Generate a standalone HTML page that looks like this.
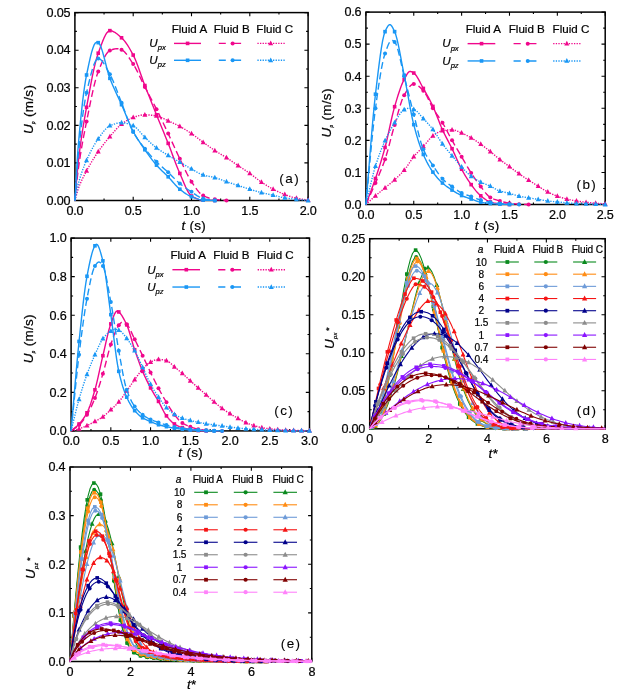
<!DOCTYPE html>
<html><head><meta charset="utf-8"><title>Figure</title>
<style>html,body{margin:0;padding:0;background:#fff;}svg{display:block;will-change:transform;opacity:0.999;}text{font-family:"Liberation Sans", sans-serif;fill:#000;stroke:#000;stroke-width:0.22px;}.tk{font-size:12.6px;letter-spacing:-0.2px;}.lg{font-size:11.6px;}.lg2{font-size:10.1px;letter-spacing:-0.1px;}.ul{font-size:11.6px;}.sb{font-size:7.6px;}.ax{font-size:13.5px;letter-spacing:0.3px;}.pl{font-size:13.5px;letter-spacing:1.4px;stroke-width:0.1px;}</style></head><body>
<svg width="629" height="698" viewBox="0 0 629 698">
<defs><clipPath id="ca"><rect x="71.9" y="9.6" width="239.2" height="193.9"/></clipPath><clipPath id="cb"><rect x="362.9" y="9.1" width="245.3" height="198.4"/></clipPath><clipPath id="cc"><rect x="68.1" y="235.1" width="244.4" height="198.8"/></clipPath><clipPath id="cd"><rect x="366.7" y="235.7" width="241.5" height="196.1"/></clipPath><clipPath id="ce"><rect x="67" y="464" width="247.8" height="200.5"/></clipPath></defs>
<path d="M74.9 200.5 v-3.7 M74.9 12.6 v3.7 M104.05 200.5 v-2 M104.05 12.6 v2 M133.2 200.5 v-3.7 M133.2 12.6 v3.7 M162.35 200.5 v-2 M162.35 12.6 v2 M191.5 200.5 v-3.7 M191.5 12.6 v3.7 M220.65 200.5 v-2 M220.65 12.6 v2 M249.8 200.5 v-3.7 M249.8 12.6 v3.7 M278.95 200.5 v-2 M278.95 12.6 v2 M308.1 200.5 v-3.7 M308.1 12.6 v3.7 M74.9 200.5 h3.7 M308.1 200.5 h-3.7 M74.9 181.71 h2 M308.1 181.71 h-2 M74.9 162.92 h3.7 M308.1 162.92 h-3.7 M74.9 144.13 h2 M308.1 144.13 h-2 M74.9 125.34 h3.7 M308.1 125.34 h-3.7 M74.9 106.55 h2 M308.1 106.55 h-2 M74.9 87.76 h3.7 M308.1 87.76 h-3.7 M74.9 68.97 h2 M308.1 68.97 h-2 M74.9 50.18 h3.7 M308.1 50.18 h-3.7 M74.9 31.39 h2 M308.1 31.39 h-2 M74.9 12.6 h3.7 M308.1 12.6 h-3.7" stroke="#000" stroke-width="1.1" fill="none"/>
<rect x="74.9" y="12.6" width="233.2" height="187.9" fill="none" stroke="#000" stroke-width="1.5"/>
<text x="74.9" y="214.8" text-anchor="middle" class="tk">0.0</text>
<text x="133.2" y="214.8" text-anchor="middle" class="tk">0.5</text>
<text x="191.5" y="214.8" text-anchor="middle" class="tk">1.0</text>
<text x="249.8" y="214.8" text-anchor="middle" class="tk">1.5</text>
<text x="308.1" y="214.8" text-anchor="middle" class="tk">2.0</text>
<text x="70.3" y="204.8" text-anchor="end" class="tk">0.00</text>
<text x="70.3" y="167.22" text-anchor="end" class="tk">0.01</text>
<text x="70.3" y="129.64" text-anchor="end" class="tk">0.02</text>
<text x="70.3" y="92.06" text-anchor="end" class="tk">0.03</text>
<text x="70.3" y="54.48" text-anchor="end" class="tk">0.04</text>
<text x="70.3" y="16.9" text-anchor="end" class="tk">0.05</text>
<g clip-path="url(#ca)"><path d="M74.9 200.5 L75.34 195.44 L75.77 190.2 L76.21 184.88 L76.65 179.61 L77.09 174.47 L77.52 169.6 L77.96 165.08 L78.4 161.04 L79.42 152.61 L80.44 144.86 L81.46 137.68 L82.48 130.99 L83.5 124.7 L84.52 118.71 L85.54 112.95 L86.56 107.3 L88.02 99.27 L89.48 91.32 L90.93 83.58 L92.39 76.21 L93.85 69.33 L95.31 63.11 L96.76 57.68 L98.22 53.19 L99.68 49.17 L101.14 45.19 L102.59 41.39 L104.05 37.93 L105.51 34.97 L106.97 32.67 L108.42 31.17 L109.88 30.64 L111.34 30.81 L112.8 31.28 L114.25 32.01 L115.71 32.95 L117.17 34.04 L118.62 35.24 L120.08 36.5 L121.54 37.78 L123 39.19 L124.46 40.87 L125.91 42.79 L127.37 44.93 L128.83 47.25 L130.28 49.74 L131.74 52.35 L133.2 55.07 L134.66 58.08 L136.12 61.52 L137.57 65.3 L139.03 69.31 L140.49 73.44 L141.95 77.58 L143.4 81.64 L144.86 85.51 L146.32 89.23 L147.78 92.93 L149.23 96.61 L150.69 100.28 L152.15 103.93 L153.61 107.57 L155.06 111.2 L156.52 114.82 L157.98 118.41 L159.44 121.98 L160.89 125.52 L162.35 129.05 L163.81 132.59 L165.27 136.15 L166.72 139.74 L168.18 143.38 L169.64 147.12 L171.1 150.99 L172.55 154.92 L174.01 158.85 L175.47 162.73 L176.93 166.49 L178.38 170.08 L179.84 173.44 L181.3 176.78 L182.76 180.26 L184.21 183.74 L185.67 187.06 L187.13 190.1 L188.59 192.69 L190.04 194.71 L191.5 195.99 L192.96 196.83 L194.42 197.59 L195.87 198.26 L197.33 198.84 L198.79 199.33 L200.25 199.71 L201.7 199.98 L203.16 200.12 L204.62 200.2 L206.08 200.26 L207.53 200.31 L208.99 200.35 L210.45 200.39 L211.91 200.42 L213.36 200.46 L214.82 200.5" fill="none" stroke="#F0078C" stroke-width="1.4" stroke-linejoin="round"/>
<rect x="84.76" y="105.5" width="3.6" height="3.6" fill="#F0078C"/>
<rect x="96.42" y="51.39" width="3.6" height="3.6" fill="#F0078C"/>
<rect x="108.08" y="28.84" width="3.6" height="3.6" fill="#F0078C"/>
<rect x="119.74" y="35.98" width="3.6" height="3.6" fill="#F0078C"/>
<rect x="131.4" y="53.27" width="3.6" height="3.6" fill="#F0078C"/>
<rect x="143.06" y="83.71" width="3.6" height="3.6" fill="#F0078C"/>
<rect x="154.72" y="113.02" width="3.6" height="3.6" fill="#F0078C"/>
<rect x="166.38" y="141.58" width="3.6" height="3.6" fill="#F0078C"/>
<rect x="178.04" y="171.64" width="3.6" height="3.6" fill="#F0078C"/>
<rect x="189.7" y="194.19" width="3.6" height="3.6" fill="#F0078C"/>
<rect x="201.36" y="198.32" width="3.6" height="3.6" fill="#F0078C"/>
<rect x="213.02" y="198.7" width="3.6" height="3.6" fill="#F0078C"/>
<path d="M74.9 200.5 L75.34 196.42 L75.77 192.21 L76.21 187.95 L76.65 183.72 L77.09 179.59 L77.52 175.63 L77.96 171.93 L78.4 168.56 L79.42 161.4 L80.44 154.76 L81.46 148.54 L82.48 142.7 L83.5 137.15 L84.52 131.82 L85.54 126.66 L86.56 121.58 L88.02 114.31 L89.48 107.03 L90.93 99.91 L92.39 93.07 L93.85 86.67 L95.31 80.87 L96.76 75.79 L98.22 71.6 L99.68 67.93 L101.14 64.39 L102.59 61.05 L104.05 58.02 L105.51 55.36 L106.97 53.18 L108.42 51.55 L109.88 50.56 L110.75 50.18 L111.63 49.83 L112.5 49.51 L113.38 49.23 L114.25 49 L115.13 48.83 L116 48.72 L116.88 48.68 L117.46 48.7 L118.04 48.77 L118.62 48.88 L119.21 49.03 L119.79 49.2 L120.37 49.39 L120.96 49.59 L121.54 49.8 L123 50.59 L124.46 51.81 L125.91 53.41 L127.37 55.28 L128.83 57.37 L130.28 59.58 L131.74 61.85 L133.2 64.08 L134.66 66.45 L136.12 69.08 L137.57 71.93 L139.03 74.93 L140.49 78 L141.95 81.08 L143.4 84.11 L144.86 87.01 L146.32 89.8 L147.78 92.55 L149.23 95.28 L150.69 98.01 L152.15 100.74 L153.61 103.5 L155.06 106.31 L156.52 109.18 L157.98 112.12 L159.44 115.1 L160.89 118.14 L162.35 121.2 L163.81 124.29 L165.27 127.39 L166.72 130.5 L168.18 133.61 L169.64 136.73 L171.1 139.9 L172.55 143.1 L174.01 146.3 L175.47 149.48 L176.93 152.64 L178.38 155.75 L179.84 158.79 L181.3 161.83 L182.76 164.93 L184.21 168.03 L185.67 171.08 L187.13 174.03 L188.59 176.82 L190.04 179.4 L191.5 181.71 L192.96 183.88 L194.42 186.04 L195.87 188.13 L197.33 190.09 L198.79 191.87 L200.25 193.42 L201.7 194.69 L203.16 195.61 L204.62 196.32 L206.08 196.95 L207.53 197.52 L208.99 198.02 L210.45 198.45 L211.91 198.82 L213.36 199.13 L214.82 199.37 L216.28 199.57 L217.74 199.74 L219.19 199.88 L220.65 200.01 L222.11 200.13 L223.57 200.25 L225.02 200.37 L226.48 200.5" fill="none" stroke="#F0078C" stroke-width="1.4" stroke-dasharray="7 3.5" stroke-linejoin="round"/>
<circle cx="86.56" cy="121.58" r="2" fill="#F0078C"/>
<circle cx="98.22" cy="71.6" r="2" fill="#F0078C"/>
<circle cx="109.88" cy="50.56" r="2" fill="#F0078C"/>
<circle cx="121.54" cy="49.8" r="2" fill="#F0078C"/>
<circle cx="133.2" cy="64.08" r="2" fill="#F0078C"/>
<circle cx="144.86" cy="87.01" r="2" fill="#F0078C"/>
<circle cx="156.52" cy="109.18" r="2" fill="#F0078C"/>
<circle cx="168.18" cy="133.61" r="2" fill="#F0078C"/>
<circle cx="179.84" cy="158.79" r="2" fill="#F0078C"/>
<circle cx="191.5" cy="181.71" r="2" fill="#F0078C"/>
<circle cx="203.16" cy="195.61" r="2" fill="#F0078C"/>
<circle cx="214.82" cy="199.37" r="2" fill="#F0078C"/>
<circle cx="226.48" cy="200.5" r="2" fill="#F0078C"/>
<path d="M74.9 200.5 L75.34 198.96 L75.77 197.38 L76.21 195.78 L76.65 194.18 L77.09 192.63 L77.52 191.14 L77.96 189.74 L78.4 188.47 L79.42 185.79 L80.44 183.29 L81.46 180.96 L82.48 178.77 L83.5 176.69 L84.52 174.69 L85.54 172.74 L86.56 170.81 L88.02 168.12 L89.48 165.52 L90.93 163.01 L92.39 160.59 L93.85 158.25 L95.31 155.98 L96.76 153.78 L98.22 151.65 L99.68 149.57 L101.14 147.56 L102.59 145.62 L104.05 143.72 L105.51 141.88 L106.97 140.08 L108.42 138.33 L109.88 136.61 L111.34 134.9 L112.8 133.18 L114.25 131.47 L115.71 129.81 L117.17 128.22 L118.62 126.74 L120.08 125.4 L121.54 124.21 L123 123.14 L124.46 122.1 L125.91 121.12 L127.37 120.21 L128.83 119.37 L130.28 118.63 L131.74 117.98 L133.2 117.45 L134.66 116.97 L136.12 116.5 L137.57 116.06 L139.03 115.66 L140.49 115.32 L141.95 115.05 L143.4 114.88 L144.86 114.82 L146.32 114.84 L147.78 114.91 L149.23 115.01 L150.69 115.15 L152.15 115.32 L153.61 115.51 L155.06 115.72 L156.52 115.94 L157.98 116.26 L159.44 116.72 L160.89 117.3 L162.35 117.96 L163.81 118.68 L165.27 119.42 L166.72 120.14 L168.18 120.83 L169.64 121.49 L171.1 122.15 L172.55 122.83 L174.01 123.52 L175.47 124.22 L176.93 124.95 L178.38 125.69 L179.84 126.47 L181.3 127.27 L182.76 128.1 L184.21 128.96 L185.67 129.85 L187.13 130.76 L188.59 131.69 L190.04 132.64 L191.5 133.61 L192.96 134.61 L194.42 135.66 L195.87 136.75 L197.33 137.85 L198.79 138.97 L200.25 140.08 L201.7 141.18 L203.16 142.25 L204.62 143.31 L206.08 144.37 L207.53 145.43 L208.99 146.48 L210.45 147.52 L211.91 148.55 L213.36 149.55 L214.82 150.52 L216.28 151.46 L217.74 152.36 L219.19 153.24 L220.65 154.11 L222.11 154.97 L223.57 155.85 L225.02 156.74 L226.48 157.66 L227.94 158.61 L229.4 159.58 L230.85 160.56 L232.31 161.56 L233.77 162.56 L235.23 163.56 L236.68 164.56 L238.14 165.55 L239.6 166.53 L241.06 167.51 L242.51 168.48 L243.97 169.45 L245.43 170.43 L246.89 171.42 L248.34 172.42 L249.8 173.44 L251.26 174.5 L252.72 175.59 L254.17 176.7 L255.63 177.82 L257.09 178.93 L258.55 180.02 L260 181.08 L261.46 182.09 L262.92 183.06 L264.38 184.02 L265.83 184.96 L267.29 185.88 L268.75 186.77 L270.21 187.62 L271.66 188.45 L273.12 189.23 L274.58 189.97 L276.04 190.69 L277.49 191.39 L278.95 192.07 L280.41 192.71 L281.87 193.33 L283.32 193.92 L284.78 194.49 L286.24 195.03 L287.7 195.57 L289.15 196.1 L290.61 196.6 L292.07 197.07 L293.53 197.51 L294.98 197.9 L296.44 198.25 L297.9 198.54 L299.36 198.8 L300.81 199.04 L302.27 199.26 L303.73 199.47 L305.19 199.68 L306.64 199.9 L308.1 200.12" fill="none" stroke="#F0078C" stroke-width="1.4" stroke-dasharray="1.3 1.3" stroke-linejoin="round"/>
<path d="M86.56 167.94 L84.06 172.69 L89.06 172.69 Z" fill="#F0078C"/>
<path d="M98.22 148.77 L95.72 153.52 L100.72 153.52 Z" fill="#F0078C"/>
<path d="M109.88 133.74 L107.38 138.49 L112.38 138.49 Z" fill="#F0078C"/>
<path d="M121.54 121.34 L119.04 126.09 L124.04 126.09 Z" fill="#F0078C"/>
<path d="M133.2 114.57 L130.7 119.32 L135.7 119.32 Z" fill="#F0078C"/>
<path d="M144.86 111.94 L142.36 116.69 L147.36 116.69 Z" fill="#F0078C"/>
<path d="M156.52 113.07 L154.02 117.82 L159.02 117.82 Z" fill="#F0078C"/>
<path d="M168.18 117.96 L165.68 122.71 L170.68 122.71 Z" fill="#F0078C"/>
<path d="M179.84 123.59 L177.34 128.34 L182.34 128.34 Z" fill="#F0078C"/>
<path d="M191.5 130.73 L189 135.48 L194 135.48 Z" fill="#F0078C"/>
<path d="M203.16 139.38 L200.66 144.13 L205.66 144.13 Z" fill="#F0078C"/>
<path d="M214.82 147.64 L212.32 152.39 L217.32 152.39 Z" fill="#F0078C"/>
<path d="M226.48 154.78 L223.98 159.53 L228.98 159.53 Z" fill="#F0078C"/>
<path d="M238.14 162.68 L235.64 167.43 L240.64 167.43 Z" fill="#F0078C"/>
<path d="M249.8 170.57 L247.3 175.32 L252.3 175.32 Z" fill="#F0078C"/>
<path d="M261.46 179.21 L258.96 183.96 L263.96 183.96 Z" fill="#F0078C"/>
<path d="M273.12 186.35 L270.62 191.1 L275.62 191.1 Z" fill="#F0078C"/>
<path d="M284.78 191.61 L282.28 196.36 L287.28 196.36 Z" fill="#F0078C"/>
<path d="M296.44 195.37 L293.94 200.12 L298.94 200.12 Z" fill="#F0078C"/>
<path d="M308.1 197.25 L305.6 202 L310.6 202 Z" fill="#F0078C"/>
<path d="M74.9 200.5 L75.34 193.24 L75.77 185.66 L76.21 177.97 L76.65 170.33 L77.09 162.95 L77.52 155.99 L77.96 149.66 L78.4 144.13 L79.42 132.65 L80.44 121.87 L81.46 111.86 L82.48 102.65 L83.5 94.31 L84.52 86.88 L85.54 80.42 L86.56 74.98 L87.8 69.01 L89.04 63.16 L90.28 57.64 L91.52 52.67 L92.75 48.44 L93.99 45.16 L95.23 43.04 L96.47 42.29 L96.69 42.3 L96.91 42.32 L97.13 42.36 L97.35 42.4 L97.56 42.46 L97.78 42.52 L98 42.59 L98.22 42.66 L99.68 44.15 L101.14 47.36 L102.59 51.86 L104.05 57.21 L105.51 62.97 L106.97 68.71 L108.42 73.98 L109.88 78.36 L111.34 82.03 L112.8 85.49 L114.25 88.8 L115.71 91.99 L117.17 95.13 L118.62 98.26 L120.08 101.42 L121.54 104.67 L123 108.05 L124.46 111.54 L125.91 115.08 L127.37 118.6 L128.83 122.05 L130.28 125.36 L131.74 128.48 L133.2 131.35 L134.66 134 L136.12 136.51 L137.57 138.9 L139.03 141.19 L140.49 143.4 L141.95 145.55 L143.4 147.67 L144.86 149.77 L146.32 151.85 L147.78 153.91 L149.23 155.93 L150.69 157.91 L152.15 159.83 L153.61 161.69 L155.06 163.47 L156.52 165.17 L157.98 166.78 L159.44 168.3 L160.89 169.75 L162.35 171.16 L163.81 172.54 L165.27 173.94 L166.72 175.36 L168.18 176.82 L169.64 178.38 L171.1 180.01 L172.55 181.69 L174.01 183.36 L175.47 184.99 L176.93 186.54 L178.38 187.96 L179.84 189.23 L181.3 190.38 L182.76 191.5 L184.21 192.57 L185.67 193.57 L187.13 194.5 L188.59 195.35 L190.04 196.1 L191.5 196.74 L192.96 197.32 L194.42 197.89 L195.87 198.44 L197.33 198.93 L198.79 199.36 L200.25 199.72 L201.7 199.98 L203.16 200.12 L204.62 200.2 L206.08 200.26 L207.53 200.31 L208.99 200.35 L210.45 200.39 L211.91 200.42 L213.36 200.46 L214.82 200.5" fill="none" stroke="#1A97F5" stroke-width="1.4" stroke-linejoin="round"/>
<rect x="84.76" y="73.18" width="3.6" height="3.6" fill="#1A97F5"/>
<rect x="96.42" y="40.86" width="3.6" height="3.6" fill="#1A97F5"/>
<rect x="108.08" y="76.56" width="3.6" height="3.6" fill="#1A97F5"/>
<rect x="119.74" y="102.87" width="3.6" height="3.6" fill="#1A97F5"/>
<rect x="131.4" y="129.55" width="3.6" height="3.6" fill="#1A97F5"/>
<rect x="143.06" y="147.97" width="3.6" height="3.6" fill="#1A97F5"/>
<rect x="154.72" y="163.37" width="3.6" height="3.6" fill="#1A97F5"/>
<rect x="166.38" y="175.02" width="3.6" height="3.6" fill="#1A97F5"/>
<rect x="178.04" y="187.43" width="3.6" height="3.6" fill="#1A97F5"/>
<rect x="189.7" y="194.94" width="3.6" height="3.6" fill="#1A97F5"/>
<rect x="201.36" y="198.32" width="3.6" height="3.6" fill="#1A97F5"/>
<rect x="213.02" y="198.7" width="3.6" height="3.6" fill="#1A97F5"/>
<path d="M74.9 200.5 L75.34 194.46 L75.77 188.19 L76.21 181.82 L76.65 175.5 L77.09 169.37 L77.52 163.57 L77.96 158.24 L78.4 153.53 L79.42 143.6 L80.44 134.22 L81.46 125.44 L82.48 117.32 L83.5 109.92 L84.52 103.3 L85.54 97.52 L86.56 92.65 L88.02 86.35 L89.48 80.22 L90.93 74.44 L92.39 69.25 L93.85 64.84 L95.31 61.43 L96.76 59.23 L98.22 58.45 L99.68 58.85 L101.14 59.96 L102.59 61.65 L104.05 63.8 L105.51 66.26 L106.97 68.91 L108.42 71.61 L109.88 74.23 L111.34 77.01 L112.8 80.2 L114.25 83.7 L115.71 87.44 L117.17 91.3 L118.62 95.21 L120.08 99.07 L121.54 102.79 L123 106.53 L124.46 110.45 L125.91 114.45 L127.37 118.42 L128.83 122.28 L130.28 125.91 L131.74 129.22 L133.2 132.1 L134.66 134.64 L136.12 136.97 L137.57 139.15 L139.03 141.18 L140.49 143.12 L141.95 144.99 L143.4 146.82 L144.86 148.64 L146.32 150.45 L147.78 152.21 L149.23 153.92 L150.69 155.59 L152.15 157.21 L153.61 158.78 L155.06 160.31 L156.52 161.79 L157.98 163.21 L159.44 164.57 L160.89 165.88 L162.35 167.15 L163.81 168.42 L165.27 169.69 L166.72 170.98 L168.18 172.31 L169.64 173.71 L171.1 175.16 L172.55 176.64 L174.01 178.12 L175.47 179.58 L176.93 181 L178.38 182.34 L179.84 183.59 L181.3 184.76 L182.76 185.87 L184.21 186.95 L185.67 187.99 L187.13 188.99 L188.59 189.97 L190.04 190.92 L191.5 191.86 L192.96 192.82 L194.42 193.82 L195.87 194.83 L197.33 195.8 L198.79 196.7 L200.25 197.5 L201.7 198.15 L203.16 198.62 L204.62 198.96 L206.08 199.24 L207.53 199.48 L208.99 199.69 L210.45 199.89 L211.91 200.08 L213.36 200.28 L214.82 200.5" fill="none" stroke="#1A97F5" stroke-width="1.4" stroke-dasharray="7 3.5" stroke-linejoin="round"/>
<circle cx="86.56" cy="92.65" r="2" fill="#1A97F5"/>
<circle cx="98.22" cy="58.45" r="2" fill="#1A97F5"/>
<circle cx="109.88" cy="74.23" r="2" fill="#1A97F5"/>
<circle cx="121.54" cy="102.79" r="2" fill="#1A97F5"/>
<circle cx="133.2" cy="132.1" r="2" fill="#1A97F5"/>
<circle cx="144.86" cy="148.64" r="2" fill="#1A97F5"/>
<circle cx="156.52" cy="161.79" r="2" fill="#1A97F5"/>
<circle cx="168.18" cy="172.31" r="2" fill="#1A97F5"/>
<circle cx="179.84" cy="183.59" r="2" fill="#1A97F5"/>
<circle cx="191.5" cy="191.86" r="2" fill="#1A97F5"/>
<circle cx="203.16" cy="198.62" r="2" fill="#1A97F5"/>
<circle cx="214.82" cy="200.5" r="2" fill="#1A97F5"/>
<path d="M74.9 200.5 L75.34 198.33 L75.77 196.09 L76.21 193.81 L76.65 191.56 L77.09 189.36 L77.52 187.27 L77.96 185.33 L78.4 183.59 L79.42 179.94 L80.44 176.55 L81.46 173.4 L82.48 170.46 L83.5 167.7 L84.52 165.11 L85.54 162.64 L86.56 160.29 L88.02 157.06 L89.48 153.99 L90.93 151.08 L92.39 148.32 L93.85 145.71 L95.31 143.27 L96.76 140.99 L98.22 138.87 L99.68 136.81 L101.14 134.75 L102.59 132.75 L104.05 130.87 L105.51 129.16 L106.97 127.7 L108.42 126.53 L109.88 125.72 L111.34 125.12 L112.8 124.56 L114.25 124.05 L115.71 123.6 L117.17 123.23 L118.62 122.95 L120.08 122.77 L121.54 122.71 L123 122.77 L124.46 122.96 L125.91 123.24 L127.37 123.62 L128.83 124.06 L130.28 124.57 L131.74 125.13 L133.2 125.72 L134.66 126.52 L136.12 127.69 L137.57 129.13 L139.03 130.76 L140.49 132.48 L141.95 134.21 L143.4 135.87 L144.86 137.37 L146.32 138.76 L147.78 140.15 L149.23 141.54 L150.69 142.91 L152.15 144.25 L153.61 145.53 L155.06 146.75 L156.52 147.89 L157.98 148.95 L159.44 149.96 L160.89 150.92 L162.35 151.85 L163.81 152.75 L165.27 153.64 L166.72 154.52 L168.18 155.4 L169.64 156.28 L171.1 157.15 L172.55 157.99 L174.01 158.83 L175.47 159.66 L176.93 160.49 L178.38 161.33 L179.84 162.17 L181.3 163.02 L182.76 163.88 L184.21 164.74 L185.67 165.6 L187.13 166.45 L188.59 167.3 L190.04 168.13 L191.5 168.93 L192.96 169.75 L194.42 170.6 L195.87 171.45 L197.33 172.28 L198.79 173.07 L200.25 173.79 L201.7 174.42 L203.16 174.95 L204.62 175.36 L206.08 175.72 L207.53 176.03 L208.99 176.32 L210.45 176.59 L211.91 176.88 L213.36 177.21 L214.82 177.58 L216.28 178.01 L217.74 178.49 L219.19 179.01 L220.65 179.55 L222.11 180.11 L223.57 180.66 L225.02 181.2 L226.48 181.71 L227.94 182.2 L229.4 182.67 L230.85 183.15 L232.31 183.61 L233.77 184.07 L235.23 184.54 L236.68 185 L238.14 185.47 L239.6 185.94 L241.06 186.42 L242.51 186.89 L243.97 187.37 L245.43 187.85 L246.89 188.31 L248.34 188.78 L249.8 189.23 L251.26 189.67 L252.72 190.12 L254.17 190.56 L255.63 190.99 L257.09 191.42 L258.55 191.83 L260 192.23 L261.46 192.61 L262.92 192.97 L264.38 193.31 L265.83 193.64 L267.29 193.96 L268.75 194.28 L270.21 194.6 L271.66 194.91 L273.12 195.24 L274.58 195.58 L276.04 195.93 L277.49 196.29 L278.95 196.64 L280.41 196.99 L281.87 197.31 L283.32 197.61 L284.78 197.87 L286.24 198.1 L287.7 198.31 L289.15 198.51 L290.61 198.7 L292.07 198.88 L293.53 199.05 L294.98 199.21 L296.44 199.37 L297.9 199.53 L299.36 199.68 L300.81 199.82 L302.27 199.96 L303.73 200.09 L305.19 200.23 L306.64 200.36 L308.1 200.5" fill="none" stroke="#1A97F5" stroke-width="1.4" stroke-dasharray="1.3 1.3" stroke-linejoin="round"/>
<path d="M86.56 157.41 L84.06 162.16 L89.06 162.16 Z" fill="#1A97F5"/>
<path d="M98.22 135.99 L95.72 140.74 L100.72 140.74 Z" fill="#1A97F5"/>
<path d="M109.88 122.84 L107.38 127.59 L112.38 127.59 Z" fill="#1A97F5"/>
<path d="M121.54 119.83 L119.04 124.58 L124.04 124.58 Z" fill="#1A97F5"/>
<path d="M133.2 122.84 L130.7 127.59 L135.7 127.59 Z" fill="#1A97F5"/>
<path d="M144.86 134.49 L142.36 139.24 L147.36 139.24 Z" fill="#1A97F5"/>
<path d="M156.52 145.01 L154.02 149.76 L159.02 149.76 Z" fill="#1A97F5"/>
<path d="M168.18 152.53 L165.68 157.28 L170.68 157.28 Z" fill="#1A97F5"/>
<path d="M179.84 159.29 L177.34 164.04 L182.34 164.04 Z" fill="#1A97F5"/>
<path d="M191.5 166.06 L189 170.81 L194 170.81 Z" fill="#1A97F5"/>
<path d="M203.16 172.07 L200.66 176.82 L205.66 176.82 Z" fill="#1A97F5"/>
<path d="M214.82 174.7 L212.32 179.45 L217.32 179.45 Z" fill="#1A97F5"/>
<path d="M226.48 178.84 L223.98 183.59 L228.98 183.59 Z" fill="#1A97F5"/>
<path d="M238.14 182.59 L235.64 187.34 L240.64 187.34 Z" fill="#1A97F5"/>
<path d="M249.8 186.35 L247.3 191.1 L252.3 191.1 Z" fill="#1A97F5"/>
<path d="M261.46 189.73 L258.96 194.48 L263.96 194.48 Z" fill="#1A97F5"/>
<path d="M273.12 192.36 L270.62 197.11 L275.62 197.11 Z" fill="#1A97F5"/>
<path d="M284.78 194.99 L282.28 199.74 L287.28 199.74 Z" fill="#1A97F5"/>
<path d="M296.44 196.5 L293.94 201.25 L298.94 201.25 Z" fill="#1A97F5"/>
<path d="M308.1 197.62 L305.6 202.38 L310.6 202.38 Z" fill="#1A97F5"/></g>
<text x="189.4" y="33.3" text-anchor="middle" class="lg">Fluid A</text>
<text x="231.7" y="33.3" text-anchor="middle" class="lg">Fluid B</text>
<text x="274.7" y="33.3" text-anchor="middle" class="lg">Fluid C</text>
<text x="149.3" y="47.2" class="ul"><tspan font-style="italic">U</tspan><tspan class="sb" dy="3.2" font-style="italic">px</tspan></text>
<path d="M174 43.4 H201" stroke="#F0078C" stroke-width="1.4"/>
<rect x="185.8" y="41.6" width="3.6" height="3.6" fill="#F0078C"/>
<path d="M218.8 43.4 H225.8 M230.9 43.4 H241.1" stroke="#F0078C" stroke-width="1.4"/>
<circle cx="232.6" cy="43.4" r="2" fill="#F0078C"/>
<path d="M257.4 43.4 H284.7" stroke="#F0078C" stroke-width="1.4" stroke-dasharray="1.3 1.3"/>
<path d="M270.7 40.52 L268.2 45.27 L273.2 45.27 Z" fill="#F0078C"/>
<text x="149.3" y="64.1" class="ul"><tspan font-style="italic">U</tspan><tspan class="sb" dy="3.2" font-style="italic">pz</tspan></text>
<path d="M174 60.3 H201" stroke="#1A97F5" stroke-width="1.4"/>
<rect x="185.8" y="58.5" width="3.6" height="3.6" fill="#1A97F5"/>
<path d="M218.8 60.3 H225.8 M230.9 60.3 H241.1" stroke="#1A97F5" stroke-width="1.4"/>
<circle cx="232.6" cy="60.3" r="2" fill="#1A97F5"/>
<path d="M257.4 60.3 H284.7" stroke="#1A97F5" stroke-width="1.4" stroke-dasharray="1.3 1.3"/>
<path d="M270.7 57.42 L268.2 62.17 L273.2 62.17 Z" fill="#1A97F5"/>
<text x="289.7" y="182.5" text-anchor="middle" class="pl">(a)</text>
<text x="193.8" y="230.2" text-anchor="middle" class="ax"><tspan font-style="italic">t</tspan> (s)</text>
<text transform="translate(33.2 109.4) rotate(-90)" text-anchor="middle" class="ax"><tspan font-style="italic">U</tspan><tspan font-size="4.5px" dy="2" font-style="italic">p</tspan><tspan dy="-2"> (m/s)</tspan></text>
<path d="M365.9 204.5 v-3.7 M365.9 12.1 v3.7 M389.83 204.5 v-2 M389.83 12.1 v2 M413.76 204.5 v-3.7 M413.76 12.1 v3.7 M437.69 204.5 v-2 M437.69 12.1 v2 M461.62 204.5 v-3.7 M461.62 12.1 v3.7 M485.55 204.5 v-2 M485.55 12.1 v2 M509.48 204.5 v-3.7 M509.48 12.1 v3.7 M533.41 204.5 v-2 M533.41 12.1 v2 M557.34 204.5 v-3.7 M557.34 12.1 v3.7 M581.27 204.5 v-2 M581.27 12.1 v2 M605.2 204.5 v-3.7 M605.2 12.1 v3.7 M365.9 204.5 h3.7 M605.2 204.5 h-3.7 M365.9 188.47 h2 M605.2 188.47 h-2 M365.9 172.43 h3.7 M605.2 172.43 h-3.7 M365.9 156.4 h2 M605.2 156.4 h-2 M365.9 140.37 h3.7 M605.2 140.37 h-3.7 M365.9 124.33 h2 M605.2 124.33 h-2 M365.9 108.3 h3.7 M605.2 108.3 h-3.7 M365.9 92.27 h2 M605.2 92.27 h-2 M365.9 76.23 h3.7 M605.2 76.23 h-3.7 M365.9 60.2 h2 M605.2 60.2 h-2 M365.9 44.17 h3.7 M605.2 44.17 h-3.7 M365.9 28.13 h2 M605.2 28.13 h-2 M365.9 12.1 h3.7 M605.2 12.1 h-3.7" stroke="#000" stroke-width="1.1" fill="none"/>
<rect x="365.9" y="12.1" width="239.3" height="192.4" fill="none" stroke="#000" stroke-width="1.5"/>
<text x="365.9" y="218.8" text-anchor="middle" class="tk">0.0</text>
<text x="413.76" y="218.8" text-anchor="middle" class="tk">0.5</text>
<text x="461.62" y="218.8" text-anchor="middle" class="tk">1.0</text>
<text x="509.48" y="218.8" text-anchor="middle" class="tk">1.5</text>
<text x="557.34" y="218.8" text-anchor="middle" class="tk">2.0</text>
<text x="605.2" y="218.8" text-anchor="middle" class="tk">2.5</text>
<text x="361.3" y="208.8" text-anchor="end" class="tk">0.0</text>
<text x="361.3" y="176.73" text-anchor="end" class="tk">0.1</text>
<text x="361.3" y="144.67" text-anchor="end" class="tk">0.2</text>
<text x="361.3" y="112.6" text-anchor="end" class="tk">0.3</text>
<text x="361.3" y="80.53" text-anchor="end" class="tk">0.4</text>
<text x="361.3" y="48.47" text-anchor="end" class="tk">0.5</text>
<text x="361.3" y="16.4" text-anchor="end" class="tk">0.6</text>
<g clip-path="url(#cb)"><path d="M365.9 204.5 L367.1 201.29 L368.29 198.12 L369.49 194.96 L370.69 191.8 L371.88 188.61 L373.08 185.35 L374.28 182 L375.47 178.53 L376.67 174.96 L377.87 171.34 L379.06 167.64 L380.26 163.84 L381.45 159.94 L382.65 155.91 L383.85 151.75 L385.04 147.42 L386.24 142.74 L387.44 137.63 L388.63 132.24 L389.83 126.73 L391.03 121.27 L392.22 116 L393.42 111.09 L394.62 106.7 L395.81 102.64 L397.01 98.66 L398.21 94.82 L399.4 91.17 L400.6 87.75 L401.79 84.62 L402.99 81.83 L404.19 79.44 L404.91 78.09 L405.62 76.72 L406.34 75.37 L407.06 74.12 L407.78 73.04 L408.5 72.19 L409.21 71.62 L409.93 71.42 L410.41 71.46 L410.89 71.56 L411.37 71.72 L411.85 71.93 L412.32 72.18 L412.8 72.45 L413.28 72.73 L413.76 73.03 L414.96 74.02 L416.15 75.48 L417.35 77.3 L418.55 79.38 L419.74 81.64 L420.94 83.96 L422.14 86.25 L423.33 88.42 L424.53 90.5 L425.73 92.6 L426.92 94.74 L428.12 96.93 L429.31 99.17 L430.51 101.49 L431.71 103.89 L432.9 106.38 L434.1 109.04 L435.3 111.91 L436.49 114.92 L437.69 118.01 L438.89 121.1 L440.08 124.14 L441.28 127.05 L442.48 129.78 L443.67 132.33 L444.87 134.76 L446.07 137.11 L447.26 139.4 L448.46 141.67 L449.65 143.96 L450.85 146.29 L452.05 148.7 L453.24 151.23 L454.44 153.85 L455.64 156.54 L456.83 159.23 L458.03 161.89 L459.23 164.47 L460.42 166.93 L461.62 169.23 L462.82 171.39 L464.01 173.5 L465.21 175.53 L466.41 177.5 L467.6 179.39 L468.8 181.21 L470 182.96 L471.19 184.62 L472.39 186.24 L473.59 187.83 L474.78 189.38 L475.98 190.87 L477.17 192.27 L478.37 193.59 L479.57 194.78 L480.76 195.84 L481.96 196.82 L483.16 197.77 L484.35 198.67 L485.55 199.51 L486.75 200.27 L487.94 200.94 L489.14 201.5 L490.34 201.93 L491.53 202.28 L492.73 202.6 L493.93 202.89 L495.12 203.14 L496.32 203.37 L497.51 203.56 L498.71 203.72 L499.91 203.86 L501.1 203.97 L502.3 204.06 L503.5 204.15 L504.69 204.22 L505.89 204.29 L507.09 204.35 L508.28 204.42 L509.48 204.5" fill="none" stroke="#F0078C" stroke-width="1.4" stroke-linejoin="round"/>
<rect x="373.67" y="176.73" width="3.6" height="3.6" fill="#F0078C"/>
<rect x="383.24" y="145.62" width="3.6" height="3.6" fill="#F0078C"/>
<rect x="392.82" y="104.9" width="3.6" height="3.6" fill="#F0078C"/>
<rect x="402.39" y="77.64" width="3.6" height="3.6" fill="#F0078C"/>
<rect x="411.96" y="71.23" width="3.6" height="3.6" fill="#F0078C"/>
<rect x="421.53" y="86.62" width="3.6" height="3.6" fill="#F0078C"/>
<rect x="431.1" y="104.58" width="3.6" height="3.6" fill="#F0078C"/>
<rect x="440.68" y="127.98" width="3.6" height="3.6" fill="#F0078C"/>
<rect x="450.25" y="146.9" width="3.6" height="3.6" fill="#F0078C"/>
<rect x="459.82" y="167.43" width="3.6" height="3.6" fill="#F0078C"/>
<rect x="469.39" y="182.82" width="3.6" height="3.6" fill="#F0078C"/>
<rect x="478.96" y="194.04" width="3.6" height="3.6" fill="#F0078C"/>
<rect x="488.54" y="200.13" width="3.6" height="3.6" fill="#F0078C"/>
<rect x="498.11" y="202.06" width="3.6" height="3.6" fill="#F0078C"/>
<rect x="507.68" y="202.7" width="3.6" height="3.6" fill="#F0078C"/>
<path d="M365.9 204.5 L367.1 201.83 L368.29 199.18 L369.49 196.54 L370.69 193.89 L371.88 191.23 L373.08 188.54 L374.28 185.8 L375.47 183.02 L376.67 180.22 L377.87 177.45 L379.06 174.67 L380.26 171.84 L381.45 168.92 L382.65 165.88 L383.85 162.68 L385.04 159.29 L386.24 155.56 L387.44 151.48 L388.63 147.12 L389.83 142.61 L391.03 138.04 L392.22 133.51 L393.42 129.12 L394.62 124.97 L395.81 120.86 L397.01 116.59 L398.21 112.3 L399.4 108.11 L400.6 104.17 L401.79 100.61 L402.99 97.56 L404.19 95.15 L405.38 93.11 L406.58 91.11 L407.78 89.21 L408.97 87.5 L410.17 86.05 L411.37 84.92 L412.56 84.19 L413.76 83.93 L414.96 84.09 L416.15 84.52 L417.35 85.2 L418.55 86.08 L419.74 87.1 L420.94 88.24 L422.14 89.44 L423.33 90.66 L424.53 92.14 L425.73 94.05 L426.92 96.28 L428.12 98.72 L429.31 101.25 L430.51 103.77 L431.71 106.16 L432.9 108.3 L434.1 110.22 L435.3 112.04 L436.49 113.8 L437.69 115.51 L438.89 117.23 L440.08 118.99 L441.28 120.81 L442.48 122.73 L443.67 124.77 L444.87 126.92 L446.07 129.14 L447.26 131.41 L448.46 133.7 L449.65 135.97 L450.85 138.2 L452.05 140.37 L453.24 142.47 L454.44 144.54 L455.64 146.59 L456.83 148.62 L458.03 150.64 L459.23 152.66 L460.42 154.68 L461.62 156.72 L462.82 158.79 L464.01 160.88 L465.21 162.99 L466.41 165.1 L467.6 167.17 L468.8 169.21 L470 171.18 L471.19 173.07 L472.39 174.9 L473.59 176.69 L474.78 178.44 L475.98 180.15 L477.17 181.81 L478.37 183.44 L479.57 185.01 L480.76 186.54 L481.96 188.09 L483.16 189.69 L484.35 191.29 L485.55 192.83 L486.75 194.27 L487.94 195.56 L489.14 196.63 L490.34 197.45 L491.53 198.07 L492.73 198.62 L493.93 199.1 L495.12 199.53 L496.32 199.92 L497.51 200.29 L498.71 200.63 L499.91 200.97 L501.1 201.31 L502.3 201.65 L503.5 201.97 L504.69 202.27 L505.89 202.55 L507.09 202.81 L508.28 203.03 L509.48 203.22 L510.68 203.38 L511.87 203.53 L513.07 203.68 L514.27 203.81 L515.46 203.92 L516.66 204.02 L517.86 204.11 L519.05 204.18 L520.25 204.23 L521.45 204.28 L522.64 204.32 L523.84 204.36 L525.03 204.39 L526.23 204.43 L527.43 204.46 L528.62 204.5" fill="none" stroke="#F0078C" stroke-width="1.4" stroke-dasharray="7 3.5" stroke-linejoin="round"/>
<circle cx="375.47" cy="183.02" r="2" fill="#F0078C"/>
<circle cx="385.04" cy="159.29" r="2" fill="#F0078C"/>
<circle cx="394.62" cy="124.97" r="2" fill="#F0078C"/>
<circle cx="404.19" cy="95.15" r="2" fill="#F0078C"/>
<circle cx="413.76" cy="83.93" r="2" fill="#F0078C"/>
<circle cx="423.33" cy="90.66" r="2" fill="#F0078C"/>
<circle cx="432.9" cy="108.3" r="2" fill="#F0078C"/>
<circle cx="442.48" cy="122.73" r="2" fill="#F0078C"/>
<circle cx="452.05" cy="140.37" r="2" fill="#F0078C"/>
<circle cx="461.62" cy="156.72" r="2" fill="#F0078C"/>
<circle cx="471.19" cy="173.07" r="2" fill="#F0078C"/>
<circle cx="480.76" cy="186.54" r="2" fill="#F0078C"/>
<circle cx="490.34" cy="197.45" r="2" fill="#F0078C"/>
<circle cx="499.91" cy="200.97" r="2" fill="#F0078C"/>
<circle cx="509.48" cy="203.22" r="2" fill="#F0078C"/>
<circle cx="519.05" cy="204.18" r="2" fill="#F0078C"/>
<circle cx="528.62" cy="204.5" r="2" fill="#F0078C"/>
<path d="M365.9 204.5 L367.1 203.41 L368.29 202.32 L369.49 201.22 L370.69 200.13 L371.88 199.04 L373.08 197.96 L374.28 196.89 L375.47 195.84 L376.67 194.81 L377.87 193.79 L379.06 192.79 L380.26 191.8 L381.45 190.8 L382.65 189.82 L383.85 188.82 L385.04 187.83 L386.24 186.83 L387.44 185.86 L388.63 184.88 L389.83 183.91 L391.03 182.92 L392.22 181.92 L393.42 180.88 L394.62 179.81 L395.81 178.71 L397.01 177.6 L398.21 176.47 L399.4 175.31 L400.6 174.11 L401.79 172.86 L402.99 171.56 L404.19 170.19 L405.38 168.7 L406.58 167.05 L407.78 165.31 L408.97 163.51 L410.17 161.7 L411.37 159.94 L412.56 158.26 L413.76 156.72 L414.96 155.31 L416.15 153.97 L417.35 152.68 L418.55 151.44 L419.74 150.21 L420.94 148.98 L422.14 147.74 L423.33 146.46 L424.53 145.1 L425.73 143.66 L426.92 142.19 L428.12 140.73 L429.31 139.32 L430.51 138.01 L431.71 136.85 L432.9 135.88 L434.1 135.02 L435.3 134.18 L436.49 133.38 L437.69 132.65 L438.89 132 L440.08 131.45 L441.28 131.03 L442.48 130.75 L443.67 130.55 L444.87 130.37 L446.07 130.2 L447.26 130.06 L448.46 129.95 L449.65 129.86 L450.85 129.8 L452.05 129.78 L453.24 129.87 L454.44 130.11 L455.64 130.46 L456.83 130.91 L458.03 131.41 L459.23 131.95 L460.42 132.49 L461.62 132.99 L462.82 133.49 L464.01 134.03 L465.21 134.59 L466.41 135.19 L467.6 135.81 L468.8 136.46 L470 137.12 L471.19 137.8 L472.39 138.51 L473.59 139.25 L474.78 140.03 L475.98 140.84 L477.17 141.66 L478.37 142.51 L479.57 143.36 L480.76 144.21 L481.96 145.08 L483.16 145.97 L484.35 146.88 L485.55 147.8 L486.75 148.73 L487.94 149.68 L489.14 150.63 L490.34 151.59 L491.53 152.57 L492.73 153.57 L493.93 154.59 L495.12 155.62 L496.32 156.65 L497.51 157.66 L498.71 158.65 L499.91 159.61 L501.1 160.53 L502.3 161.43 L503.5 162.32 L504.69 163.19 L505.89 164.06 L507.09 164.92 L508.28 165.79 L509.48 166.66 L510.68 167.55 L511.87 168.44 L513.07 169.34 L514.27 170.23 L515.46 171.12 L516.66 172 L517.86 172.87 L519.05 173.72 L520.25 174.55 L521.45 175.37 L522.64 176.18 L523.84 176.98 L525.03 177.78 L526.23 178.56 L527.43 179.35 L528.62 180.13 L529.82 180.91 L531.02 181.68 L532.21 182.45 L533.41 183.22 L534.61 183.98 L535.8 184.73 L537 185.48 L538.2 186.22 L539.39 186.97 L540.59 187.73 L541.79 188.49 L542.98 189.24 L544.18 189.98 L545.38 190.69 L546.57 191.36 L547.77 191.99 L548.96 192.59 L550.16 193.17 L551.36 193.72 L552.55 194.26 L553.75 194.77 L554.95 195.26 L556.14 195.72 L557.34 196.16 L558.54 196.58 L559.73 196.99 L560.93 197.37 L562.13 197.74 L563.32 198.1 L564.52 198.43 L565.72 198.75 L566.91 199.05 L568.11 199.33 L569.31 199.6 L570.5 199.86 L571.7 200.11 L572.89 200.34 L574.09 200.56 L575.29 200.77 L576.48 200.97 L577.68 201.16 L578.88 201.34 L580.07 201.51 L581.27 201.67 L582.47 201.82 L583.66 201.97 L584.86 202.12 L586.06 202.26 L587.25 202.39 L588.45 202.52 L589.65 202.65 L590.84 202.78 L592.04 202.9 L593.24 203.01 L594.43 203.12 L595.63 203.22 L596.82 203.31 L598.02 203.4 L599.22 203.48 L600.41 203.55 L601.61 203.63 L602.81 203.7 L604 203.78 L605.2 203.86" fill="none" stroke="#F0078C" stroke-width="1.4" stroke-dasharray="1.3 1.3" stroke-linejoin="round"/>
<path d="M375.47 192.97 L372.97 197.72 L377.97 197.72 Z" fill="#F0078C"/>
<path d="M385.04 184.95 L382.54 189.7 L387.54 189.7 Z" fill="#F0078C"/>
<path d="M394.62 176.93 L392.12 181.68 L397.12 181.68 Z" fill="#F0078C"/>
<path d="M404.19 167.31 L401.69 172.06 L406.69 172.06 Z" fill="#F0078C"/>
<path d="M413.76 153.85 L411.26 158.6 L416.26 158.6 Z" fill="#F0078C"/>
<path d="M423.33 143.58 L420.83 148.33 L425.83 148.33 Z" fill="#F0078C"/>
<path d="M432.9 133 L430.4 137.75 L435.4 137.75 Z" fill="#F0078C"/>
<path d="M442.48 127.87 L439.98 132.62 L444.98 132.62 Z" fill="#F0078C"/>
<path d="M452.05 126.91 L449.55 131.66 L454.55 131.66 Z" fill="#F0078C"/>
<path d="M461.62 130.12 L459.12 134.87 L464.12 134.87 Z" fill="#F0078C"/>
<path d="M471.19 134.93 L468.69 139.68 L473.69 139.68 Z" fill="#F0078C"/>
<path d="M480.76 141.34 L478.26 146.09 L483.26 146.09 Z" fill="#F0078C"/>
<path d="M490.34 148.72 L487.84 153.47 L492.84 153.47 Z" fill="#F0078C"/>
<path d="M499.91 156.73 L497.41 161.48 L502.41 161.48 Z" fill="#F0078C"/>
<path d="M509.48 163.79 L506.98 168.54 L511.98 168.54 Z" fill="#F0078C"/>
<path d="M519.05 170.84 L516.55 175.59 L521.55 175.59 Z" fill="#F0078C"/>
<path d="M528.62 177.25 L526.12 182 L531.12 182 Z" fill="#F0078C"/>
<path d="M538.2 183.35 L535.7 188.1 L540.7 188.1 Z" fill="#F0078C"/>
<path d="M547.77 189.12 L545.27 193.87 L550.27 193.87 Z" fill="#F0078C"/>
<path d="M557.34 193.29 L554.84 198.04 L559.84 198.04 Z" fill="#F0078C"/>
<path d="M566.91 196.17 L564.41 200.92 L569.41 200.92 Z" fill="#F0078C"/>
<path d="M576.48 198.1 L573.98 202.85 L578.98 202.85 Z" fill="#F0078C"/>
<path d="M586.06 199.38 L583.56 204.13 L588.56 204.13 Z" fill="#F0078C"/>
<path d="M595.63 200.34 L593.13 205.09 L598.13 205.09 Z" fill="#F0078C"/>
<path d="M605.2 200.98 L602.7 205.73 L607.7 205.73 Z" fill="#F0078C"/>
<path d="M365.9 204.5 L367.1 190.29 L368.29 175.49 L369.49 160.45 L370.69 145.53 L371.88 131.09 L373.08 117.48 L374.28 105.06 L375.47 94.19 L376.67 84.16 L377.87 74.2 L379.06 64.6 L380.26 55.64 L381.45 47.58 L382.65 40.71 L383.85 35.32 L385.04 31.66 L385.64 30.33 L386.24 29.05 L386.84 27.85 L387.44 26.79 L388.04 25.89 L388.63 25.2 L389.23 24.76 L389.83 24.61 L390.43 24.77 L391.03 25.24 L391.62 25.95 L392.22 26.87 L392.82 27.95 L393.42 29.14 L394.02 30.39 L394.62 31.66 L395.81 34.83 L397.01 39.14 L398.21 44.34 L399.4 50.2 L400.6 56.46 L401.79 62.89 L402.99 69.24 L404.19 75.27 L405.38 81.32 L406.58 87.76 L407.78 94.41 L408.97 101.1 L410.17 107.65 L411.37 113.88 L412.56 119.61 L413.76 124.65 L414.96 129.19 L416.15 133.5 L417.35 137.59 L418.55 141.44 L419.74 145.06 L420.94 148.44 L422.14 151.58 L423.33 154.48 L424.53 157.17 L425.73 159.72 L426.92 162.12 L428.12 164.38 L429.31 166.51 L430.51 168.5 L431.71 170.37 L432.9 172.11 L434.1 173.75 L435.3 175.31 L436.49 176.78 L437.69 178.18 L438.89 179.5 L440.08 180.74 L441.28 181.91 L442.48 183.02 L443.67 184.05 L444.87 185.03 L446.07 185.96 L447.26 186.84 L448.46 187.69 L449.65 188.5 L450.85 189.3 L452.05 190.07 L453.24 190.83 L454.44 191.59 L455.64 192.32 L456.83 193.03 L458.03 193.71 L459.23 194.36 L460.42 194.96 L461.62 195.52 L462.82 196.04 L464.01 196.52 L465.21 196.97 L466.41 197.4 L467.6 197.82 L468.8 198.23 L470 198.63 L471.19 199.05 L472.39 199.48 L473.59 199.94 L474.78 200.39 L475.98 200.84 L477.17 201.27 L478.37 201.65 L479.57 201.99 L480.76 202.26 L481.96 202.47 L483.16 202.67 L484.35 202.85 L485.55 203.02 L486.75 203.17 L487.94 203.3 L489.14 203.43 L490.34 203.54 L491.53 203.64 L492.73 203.74 L493.93 203.83 L495.12 203.91 L496.32 203.99 L497.51 204.06 L498.71 204.12 L499.91 204.18 L501.1 204.23 L502.3 204.27 L503.5 204.32 L504.69 204.35 L505.89 204.39 L507.09 204.42 L508.28 204.46 L509.48 204.5" fill="none" stroke="#1A97F5" stroke-width="1.4" stroke-linejoin="round"/>
<rect x="373.67" y="92.39" width="3.6" height="3.6" fill="#1A97F5"/>
<rect x="383.24" y="29.86" width="3.6" height="3.6" fill="#1A97F5"/>
<rect x="392.82" y="29.86" width="3.6" height="3.6" fill="#1A97F5"/>
<rect x="402.39" y="73.47" width="3.6" height="3.6" fill="#1A97F5"/>
<rect x="411.96" y="122.85" width="3.6" height="3.6" fill="#1A97F5"/>
<rect x="421.53" y="152.68" width="3.6" height="3.6" fill="#1A97F5"/>
<rect x="431.1" y="170.31" width="3.6" height="3.6" fill="#1A97F5"/>
<rect x="440.68" y="181.22" width="3.6" height="3.6" fill="#1A97F5"/>
<rect x="450.25" y="188.27" width="3.6" height="3.6" fill="#1A97F5"/>
<rect x="459.82" y="193.72" width="3.6" height="3.6" fill="#1A97F5"/>
<rect x="469.39" y="197.25" width="3.6" height="3.6" fill="#1A97F5"/>
<rect x="478.96" y="200.46" width="3.6" height="3.6" fill="#1A97F5"/>
<rect x="488.54" y="201.74" width="3.6" height="3.6" fill="#1A97F5"/>
<rect x="498.11" y="202.38" width="3.6" height="3.6" fill="#1A97F5"/>
<rect x="507.68" y="202.7" width="3.6" height="3.6" fill="#1A97F5"/>
<path d="M365.9 204.5 L367.1 192.11 L368.29 179.21 L369.49 166.11 L370.69 153.11 L371.88 140.52 L373.08 128.64 L374.28 117.8 L375.47 108.3 L376.67 99.63 L377.87 91.18 L379.06 83.11 L380.26 75.55 L381.45 68.66 L382.65 62.58 L383.85 57.47 L385.04 53.47 L385.88 51.08 L386.72 48.73 L387.56 46.52 L388.39 44.51 L389.23 42.81 L390.07 41.48 L390.91 40.62 L391.74 40.32 L392.1 40.35 L392.46 40.45 L392.82 40.61 L393.18 40.81 L393.54 41.06 L393.9 41.33 L394.26 41.62 L394.62 41.92 L395.81 43.68 L397.01 46.74 L398.21 50.8 L399.4 55.58 L400.6 60.8 L401.79 66.17 L402.99 71.41 L404.19 76.23 L405.38 80.83 L406.58 85.57 L407.78 90.39 L408.97 95.27 L410.17 100.15 L411.37 104.99 L412.56 109.76 L413.76 114.39 L414.96 119.09 L416.15 123.95 L417.35 128.86 L418.55 133.68 L419.74 138.27 L420.94 142.5 L422.14 146.24 L423.33 149.35 L424.53 151.94 L425.73 154.26 L426.92 156.35 L428.12 158.28 L429.31 160.09 L430.51 161.85 L431.71 163.59 L432.9 165.38 L434.1 167.22 L435.3 169.08 L436.49 170.92 L437.69 172.72 L438.89 174.44 L440.08 176.05 L441.28 177.53 L442.48 178.85 L443.67 180.02 L444.87 181.1 L446.07 182.1 L447.26 183.04 L448.46 183.94 L449.65 184.82 L450.85 185.68 L452.05 186.54 L453.24 187.43 L454.44 188.32 L455.64 189.2 L456.83 190.05 L458.03 190.87 L459.23 191.64 L460.42 192.34 L461.62 192.96 L462.82 193.49 L464.01 193.98 L465.21 194.43 L466.41 194.85 L467.6 195.25 L468.8 195.65 L470 196.06 L471.19 196.48 L472.39 196.93 L473.59 197.4 L474.78 197.87 L475.98 198.34 L477.17 198.8 L478.37 199.24 L479.57 199.64 L480.76 200.01 L481.96 200.35 L483.16 200.67 L484.35 200.98 L485.55 201.27 L486.75 201.55 L487.94 201.8 L489.14 202.04 L490.34 202.26 L491.53 202.45 L492.73 202.65 L493.93 202.83 L495.12 202.99 L496.32 203.15 L497.51 203.29 L498.71 203.42 L499.91 203.54 L501.1 203.64 L502.3 203.74 L503.5 203.83 L504.69 203.91 L505.89 203.99 L507.09 204.06 L508.28 204.12 L509.48 204.18 L510.68 204.23 L511.87 204.27 L513.07 204.32 L514.27 204.35 L515.46 204.39 L516.66 204.42 L517.86 204.46 L519.05 204.5" fill="none" stroke="#1A97F5" stroke-width="1.4" stroke-dasharray="7 3.5" stroke-linejoin="round"/>
<circle cx="375.47" cy="108.3" r="2" fill="#1A97F5"/>
<circle cx="385.04" cy="53.47" r="2" fill="#1A97F5"/>
<circle cx="394.62" cy="41.92" r="2" fill="#1A97F5"/>
<circle cx="404.19" cy="76.23" r="2" fill="#1A97F5"/>
<circle cx="413.76" cy="114.39" r="2" fill="#1A97F5"/>
<circle cx="423.33" cy="149.35" r="2" fill="#1A97F5"/>
<circle cx="432.9" cy="165.38" r="2" fill="#1A97F5"/>
<circle cx="442.48" cy="178.85" r="2" fill="#1A97F5"/>
<circle cx="452.05" cy="186.54" r="2" fill="#1A97F5"/>
<circle cx="461.62" cy="192.96" r="2" fill="#1A97F5"/>
<circle cx="471.19" cy="196.48" r="2" fill="#1A97F5"/>
<circle cx="480.76" cy="200.01" r="2" fill="#1A97F5"/>
<circle cx="490.34" cy="202.26" r="2" fill="#1A97F5"/>
<circle cx="499.91" cy="203.54" r="2" fill="#1A97F5"/>
<circle cx="509.48" cy="204.18" r="2" fill="#1A97F5"/>
<circle cx="519.05" cy="204.5" r="2" fill="#1A97F5"/>
<path d="M365.9 204.5 L367.1 199.58 L368.29 194.51 L369.49 189.37 L370.69 184.27 L371.88 179.29 L373.08 174.53 L374.28 170.07 L375.47 166.02 L376.67 162.29 L377.87 158.75 L379.06 155.38 L380.26 152.16 L381.45 149.1 L382.65 146.17 L383.85 143.37 L385.04 140.69 L386.24 138.11 L387.44 135.64 L388.63 133.26 L389.83 130.98 L391.03 128.79 L392.22 126.69 L393.42 124.67 L394.62 122.73 L395.81 120.77 L397.01 118.73 L398.21 116.7 L399.4 114.76 L400.6 112.99 L401.79 111.49 L402.99 110.32 L404.19 109.58 L404.79 109.34 L405.38 109.1 L405.98 108.88 L406.58 108.69 L407.18 108.53 L407.78 108.41 L408.38 108.33 L408.97 108.3 L409.57 108.32 L410.17 108.38 L410.77 108.47 L411.37 108.6 L411.97 108.74 L412.56 108.9 L413.16 109.08 L413.76 109.26 L414.96 109.81 L416.15 110.66 L417.35 111.76 L418.55 113.03 L419.74 114.41 L420.94 115.84 L422.14 117.24 L423.33 118.56 L424.53 119.82 L425.73 121.09 L426.92 122.39 L428.12 123.71 L429.31 125.08 L430.51 126.48 L431.71 127.94 L432.9 129.46 L434.1 131.09 L435.3 132.85 L436.49 134.7 L437.69 136.6 L438.89 138.51 L440.08 140.39 L441.28 142.2 L442.48 143.89 L443.67 145.49 L444.87 147.04 L446.07 148.54 L447.26 150.01 L448.46 151.46 L449.65 152.89 L450.85 154.32 L452.05 155.76 L453.24 157.21 L454.44 158.66 L455.64 160.11 L456.83 161.54 L458.03 162.95 L459.23 164.34 L460.42 165.68 L461.62 166.98 L462.82 168.26 L464.01 169.53 L465.21 170.79 L466.41 172.01 L467.6 173.19 L468.8 174.3 L470 175.34 L471.19 176.28 L472.39 177.14 L473.59 177.96 L474.78 178.73 L475.98 179.45 L477.17 180.14 L478.37 180.8 L479.57 181.44 L480.76 182.05 L481.96 182.63 L483.16 183.18 L484.35 183.69 L485.55 184.18 L486.75 184.67 L487.94 185.17 L489.14 185.68 L490.34 186.22 L491.53 186.81 L492.73 187.46 L493.93 188.13 L495.12 188.8 L496.32 189.45 L497.51 190.06 L498.71 190.59 L499.91 191.03 L501.1 191.39 L502.3 191.69 L503.5 191.97 L504.69 192.22 L505.89 192.47 L507.09 192.71 L508.28 192.98 L509.48 193.28 L510.68 193.61 L511.87 193.99 L513.07 194.38 L514.27 194.78 L515.46 195.17 L516.66 195.54 L517.86 195.88 L519.05 196.16 L520.25 196.41 L521.45 196.63 L522.64 196.83 L523.84 197.02 L525.03 197.21 L526.23 197.39 L527.43 197.57 L528.62 197.77 L529.82 197.97 L531.02 198.17 L532.21 198.37 L533.41 198.57 L534.61 198.77 L535.8 198.97 L537 199.17 L538.2 199.37 L539.39 199.58 L540.59 199.79 L541.79 200.01 L542.98 200.22 L544.18 200.43 L545.38 200.63 L546.57 200.81 L547.77 200.97 L548.96 201.12 L550.16 201.25 L551.36 201.37 L552.55 201.48 L553.75 201.6 L554.95 201.71 L556.14 201.82 L557.34 201.93 L558.54 202.06 L559.73 202.18 L560.93 202.31 L562.13 202.44 L563.32 202.56 L564.52 202.68 L565.72 202.79 L566.91 202.9 L568.11 202.99 L569.31 203.09 L570.5 203.17 L571.7 203.26 L572.89 203.34 L574.09 203.41 L575.29 203.48 L576.48 203.54 L577.68 203.59 L578.88 203.63 L580.07 203.67 L581.27 203.71 L582.47 203.75 L583.66 203.78 L584.86 203.82 L586.06 203.86 L587.25 203.9 L588.45 203.94 L589.65 203.98 L590.84 204.02 L592.04 204.06 L593.24 204.1 L594.43 204.14 L595.63 204.18 L596.82 204.22 L598.02 204.26 L599.22 204.3 L600.41 204.34 L601.61 204.38 L602.81 204.42 L604 204.46 L605.2 204.5" fill="none" stroke="#1A97F5" stroke-width="1.4" stroke-dasharray="1.3 1.3" stroke-linejoin="round"/>
<path d="M375.47 163.14 L372.97 167.89 L377.97 167.89 Z" fill="#1A97F5"/>
<path d="M385.04 137.81 L382.54 142.56 L387.54 142.56 Z" fill="#1A97F5"/>
<path d="M394.62 119.85 L392.12 124.6 L397.12 124.6 Z" fill="#1A97F5"/>
<path d="M404.19 106.71 L401.69 111.46 L406.69 111.46 Z" fill="#1A97F5"/>
<path d="M413.76 106.39 L411.26 111.14 L416.26 111.14 Z" fill="#1A97F5"/>
<path d="M423.33 115.69 L420.83 120.44 L425.83 120.44 Z" fill="#1A97F5"/>
<path d="M432.9 126.59 L430.4 131.34 L435.4 131.34 Z" fill="#1A97F5"/>
<path d="M442.48 141.02 L439.98 145.77 L444.98 145.77 Z" fill="#1A97F5"/>
<path d="M452.05 152.88 L449.55 157.63 L454.55 157.63 Z" fill="#1A97F5"/>
<path d="M461.62 164.11 L459.12 168.86 L464.12 168.86 Z" fill="#1A97F5"/>
<path d="M471.19 173.41 L468.69 178.16 L473.69 178.16 Z" fill="#1A97F5"/>
<path d="M480.76 179.18 L478.26 183.93 L483.26 183.93 Z" fill="#1A97F5"/>
<path d="M490.34 183.35 L487.84 188.1 L492.84 188.1 Z" fill="#1A97F5"/>
<path d="M499.91 188.16 L497.41 192.91 L502.41 192.91 Z" fill="#1A97F5"/>
<path d="M509.48 190.4 L506.98 195.15 L511.98 195.15 Z" fill="#1A97F5"/>
<path d="M519.05 193.29 L516.55 198.04 L521.55 198.04 Z" fill="#1A97F5"/>
<path d="M528.62 194.89 L526.12 199.64 L531.12 199.64 Z" fill="#1A97F5"/>
<path d="M538.2 196.49 L535.7 201.24 L540.7 201.24 Z" fill="#1A97F5"/>
<path d="M547.77 198.1 L545.27 202.85 L550.27 202.85 Z" fill="#1A97F5"/>
<path d="M557.34 199.06 L554.84 203.81 L559.84 203.81 Z" fill="#1A97F5"/>
<path d="M566.91 200.02 L564.41 204.77 L569.41 204.77 Z" fill="#1A97F5"/>
<path d="M576.48 200.66 L573.98 205.41 L578.98 205.41 Z" fill="#1A97F5"/>
<path d="M586.06 200.98 L583.56 205.73 L588.56 205.73 Z" fill="#1A97F5"/>
<path d="M595.63 201.3 L593.13 206.05 L598.13 206.05 Z" fill="#1A97F5"/>
<path d="M605.2 201.62 L602.7 206.38 L607.7 206.38 Z" fill="#1A97F5"/></g>
<text x="483.39" y="33.3" text-anchor="middle" class="lg">Fluid A</text>
<text x="526.8" y="33.3" text-anchor="middle" class="lg">Fluid B</text>
<text x="570.92" y="33.3" text-anchor="middle" class="lg">Fluid C</text>
<text x="442.25" y="47.44" class="ul"><tspan font-style="italic">U</tspan><tspan class="sb" dy="3.2" font-style="italic">px</tspan></text>
<path d="M467.59 43.64 H495.3" stroke="#F0078C" stroke-width="1.4"/>
<rect x="479.75" y="41.84" width="3.6" height="3.6" fill="#F0078C"/>
<path d="M513.56 43.64 H520.75 M525.98 43.64 H536.45" stroke="#F0078C" stroke-width="1.4"/>
<circle cx="527.73" cy="43.64" r="2" fill="#F0078C"/>
<path d="M553.17 43.64 H581.19" stroke="#F0078C" stroke-width="1.4" stroke-dasharray="1.3 1.3"/>
<path d="M566.82 40.76 L564.32 45.51 L569.32 45.51 Z" fill="#F0078C"/>
<text x="442.25" y="64.74" class="ul"><tspan font-style="italic">U</tspan><tspan class="sb" dy="3.2" font-style="italic">pz</tspan></text>
<path d="M467.59 60.94 H495.3" stroke="#1A97F5" stroke-width="1.4"/>
<rect x="479.75" y="59.14" width="3.6" height="3.6" fill="#1A97F5"/>
<path d="M513.56 60.94 H520.75 M525.98 60.94 H536.45" stroke="#1A97F5" stroke-width="1.4"/>
<circle cx="527.73" cy="60.94" r="2" fill="#1A97F5"/>
<path d="M553.17 60.94 H581.19" stroke="#1A97F5" stroke-width="1.4" stroke-dasharray="1.3 1.3"/>
<path d="M566.82 58.07 L564.32 62.82 L569.32 62.82 Z" fill="#1A97F5"/>
<text x="586.9" y="189.1" text-anchor="middle" class="pl">(b)</text>
<text x="487.2" y="229.8" text-anchor="middle" class="ax"><tspan font-style="italic">t</tspan> (s)</text>
<text transform="translate(331.4 112.9) rotate(-90)" text-anchor="middle" class="ax"><tspan font-style="italic">U</tspan><tspan font-size="4.5px" dy="2" font-style="italic">p</tspan><tspan dy="-2"> (m/s)</tspan></text>
<path d="M71.1 430.9 v-3.7 M71.1 238.1 v3.7 M90.97 430.9 v-2 M90.97 238.1 v2 M110.83 430.9 v-3.7 M110.83 238.1 v3.7 M130.7 430.9 v-2 M130.7 238.1 v2 M150.57 430.9 v-3.7 M150.57 238.1 v3.7 M170.43 430.9 v-2 M170.43 238.1 v2 M190.3 430.9 v-3.7 M190.3 238.1 v3.7 M210.17 430.9 v-2 M210.17 238.1 v2 M230.03 430.9 v-3.7 M230.03 238.1 v3.7 M249.9 430.9 v-2 M249.9 238.1 v2 M269.77 430.9 v-3.7 M269.77 238.1 v3.7 M289.63 430.9 v-2 M289.63 238.1 v2 M309.5 430.9 v-3.7 M309.5 238.1 v3.7 M71.1 430.9 h3.7 M309.5 430.9 h-3.7 M71.1 411.62 h2 M309.5 411.62 h-2 M71.1 392.34 h3.7 M309.5 392.34 h-3.7 M71.1 373.06 h2 M309.5 373.06 h-2 M71.1 353.78 h3.7 M309.5 353.78 h-3.7 M71.1 334.5 h2 M309.5 334.5 h-2 M71.1 315.22 h3.7 M309.5 315.22 h-3.7 M71.1 295.94 h2 M309.5 295.94 h-2 M71.1 276.66 h3.7 M309.5 276.66 h-3.7 M71.1 257.38 h2 M309.5 257.38 h-2 M71.1 238.1 h3.7 M309.5 238.1 h-3.7" stroke="#000" stroke-width="1.1" fill="none"/>
<rect x="71.1" y="238.1" width="238.4" height="192.8" fill="none" stroke="#000" stroke-width="1.5"/>
<text x="71.1" y="445.2" text-anchor="middle" class="tk">0.0</text>
<text x="110.83" y="445.2" text-anchor="middle" class="tk">0.5</text>
<text x="150.57" y="445.2" text-anchor="middle" class="tk">1.0</text>
<text x="190.3" y="445.2" text-anchor="middle" class="tk">1.5</text>
<text x="230.03" y="445.2" text-anchor="middle" class="tk">2.0</text>
<text x="269.77" y="445.2" text-anchor="middle" class="tk">2.5</text>
<text x="309.5" y="445.2" text-anchor="middle" class="tk">3.0</text>
<text x="66.5" y="435.2" text-anchor="end" class="tk">0.0</text>
<text x="66.5" y="396.64" text-anchor="end" class="tk">0.2</text>
<text x="66.5" y="358.08" text-anchor="end" class="tk">0.4</text>
<text x="66.5" y="319.52" text-anchor="end" class="tk">0.6</text>
<text x="66.5" y="280.96" text-anchor="end" class="tk">0.8</text>
<text x="66.5" y="242.4" text-anchor="end" class="tk">1.0</text>
<g clip-path="url(#cc)"><path d="M71.1 430.9 L72.09 430.05 L73.09 429.24 L74.08 428.44 L75.07 427.63 L76.07 426.8 L77.06 425.92 L78.05 424.98 L79.05 423.96 L80.04 422.86 L81.03 421.71 L82.03 420.49 L83.02 419.18 L84.01 417.76 L85.01 416.24 L86 414.58 L86.99 412.78 L87.99 410.73 L88.98 408.36 L89.97 405.73 L90.97 402.86 L91.96 399.79 L92.95 396.57 L93.95 393.24 L94.94 389.83 L95.93 386.19 L96.93 382.19 L97.92 377.91 L98.91 373.46 L99.91 368.92 L100.9 364.38 L101.89 359.95 L102.89 355.71 L103.88 351.48 L104.87 347.1 L105.87 342.68 L106.86 338.33 L107.85 334.17 L108.85 330.3 L109.84 326.84 L110.83 323.9 L111.63 321.72 L112.42 319.5 L113.22 317.33 L114.01 315.32 L114.81 313.58 L115.6 312.2 L116.4 311.3 L117.19 310.98 L117.39 311 L117.59 311.07 L117.79 311.17 L117.99 311.3 L118.18 311.45 L118.38 311.61 L118.58 311.78 L118.78 311.94 L119.77 312.87 L120.77 314.06 L121.76 315.47 L122.75 317.07 L123.75 318.84 L124.74 320.75 L125.73 322.76 L126.73 324.86 L127.72 327.24 L128.71 330.05 L129.71 333.19 L130.7 336.53 L131.69 339.97 L132.69 343.39 L133.68 346.68 L134.67 349.73 L135.67 352.61 L136.66 355.48 L137.65 358.3 L138.65 361.07 L139.64 363.78 L140.63 366.4 L141.63 368.92 L142.62 371.32 L143.61 373.63 L144.61 375.86 L145.6 378.01 L146.59 380.1 L147.59 382.13 L148.58 384.1 L149.57 386.03 L150.57 387.91 L151.56 389.72 L152.55 391.45 L153.55 393.13 L154.54 394.77 L155.53 396.39 L156.53 398.03 L157.52 399.69 L158.51 401.4 L159.51 403.22 L160.5 405.14 L161.49 407.11 L162.49 409.08 L163.48 410.99 L164.47 412.8 L165.47 414.44 L166.46 415.86 L167.45 417.13 L168.45 418.35 L169.44 419.5 L170.43 420.58 L171.43 421.57 L172.42 422.47 L173.41 423.27 L174.41 423.96 L175.4 424.56 L176.39 425.12 L177.39 425.64 L178.38 426.11 L179.37 426.54 L180.37 426.93 L181.36 427.29 L182.35 427.62 L183.35 427.93 L184.34 428.22 L185.33 428.49 L186.33 428.74 L187.32 428.97 L188.31 429.19 L189.31 429.38 L190.3 429.55 L191.29 429.71 L192.29 429.86 L193.28 430 L194.27 430.12 L195.27 430.24 L196.26 430.35 L197.25 430.44 L198.25 430.51 L199.24 430.58 L200.23 430.63 L201.23 430.68 L202.22 430.73 L203.21 430.77 L204.21 430.81 L205.2 430.85 L206.19 430.9" fill="none" stroke="#F0078C" stroke-width="1.4" stroke-linejoin="round"/>
<rect x="77.25" y="422.16" width="3.6" height="3.6" fill="#F0078C"/>
<rect x="85.19" y="410.98" width="3.6" height="3.6" fill="#F0078C"/>
<rect x="93.14" y="388.03" width="3.6" height="3.6" fill="#F0078C"/>
<rect x="101.09" y="353.91" width="3.6" height="3.6" fill="#F0078C"/>
<rect x="109.03" y="322.1" width="3.6" height="3.6" fill="#F0078C"/>
<rect x="116.98" y="310.14" width="3.6" height="3.6" fill="#F0078C"/>
<rect x="124.93" y="323.06" width="3.6" height="3.6" fill="#F0078C"/>
<rect x="132.87" y="347.93" width="3.6" height="3.6" fill="#F0078C"/>
<rect x="140.82" y="369.52" width="3.6" height="3.6" fill="#F0078C"/>
<rect x="148.77" y="386.11" width="3.6" height="3.6" fill="#F0078C"/>
<rect x="156.71" y="399.6" width="3.6" height="3.6" fill="#F0078C"/>
<rect x="164.66" y="414.06" width="3.6" height="3.6" fill="#F0078C"/>
<rect x="172.61" y="422.16" width="3.6" height="3.6" fill="#F0078C"/>
<rect x="180.55" y="425.82" width="3.6" height="3.6" fill="#F0078C"/>
<rect x="188.5" y="427.75" width="3.6" height="3.6" fill="#F0078C"/>
<rect x="196.45" y="428.71" width="3.6" height="3.6" fill="#F0078C"/>
<rect x="204.39" y="429.1" width="3.6" height="3.6" fill="#F0078C"/>
<path d="M71.1 430.9 L72.09 430.2 L73.09 429.53 L74.08 428.88 L75.07 428.21 L76.07 427.53 L77.06 426.79 L78.05 426 L79.05 425.12 L80.04 424.13 L81.03 423.04 L82.03 421.86 L83.02 420.58 L84.01 419.22 L85.01 417.78 L86 416.27 L86.99 414.7 L87.99 413.04 L88.98 411.24 L89.97 409.32 L90.97 407.28 L91.96 405.13 L92.95 402.89 L93.95 400.55 L94.94 398.12 L95.93 395.56 L96.93 392.8 L97.92 389.89 L98.91 386.83 L99.91 383.68 L100.9 380.44 L101.89 377.15 L102.89 373.83 L103.88 370.35 L104.87 366.61 L105.87 362.71 L106.86 358.77 L107.85 354.87 L108.85 351.13 L109.84 347.65 L110.83 344.53 L111.83 341.6 L112.82 338.7 L113.81 335.87 L114.81 333.19 L115.8 330.72 L116.79 328.53 L117.79 326.68 L118.78 325.25 L119.28 324.63 L119.77 324.02 L120.27 323.44 L120.77 322.9 L121.26 322.45 L121.76 322.09 L122.26 321.86 L122.75 321.78 L123.25 321.83 L123.75 322 L124.24 322.26 L124.74 322.58 L125.24 322.97 L125.73 323.39 L126.23 323.83 L126.73 324.28 L127.72 325.4 L128.71 326.9 L129.71 328.7 L130.7 330.73 L131.69 332.89 L132.69 335.1 L133.68 337.27 L134.67 339.32 L135.67 341.3 L136.66 343.31 L137.65 345.35 L138.65 347.4 L139.64 349.47 L140.63 351.55 L141.63 353.63 L142.62 355.71 L143.61 357.79 L144.61 359.9 L145.6 362.01 L146.59 364.13 L147.59 366.25 L148.58 368.35 L149.57 370.43 L150.57 372.48 L151.56 374.52 L152.55 376.54 L153.55 378.56 L154.54 380.56 L155.53 382.54 L156.53 384.49 L157.52 386.41 L158.51 388.29 L159.51 390.14 L160.5 391.97 L161.49 393.77 L162.49 395.55 L163.48 397.29 L164.47 399.02 L165.47 400.71 L166.46 402.37 L167.45 404.02 L168.45 405.68 L169.44 407.32 L170.43 408.94 L171.43 410.5 L172.42 412 L173.41 413.41 L174.41 414.7 L175.4 415.94 L176.39 417.15 L177.39 418.32 L178.38 419.43 L179.37 420.47 L180.37 421.42 L181.36 422.27 L182.35 423 L183.35 423.63 L184.34 424.2 L185.33 424.73 L186.33 425.22 L187.32 425.67 L188.31 426.09 L189.31 426.48 L190.3 426.85 L191.29 427.21 L192.29 427.56 L193.28 427.89 L194.27 428.2 L195.27 428.49 L196.26 428.75 L197.25 428.97 L198.25 429.16 L199.24 429.33 L200.23 429.47 L201.23 429.61 L202.22 429.73 L203.21 429.84 L204.21 429.94 L205.2 430.04 L206.19 430.13 L207.19 430.22 L208.18 430.31 L209.17 430.39 L210.17 430.47 L211.16 430.55 L212.15 430.61 L213.15 430.66 L214.14 430.71 L215.13 430.74 L216.13 430.77 L217.12 430.79 L218.11 430.82 L219.11 430.84 L220.1 430.86 L221.09 430.88 L222.09 430.9" fill="none" stroke="#F0078C" stroke-width="1.4" stroke-dasharray="7 3.5" stroke-linejoin="round"/>
<circle cx="79.05" cy="425.12" r="2" fill="#F0078C"/>
<circle cx="86.99" cy="414.7" r="2" fill="#F0078C"/>
<circle cx="94.94" cy="398.12" r="2" fill="#F0078C"/>
<circle cx="102.89" cy="373.83" r="2" fill="#F0078C"/>
<circle cx="110.83" cy="344.53" r="2" fill="#F0078C"/>
<circle cx="118.78" cy="325.25" r="2" fill="#F0078C"/>
<circle cx="126.73" cy="324.28" r="2" fill="#F0078C"/>
<circle cx="134.67" cy="339.32" r="2" fill="#F0078C"/>
<circle cx="142.62" cy="355.71" r="2" fill="#F0078C"/>
<circle cx="150.57" cy="372.48" r="2" fill="#F0078C"/>
<circle cx="158.51" cy="388.29" r="2" fill="#F0078C"/>
<circle cx="166.46" cy="402.37" r="2" fill="#F0078C"/>
<circle cx="174.41" cy="414.7" r="2" fill="#F0078C"/>
<circle cx="182.35" cy="423" r="2" fill="#F0078C"/>
<circle cx="190.3" cy="426.85" r="2" fill="#F0078C"/>
<circle cx="198.25" cy="429.16" r="2" fill="#F0078C"/>
<circle cx="206.19" cy="430.13" r="2" fill="#F0078C"/>
<circle cx="214.14" cy="430.71" r="2" fill="#F0078C"/>
<circle cx="222.09" cy="430.9" r="2" fill="#F0078C"/>
<path d="M71.1 430.9 L72.09 430.64 L73.09 430.39 L74.08 430.14 L75.07 429.9 L76.07 429.64 L77.06 429.37 L78.05 429.09 L79.05 428.78 L80.04 428.44 L81.03 428.07 L82.03 427.68 L83.02 427.27 L84.01 426.84 L85.01 426.4 L86 425.95 L86.99 425.5 L87.99 425.04 L88.98 424.56 L89.97 424.07 L90.97 423.56 L91.96 423.05 L92.95 422.52 L93.95 421.99 L94.94 421.45 L95.93 420.92 L96.93 420.39 L97.92 419.85 L98.91 419.3 L99.91 418.73 L100.9 418.14 L101.89 417.5 L102.89 416.83 L103.88 416.08 L104.87 415.27 L105.87 414.4 L106.86 413.48 L107.85 412.54 L108.85 411.59 L109.84 410.63 L110.83 409.69 L111.83 408.78 L112.82 407.87 L113.81 406.96 L114.81 406.04 L115.8 405.1 L116.79 404.11 L117.79 403.08 L118.78 401.98 L119.77 400.79 L120.77 399.51 L121.76 398.16 L122.75 396.75 L123.75 395.31 L124.74 393.85 L125.73 392.41 L126.73 390.99 L127.72 389.58 L128.71 388.15 L129.71 386.71 L130.7 385.26 L131.69 383.82 L132.69 382.4 L133.68 380.99 L134.67 379.62 L135.67 378.24 L136.66 376.86 L137.65 375.47 L138.65 374.11 L139.64 372.78 L140.63 371.51 L141.63 370.31 L142.62 369.2 L143.61 368.14 L144.61 367.08 L145.6 366.05 L146.59 365.07 L147.59 364.16 L148.58 363.34 L149.57 362.64 L150.57 362.07 L151.56 361.58 L152.55 361.1 L153.55 360.64 L154.54 360.23 L155.53 359.88 L156.53 359.61 L157.52 359.43 L158.51 359.37 L159.51 359.39 L160.5 359.46 L161.49 359.57 L162.49 359.7 L163.48 359.88 L164.47 360.07 L165.47 360.29 L166.46 360.53 L167.45 360.9 L168.45 361.49 L169.44 362.26 L170.43 363.15 L171.43 364.1 L172.42 365.08 L173.41 366.03 L174.41 366.89 L175.4 367.7 L176.39 368.5 L177.39 369.3 L178.38 370.11 L179.37 370.93 L180.37 371.75 L181.36 372.59 L182.35 373.45 L183.35 374.32 L184.34 375.22 L185.33 376.14 L186.33 377.07 L187.32 378 L188.31 378.94 L189.31 379.86 L190.3 380.77 L191.29 381.67 L192.29 382.57 L193.28 383.47 L194.27 384.36 L195.27 385.25 L196.26 386.14 L197.25 387.02 L198.25 387.91 L199.24 388.78 L200.23 389.65 L201.23 390.51 L202.22 391.38 L203.21 392.24 L204.21 393.1 L205.2 393.97 L206.19 394.85 L207.19 395.73 L208.18 396.64 L209.17 397.54 L210.17 398.45 L211.16 399.36 L212.15 400.25 L213.15 401.13 L214.14 401.98 L215.13 402.82 L216.13 403.65 L217.12 404.46 L218.11 405.27 L219.11 406.06 L220.1 406.84 L221.09 407.6 L222.09 408.34 L223.08 409.07 L224.07 409.77 L225.07 410.47 L226.06 411.15 L227.05 411.82 L228.05 412.47 L229.04 413.11 L230.03 413.74 L231.03 414.36 L232.02 414.96 L233.01 415.55 L234.01 416.12 L235 416.69 L235.99 417.26 L236.99 417.81 L237.98 418.37 L238.97 418.93 L239.97 419.49 L240.96 420.06 L241.95 420.61 L242.95 421.15 L243.94 421.67 L244.93 422.16 L245.93 422.61 L246.92 423.03 L247.91 423.43 L248.91 423.81 L249.9 424.18 L250.89 424.53 L251.89 424.87 L252.88 425.19 L253.87 425.5 L254.87 425.81 L255.86 426.11 L256.85 426.4 L257.85 426.68 L258.84 426.95 L259.83 427.2 L260.83 427.42 L261.82 427.62 L262.81 427.8 L263.81 427.97 L264.8 428.13 L265.79 428.27 L266.79 428.41 L267.78 428.54 L268.77 428.66 L269.77 428.78 L270.76 428.89 L271.75 429 L272.75 429.1 L273.74 429.2 L274.73 429.29 L275.73 429.38 L276.72 429.47 L277.71 429.55 L278.71 429.63 L279.7 429.72 L280.69 429.8 L281.69 429.89 L282.68 429.96 L283.67 430.03 L284.67 430.09 L285.66 430.13 L286.65 430.16 L287.65 430.19 L288.64 430.22 L289.63 430.24 L290.63 430.26 L291.62 430.28 L292.61 430.3 L293.61 430.32 L294.6 430.35 L295.59 430.37 L296.59 430.39 L297.58 430.42 L298.57 430.44 L299.57 430.47 L300.56 430.49 L301.55 430.51 L302.55 430.54 L303.54 430.56 L304.53 430.59 L305.53 430.61 L306.52 430.63 L307.51 430.66 L308.51 430.68 L309.5 430.71" fill="none" stroke="#F0078C" stroke-width="1.4" stroke-dasharray="1.3 1.3" stroke-linejoin="round"/>
<path d="M79.05 425.9 L76.55 430.65 L81.55 430.65 Z" fill="#F0078C"/>
<path d="M86.99 422.63 L84.49 427.38 L89.49 427.38 Z" fill="#F0078C"/>
<path d="M94.94 418.58 L92.44 423.33 L97.44 423.33 Z" fill="#F0078C"/>
<path d="M102.89 413.95 L100.39 418.7 L105.39 418.7 Z" fill="#F0078C"/>
<path d="M110.83 406.82 L108.33 411.57 L113.33 411.57 Z" fill="#F0078C"/>
<path d="M118.78 399.1 L116.28 403.85 L121.28 403.85 Z" fill="#F0078C"/>
<path d="M126.73 388.12 L124.23 392.87 L129.23 392.87 Z" fill="#F0078C"/>
<path d="M134.67 376.74 L132.17 381.49 L137.17 381.49 Z" fill="#F0078C"/>
<path d="M142.62 366.33 L140.12 371.08 L145.12 371.08 Z" fill="#F0078C"/>
<path d="M150.57 359.2 L148.07 363.95 L153.07 363.95 Z" fill="#F0078C"/>
<path d="M158.51 356.5 L156.01 361.25 L161.01 361.25 Z" fill="#F0078C"/>
<path d="M166.46 357.65 L163.96 362.4 L168.96 362.4 Z" fill="#F0078C"/>
<path d="M174.41 364.02 L171.91 368.77 L176.91 368.77 Z" fill="#F0078C"/>
<path d="M182.35 370.57 L179.85 375.32 L184.85 375.32 Z" fill="#F0078C"/>
<path d="M190.3 377.9 L187.8 382.65 L192.8 382.65 Z" fill="#F0078C"/>
<path d="M198.25 385.03 L195.75 389.78 L200.75 389.78 Z" fill="#F0078C"/>
<path d="M206.19 391.97 L203.69 396.72 L208.69 396.72 Z" fill="#F0078C"/>
<path d="M214.14 399.1 L211.64 403.85 L216.64 403.85 Z" fill="#F0078C"/>
<path d="M222.09 405.47 L219.59 410.22 L224.59 410.22 Z" fill="#F0078C"/>
<path d="M230.03 410.87 L227.53 415.62 L232.53 415.62 Z" fill="#F0078C"/>
<path d="M237.98 415.49 L235.48 420.24 L240.48 420.24 Z" fill="#F0078C"/>
<path d="M245.93 419.73 L243.43 424.48 L248.43 424.48 Z" fill="#F0078C"/>
<path d="M253.87 422.63 L251.37 427.38 L256.37 427.38 Z" fill="#F0078C"/>
<path d="M261.82 424.75 L259.32 429.5 L264.32 429.5 Z" fill="#F0078C"/>
<path d="M269.77 425.9 L267.27 430.65 L272.27 430.65 Z" fill="#F0078C"/>
<path d="M277.71 426.68 L275.21 431.43 L280.21 431.43 Z" fill="#F0078C"/>
<path d="M285.66 427.25 L283.16 432 L288.16 432 Z" fill="#F0078C"/>
<path d="M293.61 427.45 L291.11 432.2 L296.11 432.2 Z" fill="#F0078C"/>
<path d="M301.55 427.64 L299.05 432.39 L304.05 432.39 Z" fill="#F0078C"/>
<path d="M309.5 427.83 L307 432.58 L312 432.58 Z" fill="#F0078C"/>
<path d="M71.1 430.9 L72.09 419.53 L73.09 407.88 L74.08 396.12 L75.07 384.41 L76.07 372.93 L77.06 361.83 L78.05 351.28 L79.05 341.44 L80.04 331.99 L81.03 322.6 L82.03 313.43 L83.02 304.62 L84.01 296.35 L85.01 288.76 L86 282.02 L86.99 276.27 L87.99 271.14 L88.98 266.19 L89.97 261.51 L90.97 257.21 L91.96 253.39 L92.95 250.15 L93.95 247.59 L94.94 245.81 L95.14 245.54 L95.34 245.27 L95.54 245.01 L95.73 244.77 L95.93 244.57 L96.13 244.41 L96.33 244.31 L96.53 244.27 L97.32 244.66 L98.12 245.76 L98.91 247.45 L99.71 249.62 L100.5 252.15 L101.3 254.95 L102.09 257.88 L102.89 260.85 L103.88 265.22 L104.87 270.81 L105.87 277.33 L106.86 284.53 L107.85 292.12 L108.85 299.85 L109.84 307.45 L110.83 314.64 L111.83 321.87 L112.82 329.6 L113.81 337.54 L114.81 345.45 L115.8 353.04 L116.79 360.06 L117.79 366.25 L118.78 371.32 L119.77 375.59 L120.77 379.52 L121.76 383.14 L122.75 386.46 L123.75 389.51 L124.74 392.29 L125.73 394.84 L126.73 397.16 L127.72 399.31 L128.71 401.32 L129.71 403.21 L130.7 404.96 L131.69 406.58 L132.69 408.07 L133.68 409.43 L134.67 410.66 L135.67 411.79 L136.66 412.85 L137.65 413.84 L138.65 414.76 L139.64 415.62 L140.63 416.41 L141.63 417.13 L142.62 417.79 L143.61 418.39 L144.61 418.94 L145.6 419.44 L146.59 419.91 L147.59 420.36 L148.58 420.8 L149.57 421.22 L150.57 421.65 L151.56 422.07 L152.55 422.5 L153.55 422.92 L154.54 423.32 L155.53 423.71 L156.53 424.08 L157.52 424.42 L158.51 424.73 L159.51 425.02 L160.5 425.29 L161.49 425.54 L162.49 425.78 L163.48 426.01 L164.47 426.23 L165.47 426.44 L166.46 426.66 L167.45 426.87 L168.45 427.08 L169.44 427.29 L170.43 427.5 L171.43 427.69 L172.42 427.87 L173.41 428.04 L174.41 428.2 L175.4 428.34 L176.39 428.48 L177.39 428.6 L178.38 428.72 L179.37 428.84 L180.37 428.95 L181.36 429.06 L182.35 429.16 L183.35 429.27 L184.34 429.38 L185.33 429.49 L186.33 429.59 L187.32 429.69 L188.31 429.78 L189.31 429.87 L190.3 429.94 L191.29 430 L192.29 430.05 L193.28 430.1 L194.27 430.14 L195.27 430.19 L196.26 430.23 L197.25 430.28 L198.25 430.32 L199.24 430.37 L200.23 430.42 L201.23 430.48 L202.22 430.53 L203.21 430.58 L204.21 430.63 L205.2 430.67 L206.19 430.71 L207.19 430.74 L208.18 430.76 L209.17 430.79 L210.17 430.81 L211.16 430.83 L212.15 430.85 L213.15 430.88 L214.14 430.9" fill="none" stroke="#1A97F5" stroke-width="1.4" stroke-linejoin="round"/>
<rect x="77.25" y="339.64" width="3.6" height="3.6" fill="#1A97F5"/>
<rect x="85.19" y="274.47" width="3.6" height="3.6" fill="#1A97F5"/>
<rect x="93.14" y="244.01" width="3.6" height="3.6" fill="#1A97F5"/>
<rect x="101.09" y="259.05" width="3.6" height="3.6" fill="#1A97F5"/>
<rect x="109.03" y="312.84" width="3.6" height="3.6" fill="#1A97F5"/>
<rect x="116.98" y="369.52" width="3.6" height="3.6" fill="#1A97F5"/>
<rect x="124.93" y="395.36" width="3.6" height="3.6" fill="#1A97F5"/>
<rect x="132.87" y="408.86" width="3.6" height="3.6" fill="#1A97F5"/>
<rect x="140.82" y="415.99" width="3.6" height="3.6" fill="#1A97F5"/>
<rect x="148.77" y="419.85" width="3.6" height="3.6" fill="#1A97F5"/>
<rect x="156.71" y="422.93" width="3.6" height="3.6" fill="#1A97F5"/>
<rect x="164.66" y="424.86" width="3.6" height="3.6" fill="#1A97F5"/>
<rect x="172.61" y="426.4" width="3.6" height="3.6" fill="#1A97F5"/>
<rect x="180.55" y="427.36" width="3.6" height="3.6" fill="#1A97F5"/>
<rect x="188.5" y="428.14" width="3.6" height="3.6" fill="#1A97F5"/>
<rect x="196.45" y="428.52" width="3.6" height="3.6" fill="#1A97F5"/>
<rect x="204.39" y="428.91" width="3.6" height="3.6" fill="#1A97F5"/>
<rect x="212.34" y="429.1" width="3.6" height="3.6" fill="#1A97F5"/>
<path d="M71.1 430.9 L72.09 421.22 L73.09 411.32 L74.08 401.33 L75.07 391.38 L76.07 381.61 L77.06 372.16 L78.05 363.16 L79.05 354.74 L80.04 346.71 L81.03 338.82 L82.03 331.15 L83.02 323.77 L84.01 316.75 L85.01 310.17 L86 304.11 L86.99 298.64 L87.99 293.46 L88.98 288.32 L89.97 283.36 L90.97 278.71 L91.96 274.52 L92.95 270.92 L93.95 268.06 L94.94 266.06 L95.44 265.3 L95.93 264.57 L96.43 263.88 L96.93 263.27 L97.42 262.75 L97.92 262.35 L98.42 262.1 L98.91 262.01 L99.41 262.1 L99.91 262.35 L100.4 262.75 L100.9 263.26 L101.4 263.87 L101.89 264.55 L102.39 265.29 L102.89 266.06 L103.88 268.22 L104.87 271.49 L105.87 275.64 L106.86 280.45 L107.85 285.72 L108.85 291.23 L109.84 296.77 L110.83 302.11 L111.83 307.57 L112.82 313.49 L113.81 319.74 L114.81 326.16 L115.8 332.61 L116.79 338.95 L117.79 345.02 L118.78 350.7 L119.77 356.21 L120.77 361.82 L121.76 367.38 L122.75 372.77 L123.75 377.85 L124.74 382.47 L125.73 386.52 L126.73 389.83 L127.72 392.62 L128.71 395.18 L129.71 397.52 L130.7 399.65 L131.69 401.6 L132.69 403.36 L133.68 404.96 L134.67 406.41 L135.67 407.75 L136.66 408.98 L137.65 410.12 L138.65 411.18 L139.64 412.16 L140.63 413.07 L141.63 413.92 L142.62 414.7 L143.61 415.45 L144.61 416.15 L145.6 416.81 L146.59 417.42 L147.59 418.01 L148.58 418.55 L149.57 419.06 L150.57 419.52 L151.56 419.96 L152.55 420.35 L153.55 420.72 L154.54 421.07 L155.53 421.41 L156.53 421.74 L157.52 422.07 L158.51 422.42 L159.51 422.77 L160.5 423.13 L161.49 423.48 L162.49 423.83 L163.48 424.18 L164.47 424.51 L165.47 424.82 L166.46 425.12 L167.45 425.39 L168.45 425.66 L169.44 425.92 L170.43 426.16 L171.43 426.4 L172.42 426.62 L173.41 426.84 L174.41 427.04 L175.4 427.24 L176.39 427.43 L177.39 427.6 L178.38 427.78 L179.37 427.94 L180.37 428.1 L181.36 428.25 L182.35 428.39 L183.35 428.53 L184.34 428.67 L185.33 428.8 L186.33 428.93 L187.32 429.05 L188.31 429.16 L189.31 429.26 L190.3 429.36 L191.29 429.45 L192.29 429.53 L193.28 429.61 L194.27 429.68 L195.27 429.75 L196.26 429.81 L197.25 429.88 L198.25 429.94 L199.24 429.99 L200.23 430.04 L201.23 430.09 L202.22 430.14 L203.21 430.18 L204.21 430.23 L205.2 430.27 L206.19 430.32 L207.19 430.37 L208.18 430.42 L209.17 430.48 L210.17 430.53 L211.16 430.58 L212.15 430.63 L213.15 430.67 L214.14 430.71 L215.13 430.74 L216.13 430.76 L217.12 430.79 L218.11 430.81 L219.11 430.83 L220.1 430.85 L221.09 430.88 L222.09 430.9" fill="none" stroke="#1A97F5" stroke-width="1.4" stroke-dasharray="7 3.5" stroke-linejoin="round"/>
<circle cx="79.05" cy="354.74" r="2" fill="#1A97F5"/>
<circle cx="86.99" cy="298.64" r="2" fill="#1A97F5"/>
<circle cx="94.94" cy="266.06" r="2" fill="#1A97F5"/>
<circle cx="102.89" cy="266.06" r="2" fill="#1A97F5"/>
<circle cx="110.83" cy="302.11" r="2" fill="#1A97F5"/>
<circle cx="118.78" cy="350.7" r="2" fill="#1A97F5"/>
<circle cx="126.73" cy="389.83" r="2" fill="#1A97F5"/>
<circle cx="134.67" cy="406.41" r="2" fill="#1A97F5"/>
<circle cx="142.62" cy="414.7" r="2" fill="#1A97F5"/>
<circle cx="150.57" cy="419.52" r="2" fill="#1A97F5"/>
<circle cx="158.51" cy="422.42" r="2" fill="#1A97F5"/>
<circle cx="166.46" cy="425.12" r="2" fill="#1A97F5"/>
<circle cx="174.41" cy="427.04" r="2" fill="#1A97F5"/>
<circle cx="182.35" cy="428.39" r="2" fill="#1A97F5"/>
<circle cx="190.3" cy="429.36" r="2" fill="#1A97F5"/>
<circle cx="198.25" cy="429.94" r="2" fill="#1A97F5"/>
<circle cx="206.19" cy="430.32" r="2" fill="#1A97F5"/>
<circle cx="214.14" cy="430.71" r="2" fill="#1A97F5"/>
<circle cx="222.09" cy="430.9" r="2" fill="#1A97F5"/>
<path d="M71.1 430.9 L72.09 426.9 L73.09 422.82 L74.08 418.71 L75.07 414.62 L76.07 410.58 L77.06 406.65 L78.05 402.87 L79.05 399.28 L80.04 395.85 L81.03 392.51 L82.03 389.26 L83.02 386.11 L84.01 383.05 L85.01 380.08 L86 377.2 L86.99 374.41 L87.99 371.7 L88.98 369.08 L89.97 366.52 L90.97 364.04 L91.96 361.62 L92.95 359.27 L93.95 356.98 L94.94 354.74 L95.93 352.51 L96.93 350.25 L97.92 348.01 L98.91 345.84 L99.91 343.78 L100.9 341.88 L101.89 340.18 L102.89 338.74 L103.88 337.47 L104.87 336.26 L105.87 335.13 L106.86 334.09 L107.85 333.15 L108.85 332.32 L109.84 331.61 L110.83 331.03 L111.43 330.72 L112.03 330.42 L112.62 330.12 L113.22 329.86 L113.81 329.63 L114.41 329.45 L115.01 329.34 L115.6 329.29 L116 329.31 L116.4 329.36 L116.79 329.44 L117.19 329.54 L117.59 329.65 L117.99 329.78 L118.38 329.92 L118.78 330.07 L119.77 330.56 L120.77 331.3 L121.76 332.24 L122.75 333.33 L123.75 334.53 L124.74 335.8 L125.73 337.09 L126.73 338.36 L127.72 339.64 L128.71 341.02 L129.71 342.47 L130.7 344 L131.69 345.59 L132.69 347.24 L133.68 348.95 L134.67 350.7 L135.67 352.53 L136.66 354.49 L137.65 356.54 L138.65 358.66 L139.64 360.82 L140.63 362.99 L141.63 365.15 L142.62 367.28 L143.61 369.41 L144.61 371.6 L145.6 373.81 L146.59 376.02 L147.59 378.2 L148.58 380.31 L149.57 382.34 L150.57 384.24 L151.56 386.04 L152.55 387.78 L153.55 389.46 L154.54 391.09 L155.53 392.67 L156.53 394.21 L157.52 395.7 L158.51 397.16 L159.51 398.6 L160.5 400.02 L161.49 401.42 L162.49 402.78 L163.48 404.09 L164.47 405.33 L165.47 406.5 L166.46 407.57 L167.45 408.58 L168.45 409.55 L169.44 410.47 L170.43 411.36 L171.43 412.18 L172.42 412.96 L173.41 413.67 L174.41 414.32 L175.4 414.92 L176.39 415.48 L177.39 416 L178.38 416.5 L179.37 416.96 L180.37 417.4 L181.36 417.8 L182.35 418.18 L183.35 418.52 L184.34 418.85 L185.33 419.16 L186.33 419.45 L187.32 419.72 L188.31 419.98 L189.31 420.24 L190.3 420.49 L191.29 420.73 L192.29 420.96 L193.28 421.18 L194.27 421.4 L195.27 421.61 L196.26 421.82 L197.25 422.02 L198.25 422.22 L199.24 422.43 L200.23 422.63 L201.23 422.84 L202.22 423.03 L203.21 423.23 L204.21 423.42 L205.2 423.6 L206.19 423.77 L207.19 423.93 L208.18 424.08 L209.17 424.23 L210.17 424.38 L211.16 424.52 L212.15 424.66 L213.15 424.79 L214.14 424.92 L215.13 425.05 L216.13 425.17 L217.12 425.29 L218.11 425.41 L219.11 425.52 L220.1 425.64 L221.09 425.76 L222.09 425.89 L223.08 426.02 L224.07 426.17 L225.07 426.31 L226.06 426.47 L227.05 426.62 L228.05 426.76 L229.04 426.91 L230.03 427.04 L231.03 427.17 L232.02 427.3 L233.01 427.43 L234.01 427.55 L235 427.67 L235.99 427.79 L236.99 427.9 L237.98 428.01 L238.97 428.11 L239.97 428.22 L240.96 428.32 L241.95 428.42 L242.95 428.51 L243.94 428.61 L244.93 428.69 L245.93 428.78 L246.92 428.86 L247.91 428.94 L248.91 429.02 L249.9 429.09 L250.89 429.16 L251.89 429.23 L252.88 429.3 L253.87 429.36 L254.87 429.41 L255.86 429.46 L256.85 429.51 L257.85 429.56 L258.84 429.61 L259.83 429.65 L260.83 429.7 L261.82 429.74 L262.81 429.79 L263.81 429.85 L264.8 429.9 L265.79 429.95 L266.79 430 L267.78 430.05 L268.77 430.09 L269.77 430.13 L270.76 430.16 L271.75 430.19 L272.75 430.21 L273.74 430.23 L274.73 430.25 L275.73 430.28 L276.72 430.3 L277.71 430.32 L278.71 430.35 L279.7 430.37 L280.69 430.39 L281.69 430.42 L282.68 430.44 L283.67 430.47 L284.67 430.49 L285.66 430.51 L286.65 430.54 L287.65 430.57 L288.64 430.6 L289.63 430.63 L290.63 430.66 L291.62 430.69 L292.61 430.7 L293.61 430.71 L294.6 430.71 L295.59 430.71 L296.59 430.71 L297.58 430.71 L298.57 430.71 L299.57 430.71 L300.56 430.71 L301.55 430.71 L302.55 430.71 L303.54 430.73 L304.53 430.75 L305.53 430.78 L306.52 430.81 L307.51 430.84 L308.51 430.87 L309.5 430.9" fill="none" stroke="#1A97F5" stroke-width="1.4" stroke-dasharray="1.3 1.3" stroke-linejoin="round"/>
<path d="M79.05 396.41 L76.55 401.16 L81.55 401.16 Z" fill="#1A97F5"/>
<path d="M86.99 371.53 L84.49 376.28 L89.49 376.28 Z" fill="#1A97F5"/>
<path d="M94.94 351.87 L92.44 356.62 L97.44 356.62 Z" fill="#1A97F5"/>
<path d="M102.89 335.87 L100.39 340.62 L105.39 340.62 Z" fill="#1A97F5"/>
<path d="M110.83 328.15 L108.33 332.9 L113.33 332.9 Z" fill="#1A97F5"/>
<path d="M118.78 327.19 L116.28 331.94 L121.28 331.94 Z" fill="#1A97F5"/>
<path d="M126.73 335.48 L124.23 340.23 L129.23 340.23 Z" fill="#1A97F5"/>
<path d="M134.67 347.82 L132.17 352.57 L137.17 352.57 Z" fill="#1A97F5"/>
<path d="M142.62 364.4 L140.12 369.15 L145.12 369.15 Z" fill="#1A97F5"/>
<path d="M150.57 381.37 L148.07 386.12 L153.07 386.12 Z" fill="#1A97F5"/>
<path d="M158.51 394.28 L156.01 399.03 L161.01 399.03 Z" fill="#1A97F5"/>
<path d="M166.46 404.7 L163.96 409.45 L168.96 409.45 Z" fill="#1A97F5"/>
<path d="M174.41 411.44 L171.91 416.19 L176.91 416.19 Z" fill="#1A97F5"/>
<path d="M182.35 415.3 L179.85 420.05 L184.85 420.05 Z" fill="#1A97F5"/>
<path d="M190.3 417.61 L187.8 422.36 L192.8 422.36 Z" fill="#1A97F5"/>
<path d="M198.25 419.35 L195.75 424.1 L200.75 424.1 Z" fill="#1A97F5"/>
<path d="M206.19 420.89 L203.69 425.64 L208.69 425.64 Z" fill="#1A97F5"/>
<path d="M214.14 422.05 L211.64 426.8 L216.64 426.8 Z" fill="#1A97F5"/>
<path d="M222.09 423.01 L219.59 427.76 L224.59 427.76 Z" fill="#1A97F5"/>
<path d="M230.03 424.17 L227.53 428.92 L232.53 428.92 Z" fill="#1A97F5"/>
<path d="M237.98 425.13 L235.48 429.88 L240.48 429.88 Z" fill="#1A97F5"/>
<path d="M245.93 425.9 L243.43 430.65 L248.43 430.65 Z" fill="#1A97F5"/>
<path d="M253.87 426.48 L251.37 431.23 L256.37 431.23 Z" fill="#1A97F5"/>
<path d="M261.82 426.87 L259.32 431.62 L264.32 431.62 Z" fill="#1A97F5"/>
<path d="M269.77 427.25 L267.27 432 L272.27 432 Z" fill="#1A97F5"/>
<path d="M277.71 427.45 L275.21 432.2 L280.21 432.2 Z" fill="#1A97F5"/>
<path d="M285.66 427.64 L283.16 432.39 L288.16 432.39 Z" fill="#1A97F5"/>
<path d="M293.61 427.83 L291.11 432.58 L296.11 432.58 Z" fill="#1A97F5"/>
<path d="M301.55 427.83 L299.05 432.58 L304.05 432.58 Z" fill="#1A97F5"/>
<path d="M309.5 428.02 L307 432.77 L312 432.77 Z" fill="#1A97F5"/></g>
<text x="188.15" y="259.34" text-anchor="middle" class="lg">Fluid A</text>
<text x="231.39" y="259.34" text-anchor="middle" class="lg">Fluid B</text>
<text x="275.35" y="259.34" text-anchor="middle" class="lg">Fluid C</text>
<text x="147.16" y="273.5" class="ul"><tspan font-style="italic">U</tspan><tspan class="sb" dy="3.2" font-style="italic">px</tspan></text>
<path d="M172.41 269.7 H200.01" stroke="#F0078C" stroke-width="1.4"/>
<rect x="184.51" y="267.9" width="3.6" height="3.6" fill="#F0078C"/>
<path d="M218.21 269.7 H225.36 M230.58 269.7 H241.01" stroke="#F0078C" stroke-width="1.4"/>
<circle cx="232.32" cy="269.7" r="2" fill="#F0078C"/>
<path d="M257.67 269.7 H285.58" stroke="#F0078C" stroke-width="1.4" stroke-dasharray="1.3 1.3"/>
<path d="M271.27 266.83 L268.77 271.58 L273.77 271.58 Z" fill="#F0078C"/>
<text x="147.16" y="290.84" class="ul"><tspan font-style="italic">U</tspan><tspan class="sb" dy="3.2" font-style="italic">pz</tspan></text>
<path d="M172.41 287.04 H200.01" stroke="#1A97F5" stroke-width="1.4"/>
<rect x="184.51" y="285.24" width="3.6" height="3.6" fill="#1A97F5"/>
<path d="M218.21 287.04 H225.36 M230.58 287.04 H241.01" stroke="#1A97F5" stroke-width="1.4"/>
<circle cx="232.32" cy="287.04" r="2" fill="#1A97F5"/>
<path d="M257.67 287.04 H285.58" stroke="#1A97F5" stroke-width="1.4" stroke-dasharray="1.3 1.3"/>
<path d="M271.27 284.17 L268.77 288.92 L273.77 288.92 Z" fill="#1A97F5"/>
<text x="284.3" y="414.9" text-anchor="middle" class="pl">(c)</text>
<text x="190.7" y="457.4" text-anchor="middle" class="ax"><tspan font-style="italic">t</tspan> (s)</text>
<text transform="translate(33.2 338.7) rotate(-90)" text-anchor="middle" class="ax"><tspan font-style="italic">U</tspan><tspan font-size="4.5px" dy="2" font-style="italic">p</tspan><tspan dy="-2"> (m/s)</tspan></text>
<path d="M369.7 428.8 v-3.7 M369.7 238.7 v3.7 M399.14 428.8 v-2 M399.14 238.7 v2 M428.57 428.8 v-3.7 M428.57 238.7 v3.7 M458.01 428.8 v-2 M458.01 238.7 v2 M487.45 428.8 v-3.7 M487.45 238.7 v3.7 M516.89 428.8 v-2 M516.89 238.7 v2 M546.33 428.8 v-3.7 M546.33 238.7 v3.7 M575.76 428.8 v-2 M575.76 238.7 v2 M605.2 428.8 v-3.7 M605.2 238.7 v3.7 M369.7 428.8 h3.7 M605.2 428.8 h-3.7 M369.7 409.79 h2 M605.2 409.79 h-2 M369.7 390.78 h3.7 M605.2 390.78 h-3.7 M369.7 371.77 h2 M605.2 371.77 h-2 M369.7 352.76 h3.7 M605.2 352.76 h-3.7 M369.7 333.75 h2 M605.2 333.75 h-2 M369.7 314.74 h3.7 M605.2 314.74 h-3.7 M369.7 295.73 h2 M605.2 295.73 h-2 M369.7 276.72 h3.7 M605.2 276.72 h-3.7 M369.7 257.71 h2 M605.2 257.71 h-2 M369.7 238.7 h3.7 M605.2 238.7 h-3.7" stroke="#000" stroke-width="1.1" fill="none"/>
<rect x="369.7" y="238.7" width="235.5" height="190.1" fill="none" stroke="#000" stroke-width="1.5"/>
<text x="369.7" y="443.1" text-anchor="middle" class="tk">0</text>
<text x="428.57" y="443.1" text-anchor="middle" class="tk">2</text>
<text x="487.45" y="443.1" text-anchor="middle" class="tk">4</text>
<text x="546.33" y="443.1" text-anchor="middle" class="tk">6</text>
<text x="605.2" y="443.1" text-anchor="middle" class="tk">8</text>
<text x="365.1" y="433.1" text-anchor="end" class="tk">0.00</text>
<text x="365.1" y="395.08" text-anchor="end" class="tk">0.05</text>
<text x="365.1" y="357.06" text-anchor="end" class="tk">0.10</text>
<text x="365.1" y="319.04" text-anchor="end" class="tk">0.15</text>
<text x="365.1" y="281.02" text-anchor="end" class="tk">0.20</text>
<text x="365.1" y="243" text-anchor="end" class="tk">0.25</text>
<g clip-path="url(#cd)"><path d="M369.7 428.8 L371.84 427.97 L373.98 425.71 L376.12 422.12 L378.26 417.26 L380.4 411.19 L382.55 403.93 L384.69 395.56 L386.83 386.13 L388.97 375.71 L391.11 364.44 L393.25 352.42 L395.39 339.85 L397.53 326.93 L399.67 313.91 L401.81 301.1 L403.95 288.83 L406.1 277.49 L408.24 267.52 L410.38 259.36 L412.52 253.51 L414.66 250.45 L416.8 250.62 L418.94 253.42 L421.08 258.11 L423.22 264.36 L425.36 271.88 L427.5 280.41 L429.65 289.68 L431.79 299.47 L433.93 309.55 L436.07 319.71 L438.21 329.79 L440.35 339.62 L442.49 349.07 L444.63 358.04 L446.77 366.46 L448.91 374.27 L451.05 381.44 L453.2 387.95 L455.34 393.81 L457.48 399.03 L459.62 403.64 L461.76 407.68 L463.9 411.19 L466.04 414.21 L468.18 416.79 L470.32 418.98 L472.46 420.82 L474.6 422.36 L476.75 423.63 L478.89 424.68 L481.03 425.54 L483.17 426.23 L485.31 426.79 L487.45 427.23 L489.59 427.59 L491.73 427.87 L493.87 428.09 L496.01 428.26 L498.15 428.39 L500.3 428.49 L502.44 428.57 L504.58 428.63 L506.72 428.68 L508.86 428.71 L511 428.73 L513.14 428.75 L515.28 428.77 L517.42 428.78 L519.56 428.78 L521.7 428.79 L523.85 428.79 L525.99 428.79 L528.13 428.8 L530.27 428.8 L532.41 428.8 L534.55 428.8 L536.69 428.8 L538.83 428.8 L540.97 428.8 L543.11 428.8 L545.25 428.8 L547.4 428.8 L549.54 428.8 L551.68 428.8 L553.82 428.8 L555.96 428.8 L558.1 428.8 L560.24 428.8 L562.38 428.8 L564.52 428.8 L566.66 428.8 L568.8 428.8 L570.95 428.8 L573.09 428.8 L575.23 428.8 L577.37 428.8 L579.51 428.8 L581.65 428.8 L583.79 428.8 L585.93 428.8 L588.07 428.8 L590.21 428.8 L592.35 428.8 L594.5 428.8 L596.64 428.8 L598.78 428.8 L600.92 428.8 L603.06 428.8 L605.2 428.8" fill="none" stroke="#0A8A1E" stroke-width="1.1" stroke-linejoin="round"/>
<rect x="369.67" y="426.42" width="3.6" height="3.6" fill="#0A8A1E"/>
<rect x="378.5" y="409.72" width="3.6" height="3.6" fill="#0A8A1E"/>
<rect x="387.33" y="373.1" width="3.6" height="3.6" fill="#0A8A1E"/>
<rect x="396.16" y="322.53" width="3.6" height="3.6" fill="#0A8A1E"/>
<rect x="404.99" y="272.28" width="3.6" height="3.6" fill="#0A8A1E"/>
<rect x="413.82" y="248.31" width="3.6" height="3.6" fill="#0A8A1E"/>
<rect x="422.65" y="266.75" width="3.6" height="3.6" fill="#0A8A1E"/>
<rect x="431.49" y="304.71" width="3.6" height="3.6" fill="#0A8A1E"/>
<rect x="440.32" y="345.65" width="3.6" height="3.6" fill="#0A8A1E"/>
<rect x="449.15" y="379.3" width="3.6" height="3.6" fill="#0A8A1E"/>
<rect x="457.98" y="402.17" width="3.6" height="3.6" fill="#0A8A1E"/>
<rect x="466.81" y="415.46" width="3.6" height="3.6" fill="#0A8A1E"/>
<rect x="475.64" y="422.2" width="3.6" height="3.6" fill="#0A8A1E"/>
<rect x="484.47" y="425.2" width="3.6" height="3.6" fill="#0A8A1E"/>
<rect x="493.3" y="426.39" width="3.6" height="3.6" fill="#0A8A1E"/>
<rect x="502.13" y="426.81" width="3.6" height="3.6" fill="#0A8A1E"/>
<rect x="510.97" y="426.95" width="3.6" height="3.6" fill="#0A8A1E"/>
<path d="M369.7 428.8 L371.84 428.02 L373.98 425.9 L376.12 422.53 L378.26 417.97 L380.4 412.26 L382.55 405.46 L384.69 397.59 L386.83 388.72 L388.97 378.93 L391.11 368.32 L393.25 356.99 L395.39 345.12 L397.53 332.89 L399.67 320.53 L401.81 308.3 L403.95 296.52 L406.1 285.53 L408.24 275.74 L410.38 267.55 L412.52 261.42 L414.66 257.78 L416.8 257.09 L418.94 259.14 L421.08 263.09 L423.22 268.59 L425.36 275.36 L427.5 283.16 L429.65 291.73 L431.79 300.87 L433.93 310.35 L436.07 319.98 L438.21 329.59 L440.35 339.03 L442.49 348.17 L444.63 356.89 L446.77 365.13 L448.91 372.82 L451.05 379.92 L453.2 386.41 L455.34 392.29 L457.48 397.56 L459.62 402.24 L461.76 406.37 L463.9 409.98 L466.04 413.11 L468.18 415.81 L470.32 418.1 L472.46 420.05 L474.6 421.69 L476.75 423.05 L478.89 424.18 L481.03 425.12 L483.17 425.88 L485.31 426.5 L487.45 426.99 L489.59 427.39 L491.73 427.71 L493.87 427.96 L496.01 428.16 L498.15 428.31 L500.3 428.43 L502.44 428.52 L504.58 428.59 L506.72 428.64 L508.86 428.69 L511 428.72 L513.14 428.74 L515.28 428.75 L517.42 428.77 L519.56 428.78 L521.7 428.78 L523.85 428.79 L525.99 428.79 L528.13 428.79 L530.27 428.8 L532.41 428.8 L534.55 428.8 L536.69 428.8 L538.83 428.8 L540.97 428.8 L543.11 428.8 L545.25 428.8 L547.4 428.8 L549.54 428.8 L551.68 428.8 L553.82 428.8 L555.96 428.8 L558.1 428.8 L560.24 428.8 L562.38 428.8 L564.52 428.8 L566.66 428.8 L568.8 428.8 L570.95 428.8 L573.09 428.8 L575.23 428.8 L577.37 428.8 L579.51 428.8 L581.65 428.8 L583.79 428.8 L585.93 428.8 L588.07 428.8 L590.21 428.8 L592.35 428.8 L594.5 428.8 L596.64 428.8 L598.78 428.8 L600.92 428.8 L603.06 428.8 L605.2 428.8" fill="none" stroke="#0A8A1E" stroke-width="1.1" stroke-linejoin="round"/>
<circle cx="372.06" cy="427.87" r="2" fill="#0A8A1E"/>
<circle cx="380.89" cy="410.83" r="2" fill="#0A8A1E"/>
<circle cx="389.72" cy="375.31" r="2" fill="#0A8A1E"/>
<circle cx="398.55" cy="327.02" r="2" fill="#0A8A1E"/>
<circle cx="407.38" cy="279.49" r="2" fill="#0A8A1E"/>
<circle cx="416.21" cy="256.95" r="2" fill="#0A8A1E"/>
<circle cx="425.04" cy="274.28" r="2" fill="#0A8A1E"/>
<circle cx="433.87" cy="310.11" r="2" fill="#0A8A1E"/>
<circle cx="442.71" cy="349.06" r="2" fill="#0A8A1E"/>
<circle cx="451.54" cy="381.43" r="2" fill="#0A8A1E"/>
<circle cx="460.37" cy="403.75" r="2" fill="#0A8A1E"/>
<circle cx="469.2" cy="416.94" r="2" fill="#0A8A1E"/>
<circle cx="478.03" cy="423.76" r="2" fill="#0A8A1E"/>
<circle cx="486.86" cy="426.87" r="2" fill="#0A8A1E"/>
<circle cx="495.69" cy="428.13" r="2" fill="#0A8A1E"/>
<circle cx="504.52" cy="428.59" r="2" fill="#0A8A1E"/>
<circle cx="513.36" cy="428.74" r="2" fill="#0A8A1E"/>
<path d="M369.7 428.8 L371.84 428.46 L373.98 427.43 L376.12 425.73 L378.26 423.33 L380.4 420.26 L382.55 416.51 L384.69 412.09 L386.83 407 L388.97 401.26 L391.11 394.89 L393.25 387.91 L395.39 380.36 L397.53 372.29 L399.67 363.75 L401.81 354.81 L403.95 345.57 L406.1 336.13 L408.24 326.61 L410.38 317.15 L412.52 307.93 L414.66 299.13 L416.8 290.96 L418.94 283.62 L421.08 277.37 L423.22 272.46 L425.36 269.13 L427.5 267.65 L429.65 268.51 L431.79 271.62 L433.93 276.46 L436.07 282.71 L438.21 290.09 L440.35 298.34 L442.49 307.22 L444.63 316.49 L446.77 325.94 L448.91 335.39 L451.05 344.66 L453.2 353.63 L455.34 362.16 L457.48 370.19 L459.62 377.64 L461.76 384.49 L463.9 390.7 L466.04 396.28 L468.18 401.25 L470.32 405.63 L472.46 409.45 L474.6 412.75 L476.75 415.58 L478.89 417.99 L481.03 420.02 L483.17 421.72 L485.31 423.13 L487.45 424.28 L489.59 425.23 L491.73 426 L493.87 426.61 L496.01 427.1 L498.15 427.49 L500.3 427.8 L502.44 428.04 L504.58 428.23 L506.72 428.37 L508.86 428.48 L511 428.56 L513.14 428.62 L515.28 428.67 L517.42 428.71 L519.56 428.73 L521.7 428.75 L523.85 428.77 L525.99 428.78 L528.13 428.78 L530.27 428.79 L532.41 428.79 L534.55 428.79 L536.69 428.8 L538.83 428.8 L540.97 428.8 L543.11 428.8 L545.25 428.8 L547.4 428.8 L549.54 428.8 L551.68 428.8 L553.82 428.8 L555.96 428.8 L558.1 428.8 L560.24 428.8 L562.38 428.8 L564.52 428.8 L566.66 428.8 L568.8 428.8 L570.95 428.8 L573.09 428.8 L575.23 428.8 L577.37 428.8 L579.51 428.8 L581.65 428.8 L583.79 428.8 L585.93 428.8 L588.07 428.8 L590.21 428.8 L592.35 428.8 L594.5 428.8 L596.64 428.8 L598.78 428.8 L600.92 428.8 L603.06 428.8 L605.2 428.8" fill="none" stroke="#0A8A1E" stroke-width="1.1" stroke-linejoin="round"/>
<path d="M375 423.83 L372.5 428.58 L377.5 428.58 Z" fill="#0A8A1E"/>
<path d="M383.83 411.06 L381.33 415.81 L386.33 415.81 Z" fill="#0A8A1E"/>
<path d="M392.66 387.02 L390.16 391.77 L395.16 391.77 Z" fill="#0A8A1E"/>
<path d="M401.49 353.3 L398.99 358.05 L403.99 358.05 Z" fill="#0A8A1E"/>
<path d="M410.32 314.51 L407.82 319.26 L412.82 319.26 Z" fill="#0A8A1E"/>
<path d="M419.16 280.07 L416.66 284.82 L421.66 284.82 Z" fill="#0A8A1E"/>
<path d="M427.99 264.72 L425.49 269.47 L430.49 269.47 Z" fill="#0A8A1E"/>
<path d="M436.82 282.3 L434.32 287.05 L439.32 287.05 Z" fill="#0A8A1E"/>
<path d="M445.65 318.09 L443.15 322.84 L448.15 322.84 Z" fill="#0A8A1E"/>
<path d="M454.48 355.93 L451.98 360.68 L456.98 360.68 Z" fill="#0A8A1E"/>
<path d="M463.31 386.18 L460.81 390.93 L465.81 390.93 Z" fill="#0A8A1E"/>
<path d="M472.14 406.03 L469.64 410.78 L474.64 410.78 Z" fill="#0A8A1E"/>
<path d="M480.97 417.1 L478.47 421.85 L483.47 421.85 Z" fill="#0A8A1E"/>
<path d="M489.81 422.44 L487.31 427.19 L492.31 427.19 Z" fill="#0A8A1E"/>
<path d="M498.64 424.7 L496.14 429.45 L501.14 429.45 Z" fill="#0A8A1E"/>
<path d="M507.47 425.54 L504.97 430.29 L509.97 430.29 Z" fill="#0A8A1E"/>
<path d="M516.3 425.81 L513.8 430.56 L518.8 430.56 Z" fill="#0A8A1E"/>
<path d="M525.13 425.9 L522.63 430.65 L527.63 430.65 Z" fill="#0A8A1E"/>
<path d="M369.7 428.8 L371.84 427.77 L373.98 425.23 L376.12 421.39 L378.26 416.37 L380.4 410.25 L382.55 403.09 L384.69 394.97 L386.83 385.95 L388.97 376.14 L391.11 365.62 L393.25 354.54 L395.39 343.05 L397.53 331.32 L399.67 319.55 L401.81 308 L403.95 296.93 L406.1 286.63 L408.24 277.42 L410.38 269.65 L412.52 263.67 L414.66 259.82 L416.8 258.47 L418.94 259.9 L421.08 263.4 L423.22 268.53 L425.36 275.02 L427.5 282.59 L429.65 291.02 L431.79 300.05 L433.93 309.48 L436.07 319.1 L438.21 328.72 L440.35 338.21 L442.49 347.4 L444.63 356.2 L446.77 364.52 L448.91 372.29 L451.05 379.47 L453.2 386.04 L455.34 391.99 L457.48 397.33 L459.62 402.07 L461.76 406.25 L463.9 409.9 L466.04 413.06 L468.18 415.78 L470.32 418.1 L472.46 420.06 L474.6 421.71 L476.75 423.08 L478.89 424.21 L481.03 425.15 L483.17 425.91 L485.31 426.52 L487.45 427.02 L489.59 427.42 L491.73 427.73 L493.87 427.98 L496.01 428.17 L498.15 428.32 L500.3 428.44 L502.44 428.53 L504.58 428.6 L506.72 428.65 L508.86 428.69 L511 428.72 L513.14 428.74 L515.28 428.76 L517.42 428.77 L519.56 428.78 L521.7 428.78 L523.85 428.79 L525.99 428.79 L528.13 428.79 L530.27 428.8 L532.41 428.8 L534.55 428.8 L536.69 428.8 L538.83 428.8 L540.97 428.8 L543.11 428.8 L545.25 428.8 L547.4 428.8 L549.54 428.8 L551.68 428.8 L553.82 428.8 L555.96 428.8 L558.1 428.8 L560.24 428.8 L562.38 428.8 L564.52 428.8 L566.66 428.8 L568.8 428.8 L570.95 428.8 L573.09 428.8 L575.23 428.8 L577.37 428.8 L579.51 428.8 L581.65 428.8 L583.79 428.8 L585.93 428.8 L588.07 428.8 L590.21 428.8 L592.35 428.8 L594.5 428.8 L596.64 428.8 L598.78 428.8 L600.92 428.8 L603.06 428.8 L605.2 428.8" fill="none" stroke="#FF8C14" stroke-width="1.1" stroke-linejoin="round"/>
<rect x="370.84" y="425.18" width="3.6" height="3.6" fill="#FF8C14"/>
<rect x="379.68" y="405" width="3.6" height="3.6" fill="#FF8C14"/>
<rect x="388.51" y="367.84" width="3.6" height="3.6" fill="#FF8C14"/>
<rect x="397.34" y="320.69" width="3.6" height="3.6" fill="#FF8C14"/>
<rect x="406.17" y="276.7" width="3.6" height="3.6" fill="#FF8C14"/>
<rect x="415" y="256.67" width="3.6" height="3.6" fill="#FF8C14"/>
<rect x="423.83" y="274.11" width="3.6" height="3.6" fill="#FF8C14"/>
<rect x="432.66" y="310.07" width="3.6" height="3.6" fill="#FF8C14"/>
<rect x="441.49" y="348.95" width="3.6" height="3.6" fill="#FF8C14"/>
<rect x="450.32" y="381.04" width="3.6" height="3.6" fill="#FF8C14"/>
<rect x="459.16" y="402.94" width="3.6" height="3.6" fill="#FF8C14"/>
<rect x="467.99" y="415.75" width="3.6" height="3.6" fill="#FF8C14"/>
<rect x="476.82" y="422.28" width="3.6" height="3.6" fill="#FF8C14"/>
<rect x="485.65" y="425.22" width="3.6" height="3.6" fill="#FF8C14"/>
<rect x="494.48" y="426.39" width="3.6" height="3.6" fill="#FF8C14"/>
<rect x="503.31" y="426.81" width="3.6" height="3.6" fill="#FF8C14"/>
<rect x="512.14" y="426.95" width="3.6" height="3.6" fill="#FF8C14"/>
<path d="M369.7 428.8 L371.84 427.81 L373.98 425.37 L376.12 421.68 L378.26 416.86 L380.4 410.98 L382.55 404.11 L384.69 396.3 L386.83 387.63 L388.97 378.18 L391.11 368.06 L393.25 357.38 L395.39 346.27 L397.53 334.91 L399.67 323.49 L401.81 312.23 L403.95 301.38 L406.1 291.21 L408.24 282.02 L410.38 274.14 L412.52 267.88 L414.66 263.6 L416.8 261.61 L418.94 262.28 L421.08 265.14 L423.22 269.67 L425.36 275.56 L427.5 282.58 L429.65 290.48 L431.79 299.05 L433.93 308.07 L436.07 317.34 L438.21 326.68 L440.35 335.95 L442.49 344.99 L444.63 353.7 L446.77 361.98 L448.91 369.76 L451.05 377 L453.2 383.66 L455.34 389.72 L457.48 395.2 L459.62 400.1 L461.76 404.44 L463.9 408.26 L466.04 411.59 L468.18 414.48 L470.32 416.95 L472.46 419.06 L474.6 420.84 L476.75 422.34 L478.89 423.58 L481.03 424.61 L483.17 425.46 L485.31 426.15 L487.45 426.71 L489.59 427.17 L491.73 427.53 L493.87 427.81 L496.01 428.04 L498.15 428.22 L500.3 428.36 L502.44 428.47 L504.58 428.55 L506.72 428.61 L508.86 428.66 L511 428.7 L513.14 428.72 L515.28 428.74 L517.42 428.76 L519.56 428.77 L521.7 428.78 L523.85 428.78 L525.99 428.79 L528.13 428.79 L530.27 428.79 L532.41 428.8 L534.55 428.8 L536.69 428.8 L538.83 428.8 L540.97 428.8 L543.11 428.8 L545.25 428.8 L547.4 428.8 L549.54 428.8 L551.68 428.8 L553.82 428.8 L555.96 428.8 L558.1 428.8 L560.24 428.8 L562.38 428.8 L564.52 428.8 L566.66 428.8 L568.8 428.8 L570.95 428.8 L573.09 428.8 L575.23 428.8 L577.37 428.8 L579.51 428.8 L581.65 428.8 L583.79 428.8 L585.93 428.8 L588.07 428.8 L590.21 428.8 L592.35 428.8 L594.5 428.8 L596.64 428.8 L598.78 428.8 L600.92 428.8 L603.06 428.8 L605.2 428.8" fill="none" stroke="#FF8C14" stroke-width="1.1" stroke-linejoin="round"/>
<circle cx="373.23" cy="426.37" r="2" fill="#FF8C14"/>
<circle cx="382.06" cy="405.74" r="2" fill="#FF8C14"/>
<circle cx="390.89" cy="369.1" r="2" fill="#FF8C14"/>
<circle cx="399.73" cy="323.21" r="2" fill="#FF8C14"/>
<circle cx="408.56" cy="280.75" r="2" fill="#FF8C14"/>
<circle cx="417.39" cy="261.51" r="2" fill="#FF8C14"/>
<circle cx="426.22" cy="278.25" r="2" fill="#FF8C14"/>
<circle cx="435.05" cy="312.91" r="2" fill="#FF8C14"/>
<circle cx="443.88" cy="350.69" r="2" fill="#FF8C14"/>
<circle cx="452.71" cy="382.21" r="2" fill="#FF8C14"/>
<circle cx="461.55" cy="404.03" r="2" fill="#FF8C14"/>
<circle cx="470.38" cy="417.01" r="2" fill="#FF8C14"/>
<circle cx="479.21" cy="423.75" r="2" fill="#FF8C14"/>
<circle cx="488.04" cy="426.85" r="2" fill="#FF8C14"/>
<circle cx="496.87" cy="428.12" r="2" fill="#FF8C14"/>
<circle cx="505.7" cy="428.58" r="2" fill="#FF8C14"/>
<circle cx="514.53" cy="428.74" r="2" fill="#FF8C14"/>
<path d="M369.7 428.8 L371.84 428.34 L373.98 427.1 L376.12 425.12 L378.26 422.44 L380.4 419.09 L382.55 415.08 L384.69 410.43 L386.83 405.16 L388.97 399.29 L391.11 392.86 L393.25 385.89 L395.39 378.42 L397.53 370.52 L399.67 362.23 L401.81 353.63 L403.95 344.81 L406.1 335.86 L408.24 326.9 L410.38 318.05 L412.52 309.46 L414.66 301.29 L416.8 293.7 L418.94 286.88 L421.08 281.02 L423.22 276.33 L425.36 273 L427.5 271.25 L429.65 271.41 L431.79 273.87 L433.93 278.07 L436.07 283.7 L438.21 290.48 L440.35 298.18 L442.49 306.56 L444.63 315.39 L446.77 324.47 L448.91 333.61 L451.05 342.65 L453.2 351.45 L455.34 359.88 L457.48 367.86 L459.62 375.32 L461.76 382.21 L463.9 388.51 L466.04 394.21 L468.18 399.32 L470.32 403.84 L472.46 407.82 L474.6 411.29 L476.75 414.28 L478.89 416.85 L481.03 419.02 L483.17 420.86 L485.31 422.39 L487.45 423.66 L489.59 424.7 L491.73 425.56 L493.87 426.25 L496.01 426.81 L498.15 427.25 L500.3 427.61 L502.44 427.88 L504.58 428.1 L506.72 428.27 L508.86 428.4 L511 428.5 L513.14 428.58 L515.28 428.64 L517.42 428.68 L519.56 428.71 L521.7 428.74 L523.85 428.75 L525.99 428.77 L528.13 428.78 L530.27 428.78 L532.41 428.79 L534.55 428.79 L536.69 428.79 L538.83 428.8 L540.97 428.8 L543.11 428.8 L545.25 428.8 L547.4 428.8 L549.54 428.8 L551.68 428.8 L553.82 428.8 L555.96 428.8 L558.1 428.8 L560.24 428.8 L562.38 428.8 L564.52 428.8 L566.66 428.8 L568.8 428.8 L570.95 428.8 L573.09 428.8 L575.23 428.8 L577.37 428.8 L579.51 428.8 L581.65 428.8 L583.79 428.8 L585.93 428.8 L588.07 428.8 L590.21 428.8 L592.35 428.8 L594.5 428.8 L596.64 428.8 L598.78 428.8 L600.92 428.8 L603.06 428.8 L605.2 428.8" fill="none" stroke="#FF8C14" stroke-width="1.1" stroke-linejoin="round"/>
<path d="M375.59 422.81 L373.09 427.56 L378.09 427.56 Z" fill="#FF8C14"/>
<path d="M384.42 408.17 L381.92 412.92 L386.92 412.92 Z" fill="#FF8C14"/>
<path d="M393.25 383.01 L390.75 387.76 L395.75 387.76 Z" fill="#FF8C14"/>
<path d="M402.08 349.67 L399.58 354.42 L404.58 354.42 Z" fill="#FF8C14"/>
<path d="M410.91 313 L408.41 317.75 L413.41 317.75 Z" fill="#FF8C14"/>
<path d="M419.74 281.68 L417.24 286.43 L422.24 286.43 Z" fill="#FF8C14"/>
<path d="M428.57 268.14 L426.07 272.89 L431.07 272.89 Z" fill="#FF8C14"/>
<path d="M437.41 284.94 L434.91 289.69 L439.91 289.69 Z" fill="#FF8C14"/>
<path d="M446.24 319.32 L443.74 324.07 L448.74 324.07 Z" fill="#FF8C14"/>
<path d="M455.07 355.97 L452.57 360.72 L457.57 360.72 Z" fill="#FF8C14"/>
<path d="M463.9 385.64 L461.4 390.39 L466.4 390.39 Z" fill="#FF8C14"/>
<path d="M472.73 405.41 L470.23 410.16 L475.23 410.16 Z" fill="#FF8C14"/>
<path d="M481.56 416.64 L479.06 421.39 L484.06 421.39 Z" fill="#FF8C14"/>
<path d="M490.39 422.17 L487.89 426.92 L492.89 426.92 Z" fill="#FF8C14"/>
<path d="M499.22 424.57 L496.72 429.32 L501.72 429.32 Z" fill="#FF8C14"/>
<path d="M508.06 425.48 L505.56 430.23 L510.56 430.23 Z" fill="#FF8C14"/>
<path d="M516.89 425.8 L514.39 430.55 L519.39 430.55 Z" fill="#FF8C14"/>
<path d="M525.72 425.89 L523.22 430.64 L528.22 430.64 Z" fill="#FF8C14"/>
<path d="M369.7 428.8 L371.84 426.91 L373.98 423.06 L376.12 417.83 L378.26 411.43 L380.4 404.03 L382.55 395.74 L384.69 386.68 L386.83 376.97 L388.97 366.72 L391.11 356.08 L393.25 345.19 L395.39 334.23 L397.53 323.36 L399.67 312.79 L401.81 302.73 L403.95 293.41 L406.1 285.07 L408.24 277.94 L410.38 272.28 L412.52 268.32 L414.66 266.3 L416.8 266.26 L418.94 267.54 L421.08 270.01 L423.22 273.62 L425.36 278.28 L427.5 283.9 L429.65 290.36 L431.79 297.52 L433.93 305.25 L436.07 313.39 L438.21 321.81 L440.35 330.35 L442.49 338.9 L444.63 347.32 L446.77 355.5 L448.91 363.36 L451.05 370.81 L453.2 377.8 L455.34 384.29 L457.48 390.24 L459.62 395.65 L461.76 400.51 L463.9 404.84 L466.04 408.66 L468.18 412 L470.32 414.89 L472.46 417.37 L474.6 419.48 L476.75 421.25 L478.89 422.74 L481.03 423.96 L483.17 424.97 L485.31 425.79 L487.45 426.46 L489.59 426.99 L491.73 427.41 L493.87 427.74 L496.01 428 L498.15 428.2 L500.3 428.35 L502.44 428.47 L504.58 428.56 L506.72 428.62 L508.86 428.67 L511 428.71 L513.14 428.73 L515.28 428.75 L517.42 428.77 L519.56 428.78 L521.7 428.78 L523.85 428.79 L525.99 428.79 L528.13 428.8 L530.27 428.8 L532.41 428.8 L534.55 428.8 L536.69 428.8 L538.83 428.8 L540.97 428.8 L543.11 428.8 L545.25 428.8 L547.4 428.8 L549.54 428.8 L551.68 428.8 L553.82 428.8 L555.96 428.8 L558.1 428.8 L560.24 428.8 L562.38 428.8 L564.52 428.8 L566.66 428.8 L568.8 428.8 L570.95 428.8 L573.09 428.8 L575.23 428.8 L577.37 428.8 L579.51 428.8 L581.65 428.8 L583.79 428.8 L585.93 428.8 L588.07 428.8 L590.21 428.8 L592.35 428.8 L594.5 428.8 L596.64 428.8 L598.78 428.8 L600.92 428.8 L603.06 428.8 L605.2 428.8" fill="none" stroke="#6E9BD8" stroke-width="1.1" stroke-linejoin="round"/>
<rect x="369.67" y="425.61" width="3.6" height="3.6" fill="#6E9BD8"/>
<rect x="378.5" y="402.62" width="3.6" height="3.6" fill="#6E9BD8"/>
<rect x="387.33" y="364.14" width="3.6" height="3.6" fill="#6E9BD8"/>
<rect x="396.16" y="319.41" width="3.6" height="3.6" fill="#6E9BD8"/>
<rect x="404.99" y="280.81" width="3.6" height="3.6" fill="#6E9BD8"/>
<rect x="413.82" y="264.27" width="3.6" height="3.6" fill="#6E9BD8"/>
<rect x="422.65" y="274.38" width="3.6" height="3.6" fill="#6E9BD8"/>
<rect x="431.49" y="301.08" width="3.6" height="3.6" fill="#6E9BD8"/>
<rect x="440.32" y="335.61" width="3.6" height="3.6" fill="#6E9BD8"/>
<rect x="449.15" y="368.65" width="3.6" height="3.6" fill="#6E9BD8"/>
<rect x="457.98" y="394.23" width="3.6" height="3.6" fill="#6E9BD8"/>
<rect x="466.81" y="410.81" width="3.6" height="3.6" fill="#6E9BD8"/>
<rect x="475.64" y="419.96" width="3.6" height="3.6" fill="#6E9BD8"/>
<rect x="484.47" y="424.31" width="3.6" height="3.6" fill="#6E9BD8"/>
<rect x="493.3" y="426.1" width="3.6" height="3.6" fill="#6E9BD8"/>
<rect x="502.13" y="426.73" width="3.6" height="3.6" fill="#6E9BD8"/>
<rect x="510.97" y="426.93" width="3.6" height="3.6" fill="#6E9BD8"/>
<path d="M369.7 428.8 L371.84 427.03 L373.98 423.44 L376.12 418.56 L378.26 412.59 L380.4 405.67 L382.55 397.93 L384.69 389.45 L386.83 380.35 L388.97 370.74 L391.11 360.73 L393.25 350.46 L395.39 340.07 L397.53 329.72 L399.67 319.59 L401.81 309.86 L403.95 300.73 L406.1 292.41 L408.24 285.13 L410.38 279.09 L412.52 274.52 L414.66 271.64 L416.8 270.64 L418.94 271.23 L421.08 272.98 L423.22 275.87 L425.36 279.81 L427.5 284.74 L429.65 290.54 L431.79 297.09 L433.93 304.27 L436.07 311.93 L438.21 319.94 L440.35 328.15 L442.49 336.44 L444.63 344.67 L446.77 352.74 L448.91 360.55 L451.05 368.01 L453.2 375.06 L455.34 381.65 L457.48 387.73 L459.62 393.3 L461.76 398.34 L463.9 402.86 L466.04 406.87 L468.18 410.4 L470.32 413.48 L472.46 416.14 L474.6 418.41 L476.75 420.34 L478.89 421.96 L481.03 423.32 L483.17 424.43 L485.31 425.35 L487.45 426.09 L489.59 426.69 L491.73 427.17 L493.87 427.55 L496.01 427.85 L498.15 428.08 L500.3 428.26 L502.44 428.4 L504.58 428.5 L506.72 428.58 L508.86 428.64 L511 428.69 L513.14 428.72 L515.28 428.74 L517.42 428.76 L519.56 428.77 L521.7 428.78 L523.85 428.79 L525.99 428.79 L528.13 428.79 L530.27 428.8 L532.41 428.8 L534.55 428.8 L536.69 428.8 L538.83 428.8 L540.97 428.8 L543.11 428.8 L545.25 428.8 L547.4 428.8 L549.54 428.8 L551.68 428.8 L553.82 428.8 L555.96 428.8 L558.1 428.8 L560.24 428.8 L562.38 428.8 L564.52 428.8 L566.66 428.8 L568.8 428.8 L570.95 428.8 L573.09 428.8 L575.23 428.8 L577.37 428.8 L579.51 428.8 L581.65 428.8 L583.79 428.8 L585.93 428.8 L588.07 428.8 L590.21 428.8 L592.35 428.8 L594.5 428.8 L596.64 428.8 L598.78 428.8 L600.92 428.8 L603.06 428.8 L605.2 428.8" fill="none" stroke="#6E9BD8" stroke-width="1.1" stroke-linejoin="round"/>
<circle cx="372.64" cy="425.86" r="2" fill="#6E9BD8"/>
<circle cx="381.48" cy="401.9" r="2" fill="#6E9BD8"/>
<circle cx="390.31" cy="364.53" r="2" fill="#6E9BD8"/>
<circle cx="399.14" cy="322.09" r="2" fill="#6E9BD8"/>
<circle cx="407.97" cy="285.97" r="2" fill="#6E9BD8"/>
<circle cx="416.8" cy="270.64" r="2" fill="#6E9BD8"/>
<circle cx="425.63" cy="280.38" r="2" fill="#6E9BD8"/>
<circle cx="434.46" cy="306.14" r="2" fill="#6E9BD8"/>
<circle cx="443.29" cy="339.54" r="2" fill="#6E9BD8"/>
<circle cx="452.12" cy="371.59" r="2" fill="#6E9BD8"/>
<circle cx="460.96" cy="396.51" r="2" fill="#6E9BD8"/>
<circle cx="469.79" cy="412.75" r="2" fill="#6E9BD8"/>
<circle cx="478.62" cy="421.78" r="2" fill="#6E9BD8"/>
<circle cx="487.45" cy="426.09" r="2" fill="#6E9BD8"/>
<circle cx="496.28" cy="427.88" r="2" fill="#6E9BD8"/>
<circle cx="505.11" cy="428.53" r="2" fill="#6E9BD8"/>
<circle cx="513.94" cy="428.73" r="2" fill="#6E9BD8"/>
<path d="M369.7 428.8 L371.84 427.98 L373.98 426.14 L376.12 423.5 L378.26 420.15 L380.4 416.17 L382.55 411.6 L384.69 406.49 L386.83 400.86 L388.97 394.78 L391.11 388.26 L393.25 381.37 L395.39 374.16 L397.53 366.68 L399.67 359 L401.81 351.18 L403.95 343.31 L406.1 335.48 L408.24 327.77 L410.38 320.3 L412.52 313.17 L414.66 306.49 L416.8 300.39 L418.94 294.99 L421.08 290.42 L423.22 286.81 L425.36 284.29 L427.5 282.97 L429.65 282.95 L431.79 284.14 L433.93 286.47 L436.07 289.91 L438.21 294.37 L440.35 299.73 L442.49 305.89 L444.63 312.71 L446.77 320.04 L448.91 327.73 L451.05 335.64 L453.2 343.63 L455.34 351.56 L457.48 359.32 L459.62 366.82 L461.76 373.95 L463.9 380.65 L466.04 386.88 L468.18 392.6 L470.32 397.79 L472.46 402.46 L474.6 406.6 L476.75 410.24 L478.89 413.42 L481.03 416.15 L483.17 418.48 L485.31 420.45 L487.45 422.1 L489.59 423.47 L491.73 424.59 L493.87 425.5 L496.01 426.24 L498.15 426.83 L500.3 427.29 L502.44 427.66 L504.58 427.94 L506.72 428.16 L508.86 428.33 L511 428.45 L513.14 428.55 L515.28 428.62 L517.42 428.67 L519.56 428.71 L521.7 428.73 L523.85 428.75 L525.99 428.77 L528.13 428.78 L530.27 428.79 L532.41 428.79 L534.55 428.79 L536.69 428.8 L538.83 428.8 L540.97 428.8 L543.11 428.8 L545.25 428.8 L547.4 428.8 L549.54 428.8 L551.68 428.8 L553.82 428.8 L555.96 428.8 L558.1 428.8 L560.24 428.8 L562.38 428.8 L564.52 428.8 L566.66 428.8 L568.8 428.8 L570.95 428.8 L573.09 428.8 L575.23 428.8 L577.37 428.8 L579.51 428.8 L581.65 428.8 L583.79 428.8 L585.93 428.8 L588.07 428.8 L590.21 428.8 L592.35 428.8 L594.5 428.8 L596.64 428.8 L598.78 428.8 L600.92 428.8 L603.06 428.8 L605.2 428.8" fill="none" stroke="#6E9BD8" stroke-width="1.1" stroke-linejoin="round"/>
<path d="M375.59 421.35 L373.09 426.1 L378.09 426.1 Z" fill="#6E9BD8"/>
<path d="M384.42 404.28 L381.92 409.03 L386.92 409.03 Z" fill="#6E9BD8"/>
<path d="M393.25 378.5 L390.75 383.25 L395.75 383.25 Z" fill="#6E9BD8"/>
<path d="M402.08 347.32 L399.58 352.07 L404.58 352.07 Z" fill="#6E9BD8"/>
<path d="M410.91 315.61 L408.41 320.36 L413.41 320.36 Z" fill="#6E9BD8"/>
<path d="M419.74 290.3 L417.24 295.05 L422.24 295.05 Z" fill="#6E9BD8"/>
<path d="M428.57 279.93 L426.07 284.68 L431.07 284.68 Z" fill="#6E9BD8"/>
<path d="M437.41 289.71 L434.91 294.46 L439.91 294.46 Z" fill="#6E9BD8"/>
<path d="M446.24 315.29 L443.74 320.04 L448.74 320.04 Z" fill="#6E9BD8"/>
<path d="M455.07 347.7 L452.57 352.45 L457.57 352.45 Z" fill="#6E9BD8"/>
<path d="M463.9 377.78 L461.4 382.53 L466.4 382.53 Z" fill="#6E9BD8"/>
<path d="M472.73 400.13 L470.23 404.88 L475.23 404.88 Z" fill="#6E9BD8"/>
<path d="M481.56 413.89 L479.06 418.64 L484.06 418.64 Z" fill="#6E9BD8"/>
<path d="M490.39 421.04 L487.89 425.79 L492.89 425.79 Z" fill="#6E9BD8"/>
<path d="M499.22 424.2 L496.72 428.95 L501.72 428.95 Z" fill="#6E9BD8"/>
<path d="M508.06 425.39 L505.56 430.14 L510.56 430.14 Z" fill="#6E9BD8"/>
<path d="M516.89 425.78 L514.39 430.53 L519.39 430.53 Z" fill="#6E9BD8"/>
<path d="M525.72 425.89 L523.22 430.64 L528.22 430.64 Z" fill="#6E9BD8"/>
<path d="M369.7 428.8 L371.84 418.68 L373.98 408.76 L376.12 399.06 L378.26 389.57 L380.4 380.31 L382.55 371.29 L384.69 362.5 L386.83 353.97 L388.97 345.71 L391.11 337.73 L393.25 330.04 L395.39 322.66 L397.53 315.63 L399.67 308.95 L401.81 302.66 L403.95 296.81 L406.1 291.44 L408.24 286.64 L410.38 282.53 L412.52 279.37 L414.66 278.25 L416.8 278.44 L418.94 278.97 L421.08 279.94 L423.22 281.38 L425.36 283.36 L427.5 285.88 L429.65 288.96 L431.79 292.6 L433.93 296.78 L436.07 301.48 L438.21 306.64 L440.35 312.23 L442.49 318.19 L444.63 324.45 L446.77 330.94 L448.91 337.59 L451.05 344.32 L453.2 351.05 L455.34 357.71 L457.48 364.24 L459.62 370.57 L461.76 376.65 L463.9 382.42 L466.04 387.85 L468.18 392.91 L470.32 397.58 L472.46 401.85 L474.6 405.71 L476.75 409.17 L478.89 412.25 L481.03 414.96 L483.17 417.31 L485.31 419.35 L487.45 421.09 L489.59 422.56 L491.73 423.79 L493.87 424.82 L496.01 425.66 L498.15 426.34 L500.3 426.9 L502.44 427.34 L504.58 427.69 L506.72 427.96 L508.86 428.17 L511 428.34 L513.14 428.46 L515.28 428.55 L517.42 428.62 L519.56 428.67 L521.7 428.71 L523.85 428.74 L525.99 428.76 L528.13 428.77 L530.27 428.78 L532.41 428.79 L534.55 428.79 L536.69 428.79 L538.83 428.8 L540.97 428.8 L543.11 428.8 L545.25 428.8 L547.4 428.8 L549.54 428.8 L551.68 428.8 L553.82 428.8 L555.96 428.8 L558.1 428.8 L560.24 428.8 L562.38 428.8 L564.52 428.8 L566.66 428.8 L568.8 428.8 L570.95 428.8 L573.09 428.8 L575.23 428.8 L577.37 428.8 L579.51 428.8 L581.65 428.8 L583.79 428.8 L585.93 428.8 L588.07 428.8 L590.21 428.8 L592.35 428.8 L594.5 428.8 L596.64 428.8 L598.78 428.8 L600.92 428.8 L603.06 428.8 L605.2 428.8" fill="none" stroke="#F51414" stroke-width="1.1" stroke-linejoin="round"/>
<rect x="376.73" y="386.6" width="3.6" height="3.6" fill="#F51414"/>
<rect x="385.56" y="350.08" width="3.6" height="3.6" fill="#F51414"/>
<rect x="394.39" y="318.18" width="3.6" height="3.6" fill="#F51414"/>
<rect x="403.22" y="292.26" width="3.6" height="3.6" fill="#F51414"/>
<rect x="412.06" y="276.44" width="3.6" height="3.6" fill="#F51414"/>
<rect x="420.89" y="279.17" width="3.6" height="3.6" fill="#F51414"/>
<rect x="429.72" y="290.32" width="3.6" height="3.6" fill="#F51414"/>
<rect x="438.55" y="310.43" width="3.6" height="3.6" fill="#F51414"/>
<rect x="447.38" y="336.63" width="3.6" height="3.6" fill="#F51414"/>
<rect x="456.21" y="364.05" width="3.6" height="3.6" fill="#F51414"/>
<rect x="465.04" y="387.99" width="3.6" height="3.6" fill="#F51414"/>
<rect x="473.88" y="405.69" width="3.6" height="3.6" fill="#F51414"/>
<rect x="482.71" y="416.82" width="3.6" height="3.6" fill="#F51414"/>
<rect x="491.54" y="422.78" width="3.6" height="3.6" fill="#F51414"/>
<rect x="500.37" y="425.49" width="3.6" height="3.6" fill="#F51414"/>
<rect x="509.2" y="426.54" width="3.6" height="3.6" fill="#F51414"/>
<path d="M369.7 428.8 L371.84 419.46 L373.98 410.3 L376.12 401.33 L378.26 392.54 L380.4 383.96 L382.55 375.59 L384.69 367.43 L386.83 359.49 L388.97 351.78 L391.11 344.32 L393.25 337.12 L395.39 330.18 L397.53 323.53 L399.67 317.2 L401.81 311.19 L403.95 305.54 L406.1 300.3 L408.24 295.51 L410.38 291.25 L412.52 287.65 L414.66 284.97 L416.8 284.34 L418.94 284.57 L421.08 285.13 L423.22 286.1 L425.36 287.53 L427.5 289.45 L429.65 291.88 L431.79 294.84 L433.93 298.31 L436.07 302.29 L438.21 306.75 L440.35 311.64 L442.49 316.93 L444.63 322.57 L446.77 328.48 L448.91 334.62 L451.05 340.9 L453.2 347.26 L455.34 353.64 L457.48 359.95 L459.62 366.14 L461.76 372.16 L463.9 377.94 L466.04 383.45 L468.18 388.64 L470.32 393.49 L472.46 397.98 L474.6 402.1 L476.75 405.84 L478.89 409.2 L481.03 412.2 L483.17 414.85 L485.31 417.17 L487.45 419.18 L489.59 420.91 L491.73 422.38 L493.87 423.62 L496.01 424.65 L498.15 425.51 L500.3 426.21 L502.44 426.78 L504.58 427.24 L506.72 427.6 L508.86 427.89 L511 428.11 L513.14 428.29 L515.28 428.42 L517.42 428.52 L519.56 428.6 L521.7 428.66 L523.85 428.7 L525.99 428.73 L528.13 428.75 L530.27 428.76 L532.41 428.78 L534.55 428.78 L536.69 428.79 L538.83 428.79 L540.97 428.8 L543.11 428.8 L545.25 428.8 L547.4 428.8 L549.54 428.8 L551.68 428.8 L553.82 428.8 L555.96 428.8 L558.1 428.8 L560.24 428.8 L562.38 428.8 L564.52 428.8 L566.66 428.8 L568.8 428.8 L570.95 428.8 L573.09 428.8 L575.23 428.8 L577.37 428.8 L579.51 428.8 L581.65 428.8 L583.79 428.8 L585.93 428.8 L588.07 428.8 L590.21 428.8 L592.35 428.8 L594.5 428.8 L596.64 428.8 L598.78 428.8 L600.92 428.8 L603.06 428.8 L605.2 428.8" fill="none" stroke="#F51414" stroke-width="1.1" stroke-linejoin="round"/>
<circle cx="371.47" cy="421.08" r="2" fill="#F51414"/>
<circle cx="380.3" cy="384.39" r="2" fill="#F51414"/>
<circle cx="389.13" cy="351.21" r="2" fill="#F51414"/>
<circle cx="397.96" cy="322.24" r="2" fill="#F51414"/>
<circle cx="406.79" cy="298.69" r="2" fill="#F51414"/>
<circle cx="415.62" cy="284.32" r="2" fill="#F51414"/>
<circle cx="424.45" cy="286.86" r="2" fill="#F51414"/>
<circle cx="433.29" cy="297.22" r="2" fill="#F51414"/>
<circle cx="442.12" cy="315.98" r="2" fill="#F51414"/>
<circle cx="450.95" cy="340.58" r="2" fill="#F51414"/>
<circle cx="459.78" cy="366.6" r="2" fill="#F51414"/>
<circle cx="468.61" cy="389.64" r="2" fill="#F51414"/>
<circle cx="477.44" cy="406.97" r="2" fill="#F51414"/>
<circle cx="486.27" cy="418.11" r="2" fill="#F51414"/>
<circle cx="495.1" cy="424.23" r="2" fill="#F51414"/>
<circle cx="503.93" cy="427.11" r="2" fill="#F51414"/>
<circle cx="512.77" cy="428.26" r="2" fill="#F51414"/>
<path d="M369.7 428.8 L371.84 422.25 L373.98 415.79 L376.12 409.44 L378.26 403.19 L380.4 397.05 L382.55 391.03 L384.69 385.11 L386.83 379.31 L388.97 373.63 L391.11 368.08 L393.25 362.65 L395.39 357.36 L397.53 352.2 L399.67 347.19 L401.81 342.33 L403.95 337.63 L406.1 333.1 L408.24 328.74 L410.38 324.57 L412.52 320.6 L414.66 316.85 L416.8 313.34 L418.94 310.1 L421.08 307.16 L423.22 304.58 L425.36 302.47 L427.5 301.09 L429.65 301.12 L431.79 301.45 L433.93 302.13 L436.07 303.22 L438.21 304.78 L440.35 306.82 L442.49 309.36 L444.63 312.39 L446.77 315.92 L448.91 319.9 L451.05 324.32 L453.2 329.13 L455.34 334.27 L457.48 339.69 L459.62 345.32 L461.76 351.1 L463.9 356.95 L466.04 362.81 L468.18 368.61 L470.32 374.29 L472.46 379.78 L474.6 385.05 L476.75 390.04 L478.89 394.72 L481.03 399.07 L483.17 403.07 L485.31 406.71 L487.45 409.99 L489.59 412.91 L491.73 415.49 L493.87 417.75 L496.01 419.7 L498.15 421.37 L500.3 422.79 L502.44 423.98 L504.58 424.97 L506.72 425.78 L508.86 426.45 L511 426.98 L513.14 427.41 L515.28 427.74 L517.42 428.01 L519.56 428.21 L521.7 428.37 L523.85 428.48 L525.99 428.57 L528.13 428.64 L530.27 428.68 L532.41 428.72 L534.55 428.74 L536.69 428.76 L538.83 428.77 L540.97 428.78 L543.11 428.79 L545.25 428.79 L547.4 428.79 L549.54 428.8 L551.68 428.8 L553.82 428.8 L555.96 428.8 L558.1 428.8 L560.24 428.8 L562.38 428.8 L564.52 428.8 L566.66 428.8 L568.8 428.8 L570.95 428.8 L573.09 428.8 L575.23 428.8 L577.37 428.8 L579.51 428.8 L581.65 428.8 L583.79 428.8 L585.93 428.8 L588.07 428.8 L590.21 428.8 L592.35 428.8 L594.5 428.8 L596.64 428.8 L598.78 428.8 L600.92 428.8 L603.06 428.8 L605.2 428.8" fill="none" stroke="#F51414" stroke-width="1.1" stroke-linejoin="round"/>
<path d="M374.7 410.76 L372.2 415.51 L377.2 415.51 Z" fill="#F51414"/>
<path d="M383.54 385.4 L381.04 390.15 L386.04 390.15 Z" fill="#F51414"/>
<path d="M392.37 362 L389.87 366.75 L394.87 366.75 Z" fill="#F51414"/>
<path d="M401.2 340.84 L398.7 345.59 L403.7 345.59 Z" fill="#F51414"/>
<path d="M410.03 322.36 L407.53 327.11 L412.53 327.11 Z" fill="#F51414"/>
<path d="M418.86 307.34 L416.36 312.09 L421.36 312.09 Z" fill="#F51414"/>
<path d="M427.69 298.18 L425.19 302.93 L430.19 302.93 Z" fill="#F51414"/>
<path d="M436.52 300.64 L434.02 305.39 L439.02 305.39 Z" fill="#F51414"/>
<path d="M445.35 310.65 L442.85 315.4 L447.85 315.4 Z" fill="#F51414"/>
<path d="M454.19 328.59 L451.69 333.34 L456.69 333.34 Z" fill="#F51414"/>
<path d="M463.02 351.66 L460.52 356.41 L465.52 356.41 Z" fill="#F51414"/>
<path d="M471.85 375.35 L469.35 380.1 L474.35 380.1 Z" fill="#F51414"/>
<path d="M480.68 395.51 L478.18 400.26 L483.18 400.26 Z" fill="#F51414"/>
<path d="M489.51 409.93 L487.01 414.68 L492.01 414.68 Z" fill="#F51414"/>
<path d="M498.34 418.63 L495.84 423.38 L500.84 423.38 Z" fill="#F51414"/>
<path d="M507.17 423.06 L504.67 427.81 L509.67 427.81 Z" fill="#F51414"/>
<path d="M516 424.96 L513.5 429.71 L518.5 429.71 Z" fill="#F51414"/>
<path d="M369.7 428.8 L371.84 418.31 L373.98 409.28 L376.12 400.83 L378.26 392.81 L380.4 385.15 L382.55 377.86 L384.69 370.92 L386.83 364.33 L388.97 358.1 L391.11 352.23 L393.25 346.73 L395.39 341.62 L397.53 336.89 L399.67 332.55 L401.81 328.62 L403.95 325.08 L406.1 321.96 L408.24 319.25 L410.38 316.96 L412.52 315.08 L414.66 313.61 L416.8 312.56 L418.94 311.93 L421.08 311.7 L423.22 311.79 L425.36 312.16 L427.5 312.84 L429.65 313.86 L431.79 315.23 L433.93 316.96 L436.07 319.04 L438.21 321.47 L440.35 324.22 L442.49 327.28 L444.63 330.63 L446.77 334.23 L448.91 338.07 L451.05 342.09 L453.2 346.28 L455.34 350.59 L457.48 354.98 L459.62 359.43 L461.76 363.88 L463.9 368.31 L466.04 372.69 L468.18 376.98 L470.32 381.15 L472.46 385.19 L474.6 389.06 L476.75 392.76 L478.89 396.26 L481.03 399.56 L483.17 402.65 L485.31 405.52 L487.45 408.18 L489.59 410.62 L491.73 412.85 L493.87 414.87 L496.01 416.69 L498.15 418.33 L500.3 419.79 L502.44 421.09 L504.58 422.23 L506.72 423.23 L508.86 424.1 L511 424.86 L513.14 425.51 L515.28 426.07 L517.42 426.54 L519.56 426.94 L521.7 427.28 L523.85 427.56 L525.99 427.8 L528.13 427.99 L530.27 428.16 L532.41 428.29 L534.55 428.39 L536.69 428.48 L538.83 428.55 L540.97 428.6 L543.11 428.65 L545.25 428.68 L547.4 428.71 L549.54 428.73 L551.68 428.75 L553.82 428.76 L555.96 428.77 L558.1 428.78 L560.24 428.78 L562.38 428.79 L564.52 428.79 L566.66 428.79 L568.8 428.8 L570.95 428.8 L573.09 428.8 L575.23 428.8 L577.37 428.8 L579.51 428.8 L581.65 428.8 L583.79 428.8 L585.93 428.8 L588.07 428.8 L590.21 428.8 L592.35 428.8 L594.5 428.8 L596.64 428.8 L598.78 428.8 L600.92 428.8 L603.06 428.8 L605.2 428.8" fill="none" stroke="#00008B" stroke-width="1.1" stroke-linejoin="round"/>
<rect x="374.08" y="399.96" width="3.6" height="3.6" fill="#00008B"/>
<rect x="385.42" y="361.37" width="3.6" height="3.6" fill="#00008B"/>
<rect x="396.75" y="332.98" width="3.6" height="3.6" fill="#00008B"/>
<rect x="408.08" y="315.65" width="3.6" height="3.6" fill="#00008B"/>
<rect x="419.42" y="309.9" width="3.6" height="3.6" fill="#00008B"/>
<rect x="430.75" y="314.01" width="3.6" height="3.6" fill="#00008B"/>
<rect x="442.08" y="327.62" width="3.6" height="3.6" fill="#00008B"/>
<rect x="453.42" y="348.54" width="3.6" height="3.6" fill="#00008B"/>
<rect x="464.75" y="371.92" width="3.6" height="3.6" fill="#00008B"/>
<rect x="476.08" y="392.85" width="3.6" height="3.6" fill="#00008B"/>
<rect x="487.42" y="408.41" width="3.6" height="3.6" fill="#00008B"/>
<rect x="498.75" y="418.15" width="3.6" height="3.6" fill="#00008B"/>
<rect x="510.08" y="423.34" width="3.6" height="3.6" fill="#00008B"/>
<rect x="521.42" y="425.69" width="3.6" height="3.6" fill="#00008B"/>
<path d="M369.7 428.8 L371.84 418.59 L373.98 409.82 L376.12 401.6 L378.26 393.8 L380.4 386.37 L382.55 379.3 L384.69 372.57 L386.83 366.2 L388.97 360.18 L391.11 354.52 L393.25 349.23 L395.39 344.32 L397.53 339.79 L399.67 335.66 L401.81 331.92 L403.95 328.59 L406.1 325.66 L408.24 323.14 L410.38 321.04 L412.52 319.34 L414.66 318.06 L416.8 317.19 L418.94 316.73 L421.08 316.65 L423.22 316.82 L425.36 317.26 L427.5 317.98 L429.65 319 L431.79 320.34 L433.93 321.99 L436.07 323.96 L438.21 326.22 L440.35 328.78 L442.49 331.61 L444.63 334.69 L446.77 338 L448.91 341.52 L451.05 345.21 L453.2 349.04 L455.34 352.99 L457.48 357.02 L459.62 361.1 L461.76 365.21 L463.9 369.3 L466.04 373.35 L468.18 377.34 L470.32 381.24 L472.46 385.02 L474.6 388.67 L476.75 392.17 L478.89 395.51 L481.03 398.68 L483.17 401.66 L485.31 404.45 L487.45 407.05 L489.59 409.46 L491.73 411.67 L493.87 413.7 L496.01 415.55 L498.15 417.23 L500.3 418.74 L502.44 420.09 L504.58 421.29 L506.72 422.36 L508.86 423.3 L511 424.13 L513.14 424.85 L515.28 425.47 L517.42 426.01 L519.56 426.48 L521.7 426.87 L523.85 427.21 L525.99 427.49 L528.13 427.73 L530.27 427.93 L532.41 428.09 L534.55 428.23 L536.69 428.34 L538.83 428.44 L540.97 428.51 L543.11 428.57 L545.25 428.62 L547.4 428.66 L549.54 428.69 L551.68 428.71 L553.82 428.73 L555.96 428.75 L558.1 428.76 L560.24 428.77 L562.38 428.78 L564.52 428.78 L566.66 428.79 L568.8 428.79 L570.95 428.79 L573.09 428.79 L575.23 428.8 L577.37 428.8 L579.51 428.8 L581.65 428.8 L583.79 428.8 L585.93 428.8 L588.07 428.8 L590.21 428.8 L592.35 428.8 L594.5 428.8 L596.64 428.8 L598.78 428.8 L600.92 428.8 L603.06 428.8 L605.2 428.8" fill="none" stroke="#00008B" stroke-width="1.1" stroke-linejoin="round"/>
<circle cx="375" cy="405.86" r="2" fill="#00008B"/>
<circle cx="386.33" cy="367.64" r="2" fill="#00008B"/>
<circle cx="397.67" cy="339.52" r="2" fill="#00008B"/>
<circle cx="409" cy="322.35" r="2" fill="#00008B"/>
<circle cx="420.33" cy="316.64" r="2" fill="#00008B"/>
<circle cx="431.67" cy="320.26" r="2" fill="#00008B"/>
<circle cx="443" cy="332.32" r="2" fill="#00008B"/>
<circle cx="454.33" cy="351.13" r="2" fill="#00008B"/>
<circle cx="465.67" cy="372.65" r="2" fill="#00008B"/>
<circle cx="477" cy="392.58" r="2" fill="#00008B"/>
<circle cx="488.33" cy="408.06" r="2" fill="#00008B"/>
<circle cx="499.67" cy="418.31" r="2" fill="#00008B"/>
<circle cx="511" cy="424.13" r="2" fill="#00008B"/>
<circle cx="522.33" cy="426.98" r="2" fill="#00008B"/>
<circle cx="533.67" cy="428.18" r="2" fill="#00008B"/>
<path d="M369.7 428.8 L371.84 423.87 L373.98 418.95 L376.12 414.05 L378.26 409.2 L380.4 404.4 L382.55 399.66 L384.69 395.01 L386.83 390.44 L388.97 385.98 L391.11 381.63 L393.25 377.41 L395.39 373.33 L397.53 369.4 L399.67 365.63 L401.81 362.03 L403.95 358.61 L406.1 355.37 L408.24 352.34 L410.38 349.51 L412.52 346.9 L414.66 344.51 L416.8 342.34 L418.94 340.41 L421.08 338.71 L423.22 337.26 L425.36 336.06 L427.5 335.1 L429.65 334.4 L431.79 333.95 L433.93 333.76 L436.07 333.78 L438.21 333.94 L440.35 334.26 L442.49 334.75 L444.63 335.43 L446.77 336.29 L448.91 337.35 L451.05 338.6 L453.2 340.03 L455.34 341.64 L457.48 343.44 L459.62 345.4 L461.76 347.52 L463.9 349.78 L466.04 352.18 L468.18 354.7 L470.32 357.33 L472.46 360.05 L474.6 362.85 L476.75 365.7 L478.89 368.6 L481.03 371.53 L483.17 374.47 L485.31 377.4 L487.45 380.32 L489.59 383.2 L491.73 386.04 L493.87 388.81 L496.01 391.52 L498.15 394.15 L500.3 396.69 L502.44 399.13 L504.58 401.48 L506.72 403.71 L508.86 405.83 L511 407.84 L513.14 409.73 L515.28 411.51 L517.42 413.17 L519.56 414.71 L521.7 416.14 L523.85 417.47 L525.99 418.69 L528.13 419.8 L530.27 420.82 L532.41 421.75 L534.55 422.59 L536.69 423.34 L538.83 424.02 L540.97 424.63 L543.11 425.18 L545.25 425.66 L547.4 426.09 L549.54 426.47 L551.68 426.8 L553.82 427.09 L555.96 427.34 L558.1 427.56 L560.24 427.75 L562.38 427.92 L564.52 428.06 L566.66 428.18 L568.8 428.28 L570.95 428.37 L573.09 428.44 L575.23 428.51 L577.37 428.56 L579.51 428.6 L581.65 428.64 L583.79 428.67 L585.93 428.69 L588.07 428.71 L590.21 428.73 L592.35 428.74 L594.5 428.76 L596.64 428.76 L598.78 428.77 L600.92 428.78 L603.06 428.78 L605.2 428.79" fill="none" stroke="#00008B" stroke-width="1.1" stroke-linejoin="round"/>
<path d="M377.8 407.38 L375.3 412.13 L380.3 412.13 Z" fill="#00008B"/>
<path d="M389.13 382.77 L386.63 387.52 L391.63 387.52 Z" fill="#00008B"/>
<path d="M400.46 361.4 L397.96 366.15 L402.96 366.15 Z" fill="#00008B"/>
<path d="M411.8 344.88 L409.3 349.63 L414.3 349.63 Z" fill="#00008B"/>
<path d="M423.13 334.44 L420.63 339.19 L425.63 339.19 Z" fill="#00008B"/>
<path d="M434.46 330.88 L431.96 335.62 L436.96 335.62 Z" fill="#00008B"/>
<path d="M445.8 333 L443.3 337.75 L448.3 337.75 Z" fill="#00008B"/>
<path d="M457.13 340.26 L454.63 345.01 L459.63 345.01 Z" fill="#00008B"/>
<path d="M468.46 352.17 L465.96 356.92 L470.96 356.92 Z" fill="#00008B"/>
<path d="M479.8 366.97 L477.3 371.72 L482.3 371.72 Z" fill="#00008B"/>
<path d="M491.13 382.37 L488.63 387.12 L493.63 387.12 Z" fill="#00008B"/>
<path d="M502.46 396.29 L499.96 401.04 L504.96 401.04 Z" fill="#00008B"/>
<path d="M513.8 407.41 L511.3 412.16 L516.3 412.16 Z" fill="#00008B"/>
<path d="M525.13 415.34 L522.63 420.09 L527.63 420.09 Z" fill="#00008B"/>
<path d="M536.46 420.39 L533.96 425.14 L538.96 425.14 Z" fill="#00008B"/>
<path d="M547.8 423.29 L545.3 428.04 L550.3 428.04 Z" fill="#00008B"/>
<path d="M559.13 424.78 L556.63 429.53 L561.63 429.53 Z" fill="#00008B"/>
<path d="M369.7 428.8 L371.84 420.89 L373.98 414.08 L376.12 407.69 L378.26 401.61 L380.4 395.79 L382.55 390.22 L384.69 384.9 L386.83 379.81 L388.97 374.97 L391.11 370.38 L393.25 366.04 L395.39 361.96 L397.53 358.14 L399.67 354.58 L401.81 351.3 L403.95 348.29 L406.1 345.56 L408.24 343.11 L410.38 340.94 L412.52 339.06 L414.66 337.46 L416.8 336.15 L418.94 335.12 L421.08 334.38 L423.22 333.93 L425.36 333.75 L427.5 333.8 L429.65 334 L431.79 334.38 L433.93 334.95 L436.07 335.74 L438.21 336.73 L440.35 337.93 L442.49 339.35 L444.63 340.96 L446.77 342.78 L448.91 344.79 L451.05 346.97 L453.2 349.32 L455.34 351.83 L457.48 354.47 L459.62 357.23 L461.76 360.09 L463.9 363.03 L466.04 366.05 L468.18 369.1 L470.32 372.19 L472.46 375.28 L474.6 378.36 L476.75 381.42 L478.89 384.44 L481.03 387.4 L483.17 390.28 L485.31 393.09 L487.45 395.8 L489.59 398.4 L491.73 400.9 L493.87 403.28 L496.01 405.53 L498.15 407.66 L500.3 409.66 L502.44 411.53 L504.58 413.27 L506.72 414.89 L508.86 416.38 L511 417.75 L513.14 419 L515.28 420.15 L517.42 421.18 L519.56 422.12 L521.7 422.96 L523.85 423.72 L525.99 424.39 L528.13 424.99 L530.27 425.52 L532.41 425.99 L534.55 426.4 L536.69 426.75 L538.83 427.06 L540.97 427.33 L543.11 427.57 L545.25 427.77 L547.4 427.94 L549.54 428.08 L551.68 428.2 L553.82 428.31 L555.96 428.39 L558.1 428.47 L560.24 428.53 L562.38 428.58 L564.52 428.62 L566.66 428.66 L568.8 428.68 L570.95 428.71 L573.09 428.73 L575.23 428.74 L577.37 428.75 L579.51 428.76 L581.65 428.77 L583.79 428.78 L585.93 428.78 L588.07 428.79 L590.21 428.79 L592.35 428.79 L594.5 428.79 L596.64 428.8 L598.78 428.8 L600.92 428.8 L603.06 428.8 L605.2 428.8" fill="none" stroke="#8C8C8C" stroke-width="1.1" stroke-linejoin="round"/>
<rect x="375.55" y="402.36" width="3.6" height="3.6" fill="#8C8C8C"/>
<rect x="387.62" y="372.18" width="3.6" height="3.6" fill="#8C8C8C"/>
<rect x="399.69" y="349.98" width="3.6" height="3.6" fill="#8C8C8C"/>
<rect x="411.76" y="336.44" width="3.6" height="3.6" fill="#8C8C8C"/>
<rect x="423.83" y="331.95" width="3.6" height="3.6" fill="#8C8C8C"/>
<rect x="435.9" y="334.67" width="3.6" height="3.6" fill="#8C8C8C"/>
<rect x="447.97" y="343.84" width="3.6" height="3.6" fill="#8C8C8C"/>
<rect x="460.04" y="358.4" width="3.6" height="3.6" fill="#8C8C8C"/>
<rect x="472.11" y="375.56" width="3.6" height="3.6" fill="#8C8C8C"/>
<rect x="484.18" y="392.15" width="3.6" height="3.6" fill="#8C8C8C"/>
<rect x="496.25" y="405.76" width="3.6" height="3.6" fill="#8C8C8C"/>
<rect x="508.32" y="415.4" width="3.6" height="3.6" fill="#8C8C8C"/>
<rect x="520.39" y="421.34" width="3.6" height="3.6" fill="#8C8C8C"/>
<rect x="532.46" y="424.54" width="3.6" height="3.6" fill="#8C8C8C"/>
<rect x="544.53" y="426.05" width="3.6" height="3.6" fill="#8C8C8C"/>
<path d="M369.7 428.8 L371.84 421.38 L373.98 414.99 L376.12 408.99 L378.26 403.28 L380.4 397.81 L382.55 392.57 L384.69 387.55 L386.83 382.76 L388.97 378.18 L391.11 373.83 L393.25 369.7 L395.39 365.81 L397.53 362.16 L399.67 358.75 L401.81 355.58 L403.95 352.66 L406.1 350 L408.24 347.59 L410.38 345.43 L412.52 343.54 L414.66 341.9 L416.8 340.53 L418.94 339.42 L421.08 338.56 L423.22 337.97 L425.36 337.64 L427.5 337.55 L429.65 337.64 L431.79 337.87 L433.93 338.28 L436.07 338.88 L438.21 339.67 L440.35 340.66 L442.49 341.85 L444.63 343.23 L446.77 344.8 L448.91 346.56 L451.05 348.49 L453.2 350.58 L455.34 352.83 L457.48 355.22 L459.62 357.74 L461.76 360.37 L463.9 363.09 L466.04 365.88 L468.18 368.74 L470.32 371.64 L472.46 374.56 L474.6 377.49 L476.75 380.41 L478.89 383.31 L481.03 386.17 L483.17 388.97 L485.31 391.71 L487.45 394.37 L489.59 396.95 L491.73 399.43 L493.87 401.8 L496.01 404.06 L498.15 406.21 L500.3 408.24 L502.44 410.15 L504.58 411.95 L506.72 413.62 L508.86 415.17 L511 416.6 L513.14 417.92 L515.28 419.14 L517.42 420.24 L519.56 421.25 L521.7 422.16 L523.85 422.98 L525.99 423.72 L528.13 424.38 L530.27 424.97 L532.41 425.49 L534.55 425.96 L536.69 426.36 L538.83 426.72 L540.97 427.03 L543.11 427.3 L545.25 427.53 L547.4 427.73 L549.54 427.9 L551.68 428.05 L553.82 428.18 L555.96 428.28 L558.1 428.37 L560.24 428.45 L562.38 428.51 L564.52 428.56 L566.66 428.61 L568.8 428.64 L570.95 428.67 L573.09 428.7 L575.23 428.72 L577.37 428.74 L579.51 428.75 L581.65 428.76 L583.79 428.77 L585.93 428.77 L588.07 428.78 L590.21 428.78 L592.35 428.79 L594.5 428.79 L596.64 428.79 L598.78 428.79 L600.92 428.8 L603.06 428.8 L605.2 428.8" fill="none" stroke="#8C8C8C" stroke-width="1.1" stroke-linejoin="round"/>
<circle cx="378.83" cy="401.82" r="2" fill="#8C8C8C"/>
<circle cx="390.89" cy="374.25" r="2" fill="#8C8C8C"/>
<circle cx="402.96" cy="353.98" r="2" fill="#8C8C8C"/>
<circle cx="415.03" cy="341.64" r="2" fill="#8C8C8C"/>
<circle cx="427.1" cy="337.55" r="2" fill="#8C8C8C"/>
<circle cx="439.17" cy="340.09" r="2" fill="#8C8C8C"/>
<circle cx="451.24" cy="348.66" r="2" fill="#8C8C8C"/>
<circle cx="463.31" cy="362.33" r="2" fill="#8C8C8C"/>
<circle cx="475.38" cy="378.55" r="2" fill="#8C8C8C"/>
<circle cx="487.45" cy="394.37" r="2" fill="#8C8C8C"/>
<circle cx="499.52" cy="407.52" r="2" fill="#8C8C8C"/>
<circle cx="511.59" cy="416.98" r="2" fill="#8C8C8C"/>
<circle cx="523.66" cy="422.92" r="2" fill="#8C8C8C"/>
<circle cx="535.73" cy="426.18" r="2" fill="#8C8C8C"/>
<circle cx="547.8" cy="427.76" r="2" fill="#8C8C8C"/>
<path d="M369.7 428.8 L371.84 425.55 L373.98 422.31 L376.12 419.08 L378.26 415.87 L380.4 412.69 L382.55 409.54 L384.69 406.43 L386.83 403.37 L388.97 400.35 L391.11 397.39 L393.25 394.5 L395.39 391.68 L397.53 388.93 L399.67 386.26 L401.81 383.68 L403.95 381.19 L406.1 378.79 L408.24 376.5 L410.38 374.31 L412.52 372.24 L414.66 370.27 L416.8 368.43 L418.94 366.71 L421.08 365.11 L423.22 363.64 L425.36 362.3 L427.5 361.1 L429.65 360.04 L431.79 359.11 L433.93 358.33 L436.07 357.68 L438.21 357.19 L440.35 356.83 L442.49 356.62 L444.63 356.56 L446.77 356.6 L448.91 356.71 L451.05 356.91 L453.2 357.22 L455.34 357.62 L457.48 358.13 L459.62 358.74 L461.76 359.46 L463.9 360.29 L466.04 361.22 L468.18 362.25 L470.32 363.38 L472.46 364.61 L474.6 365.93 L476.75 367.34 L478.89 368.83 L481.03 370.4 L483.17 372.03 L485.31 373.72 L487.45 375.47 L489.59 377.27 L491.73 379.1 L493.87 380.97 L496.01 382.86 L498.15 384.77 L500.3 386.69 L502.44 388.6 L504.58 390.51 L506.72 392.41 L508.86 394.29 L511 396.14 L513.14 397.95 L515.28 399.74 L517.42 401.47 L519.56 403.16 L521.7 404.8 L523.85 406.39 L525.99 407.92 L528.13 409.38 L530.27 410.79 L532.41 412.13 L534.55 413.41 L536.69 414.62 L538.83 415.76 L540.97 416.85 L543.11 417.86 L545.25 418.82 L547.4 419.71 L549.54 420.54 L551.68 421.32 L553.82 422.03 L555.96 422.7 L558.1 423.31 L560.24 423.87 L562.38 424.39 L564.52 424.86 L566.66 425.29 L568.8 425.68 L570.95 426.03 L573.09 426.35 L575.23 426.64 L577.37 426.9 L579.51 427.13 L581.65 427.34 L583.79 427.52 L585.93 427.69 L588.07 427.83 L590.21 427.96 L592.35 428.07 L594.5 428.17 L596.64 428.26 L598.78 428.34 L600.92 428.4 L603.06 428.46 L605.2 428.51" fill="none" stroke="#8C8C8C" stroke-width="1.1" stroke-linejoin="round"/>
<path d="M372.06 422.35 L369.56 427.1 L374.56 427.1 Z" fill="#8C8C8C"/>
<path d="M384.12 404.37 L381.62 409.12 L386.62 409.12 Z" fill="#8C8C8C"/>
<path d="M396.19 387.76 L393.69 392.51 L398.69 392.51 Z" fill="#8C8C8C"/>
<path d="M408.26 373.6 L405.76 378.35 L410.76 378.35 Z" fill="#8C8C8C"/>
<path d="M420.33 362.78 L417.83 367.53 L422.83 367.53 Z" fill="#8C8C8C"/>
<path d="M432.4 356 L429.9 360.75 L434.9 360.75 Z" fill="#8C8C8C"/>
<path d="M444.47 353.69 L441.97 358.44 L446.97 358.44 Z" fill="#8C8C8C"/>
<path d="M456.54 355.02 L454.04 359.77 L459.04 359.77 Z" fill="#8C8C8C"/>
<path d="M468.61 359.59 L466.11 364.34 L471.11 364.34 Z" fill="#8C8C8C"/>
<path d="M480.68 367.26 L478.18 372.01 L483.18 372.01 Z" fill="#8C8C8C"/>
<path d="M492.75 377.11 L490.25 381.86 L495.25 381.86 Z" fill="#8C8C8C"/>
<path d="M504.82 387.85 L502.32 392.6 L507.32 392.6 Z" fill="#8C8C8C"/>
<path d="M516.89 398.17 L514.39 402.92 L519.39 402.92 Z" fill="#8C8C8C"/>
<path d="M528.96 407.06 L526.46 411.81 L531.46 411.81 Z" fill="#8C8C8C"/>
<path d="M541.03 414 L538.53 418.75 L543.53 418.75 Z" fill="#8C8C8C"/>
<path d="M553.1 418.92 L550.6 423.67 L555.6 423.67 Z" fill="#8C8C8C"/>
<path d="M565.17 422.12 L562.67 426.87 L567.67 426.87 Z" fill="#8C8C8C"/>
<path d="M577.23 424.01 L574.73 428.76 L579.73 428.76 Z" fill="#8C8C8C"/>
<path d="M589.3 425.03 L586.8 429.78 L591.8 429.78 Z" fill="#8C8C8C"/>
<path d="M369.7 428.8 L371.84 422.87 L373.98 418.14 L376.12 413.82 L378.26 409.78 L380.4 405.96 L382.55 402.34 L384.69 398.91 L386.83 395.65 L388.97 392.56 L391.11 389.63 L393.25 386.87 L395.39 384.27 L397.53 381.83 L399.67 379.54 L401.81 377.42 L403.95 375.46 L406.1 373.66 L408.24 372.01 L410.38 370.53 L412.52 369.2 L414.66 368.03 L416.8 367.02 L418.94 366.17 L421.08 365.46 L423.22 364.91 L425.36 364.52 L427.5 364.27 L429.65 364.17 L431.79 364.18 L433.93 364.27 L436.07 364.44 L438.21 364.7 L440.35 365.05 L442.49 365.5 L444.63 366.06 L446.77 366.71 L448.91 367.46 L451.05 368.31 L453.2 369.25 L455.34 370.29 L457.48 371.42 L459.62 372.64 L461.76 373.94 L463.9 375.31 L466.04 376.75 L468.18 378.26 L470.32 379.82 L472.46 381.43 L474.6 383.09 L476.75 384.78 L478.89 386.49 L481.03 388.23 L483.17 389.98 L485.31 391.74 L487.45 393.49 L489.59 395.24 L491.73 396.97 L493.87 398.68 L496.01 400.36 L498.15 402.01 L500.3 403.62 L502.44 405.19 L504.58 406.72 L506.72 408.19 L508.86 409.61 L511 410.98 L513.14 412.28 L515.28 413.53 L517.42 414.72 L519.56 415.84 L521.7 416.91 L523.85 417.91 L525.99 418.86 L528.13 419.74 L530.27 420.57 L532.41 421.34 L534.55 422.05 L536.69 422.71 L538.83 423.32 L540.97 423.88 L543.11 424.4 L545.25 424.87 L547.4 425.3 L549.54 425.69 L551.68 426.04 L553.82 426.36 L555.96 426.65 L558.1 426.91 L560.24 427.14 L562.38 427.35 L564.52 427.54 L566.66 427.7 L568.8 427.85 L570.95 427.97 L573.09 428.09 L575.23 428.19 L577.37 428.27 L579.51 428.35 L581.65 428.41 L583.79 428.47 L585.93 428.52 L588.07 428.56 L590.21 428.6 L592.35 428.63 L594.5 428.66 L596.64 428.68 L598.78 428.7 L600.92 428.72 L603.06 428.73 L605.2 428.74" fill="none" stroke="#8A14FF" stroke-width="1.1" stroke-linejoin="round"/>
<rect x="372.9" y="414.84" width="3.6" height="3.6" fill="#8A14FF"/>
<rect x="386.74" y="391.37" width="3.6" height="3.6" fill="#8A14FF"/>
<rect x="400.58" y="375.09" width="3.6" height="3.6" fill="#8A14FF"/>
<rect x="414.41" y="365.48" width="3.6" height="3.6" fill="#8A14FF"/>
<rect x="428.25" y="362.37" width="3.6" height="3.6" fill="#8A14FF"/>
<rect x="442.08" y="364.05" width="3.6" height="3.6" fill="#8A14FF"/>
<rect x="455.92" y="369.76" width="3.6" height="3.6" fill="#8A14FF"/>
<rect x="469.75" y="378.94" width="3.6" height="3.6" fill="#8A14FF"/>
<rect x="483.59" y="390" width="3.6" height="3.6" fill="#8A14FF"/>
<rect x="497.42" y="401.02" width="3.6" height="3.6" fill="#8A14FF"/>
<rect x="511.26" y="410.43" width="3.6" height="3.6" fill="#8A14FF"/>
<rect x="525.1" y="417.44" width="3.6" height="3.6" fill="#8A14FF"/>
<rect x="538.93" y="422.02" width="3.6" height="3.6" fill="#8A14FF"/>
<rect x="552.77" y="424.67" width="3.6" height="3.6" fill="#8A14FF"/>
<rect x="566.6" y="426.02" width="3.6" height="3.6" fill="#8A14FF"/>
<path d="M369.7 428.8 L371.84 423.19 L373.98 418.72 L376.12 414.63 L378.26 410.81 L380.4 407.19 L382.55 403.77 L384.69 400.51 L386.83 397.41 L388.97 394.46 L391.11 391.67 L393.25 389.03 L395.39 386.54 L397.53 384.2 L399.67 382 L401.81 379.95 L403.95 378.05 L406.1 376.29 L408.24 374.68 L410.38 373.21 L412.52 371.9 L414.66 370.72 L416.8 369.69 L418.94 368.81 L421.08 368.07 L423.22 367.47 L425.36 367.01 L427.5 366.68 L429.65 366.5 L431.79 366.45 L433.93 366.48 L436.07 366.59 L438.21 366.77 L440.35 367.04 L442.49 367.41 L444.63 367.86 L446.77 368.41 L448.91 369.05 L451.05 369.79 L453.2 370.62 L455.34 371.54 L457.48 372.55 L459.62 373.64 L461.76 374.82 L463.9 376.06 L466.04 377.38 L468.18 378.77 L470.32 380.21 L472.46 381.71 L474.6 383.25 L476.75 384.83 L478.89 386.45 L481.03 388.09 L483.17 389.75 L485.31 391.42 L487.45 393.09 L489.59 394.77 L491.73 396.44 L493.87 398.09 L496.01 399.72 L498.15 401.33 L500.3 402.9 L502.44 404.44 L504.58 405.94 L506.72 407.4 L508.86 408.81 L511 410.17 L513.14 411.47 L515.28 412.73 L517.42 413.92 L519.56 415.06 L521.7 416.15 L523.85 417.17 L525.99 418.14 L528.13 419.05 L530.27 419.9 L532.41 420.7 L534.55 421.45 L536.69 422.14 L538.83 422.78 L540.97 423.38 L543.11 423.92 L545.25 424.43 L547.4 424.89 L549.54 425.31 L551.68 425.69 L553.82 426.04 L555.96 426.35 L558.1 426.64 L560.24 426.9 L562.38 427.13 L564.52 427.33 L566.66 427.52 L568.8 427.68 L570.95 427.83 L573.09 427.95 L575.23 428.07 L577.37 428.17 L579.51 428.26 L581.65 428.33 L583.79 428.4 L585.93 428.46 L588.07 428.51 L590.21 428.55 L592.35 428.59 L594.5 428.62 L596.64 428.65 L598.78 428.67 L600.92 428.69 L603.06 428.71 L605.2 428.73" fill="none" stroke="#8A14FF" stroke-width="1.1" stroke-linejoin="round"/>
<circle cx="376.18" cy="414.53" r="2" fill="#8A14FF"/>
<circle cx="390.01" cy="393.09" r="2" fill="#8A14FF"/>
<circle cx="403.85" cy="378.14" r="2" fill="#8A14FF"/>
<circle cx="417.68" cy="369.31" r="2" fill="#8A14FF"/>
<circle cx="431.52" cy="366.45" r="2" fill="#8A14FF"/>
<circle cx="445.35" cy="368.04" r="2" fill="#8A14FF"/>
<circle cx="459.19" cy="373.42" r="2" fill="#8A14FF"/>
<circle cx="473.03" cy="382.11" r="2" fill="#8A14FF"/>
<circle cx="486.86" cy="392.63" r="2" fill="#8A14FF"/>
<circle cx="500.7" cy="403.19" r="2" fill="#8A14FF"/>
<circle cx="514.53" cy="412.29" r="2" fill="#8A14FF"/>
<circle cx="528.37" cy="419.15" r="2" fill="#8A14FF"/>
<circle cx="542.2" cy="423.7" r="2" fill="#8A14FF"/>
<circle cx="556.04" cy="426.37" r="2" fill="#8A14FF"/>
<circle cx="569.88" cy="427.76" r="2" fill="#8A14FF"/>
<path d="M369.7 428.8 L371.84 426.42 L373.98 424.21 L376.12 422.07 L378.26 419.97 L380.4 417.92 L382.55 415.91 L384.69 413.93 L386.83 411.99 L388.97 410.09 L391.11 408.24 L393.25 406.42 L395.39 404.65 L397.53 402.93 L399.67 401.25 L401.81 399.62 L403.95 398.04 L406.1 396.51 L408.24 395.04 L410.38 393.62 L412.52 392.26 L414.66 390.96 L416.8 389.71 L418.94 388.53 L421.08 387.41 L423.22 386.35 L425.36 385.36 L427.5 384.43 L429.65 383.57 L431.79 382.77 L433.93 382.05 L436.07 381.39 L438.21 380.8 L440.35 380.28 L442.49 379.83 L444.63 379.45 L446.77 379.14 L448.91 378.9 L451.05 378.74 L453.2 378.64 L455.34 378.61 L457.48 378.64 L459.62 378.71 L461.76 378.83 L463.9 379.02 L466.04 379.27 L468.18 379.58 L470.32 379.96 L472.46 380.4 L474.6 380.9 L476.75 381.47 L478.89 382.11 L481.03 382.81 L483.17 383.57 L485.31 384.38 L487.45 385.25 L489.59 386.18 L491.73 387.15 L493.87 388.17 L496.01 389.24 L498.15 390.34 L500.3 391.47 L502.44 392.64 L504.58 393.83 L506.72 395.04 L508.86 396.27 L511 397.51 L513.14 398.75 L515.28 400.01 L517.42 401.26 L519.56 402.5 L521.7 403.74 L523.85 404.96 L525.99 406.17 L528.13 407.35 L530.27 408.52 L532.41 409.65 L534.55 410.76 L536.69 411.84 L538.83 412.89 L540.97 413.9 L543.11 414.87 L545.25 415.81 L547.4 416.7 L549.54 417.56 L551.68 418.38 L553.82 419.16 L555.96 419.9 L558.1 420.6 L560.24 421.26 L562.38 421.88 L564.52 422.46 L566.66 423.01 L568.8 423.52 L570.95 423.99 L573.09 424.43 L575.23 424.84 L577.37 425.22 L579.51 425.57 L581.65 425.89 L583.79 426.19 L585.93 426.46 L588.07 426.71 L590.21 426.93 L592.35 427.13 L594.5 427.32 L596.64 427.49 L598.78 427.64 L600.92 427.77 L603.06 427.9 L605.2 428.01" fill="none" stroke="#8A14FF" stroke-width="1.1" stroke-linejoin="round"/>
<path d="M372.06 423.32 L369.56 428.07 L374.56 428.07 Z" fill="#8A14FF"/>
<path d="M385.89 409.96 L383.39 414.71 L388.39 414.71 Z" fill="#8A14FF"/>
<path d="M399.73 398.33 L397.23 403.08 L402.23 403.08 Z" fill="#8A14FF"/>
<path d="M413.56 388.74 L411.06 393.49 L416.06 393.49 Z" fill="#8A14FF"/>
<path d="M427.4 381.6 L424.9 386.35 L429.9 386.35 Z" fill="#8A14FF"/>
<path d="M441.23 377.21 L438.73 381.96 L443.73 381.96 Z" fill="#8A14FF"/>
<path d="M455.07 375.74 L452.57 380.49 L457.57 380.49 Z" fill="#8A14FF"/>
<path d="M468.9 376.82 L466.4 381.57 L471.4 381.57 Z" fill="#8A14FF"/>
<path d="M482.74 380.53 L480.24 385.28 L485.24 385.28 Z" fill="#8A14FF"/>
<path d="M496.58 386.65 L494.08 391.4 L499.08 391.4 Z" fill="#8A14FF"/>
<path d="M510.41 394.29 L507.91 399.04 L512.91 399.04 Z" fill="#8A14FF"/>
<path d="M524.25 402.31 L521.75 407.06 L526.75 407.06 Z" fill="#8A14FF"/>
<path d="M538.08 409.65 L535.58 414.4 L540.58 414.4 Z" fill="#8A14FF"/>
<path d="M551.92 415.59 L549.42 420.34 L554.42 420.34 Z" fill="#8A14FF"/>
<path d="M565.75 419.9 L563.25 424.65 L568.25 424.65 Z" fill="#8A14FF"/>
<path d="M579.59 422.71 L577.09 427.46 L582.09 427.46 Z" fill="#8A14FF"/>
<path d="M593.42 424.35 L590.92 429.1 L595.92 429.1 Z" fill="#8A14FF"/>
<path d="M369.7 428.8 L371.84 423.36 L373.98 419.04 L376.12 415.09 L378.26 411.41 L380.4 407.94 L382.55 404.66 L384.69 401.57 L386.83 398.64 L388.97 395.88 L391.11 393.28 L393.25 390.84 L395.39 388.56 L397.53 386.45 L399.67 384.49 L401.81 382.69 L403.95 381.06 L406.1 379.58 L408.24 378.26 L410.38 377.1 L412.52 376.09 L414.66 375.24 L416.8 374.55 L418.94 374.01 L421.08 373.62 L423.22 373.38 L425.36 373.29 L427.5 373.32 L429.65 373.44 L431.79 373.67 L433.93 373.99 L436.07 374.43 L438.21 374.96 L440.35 375.6 L442.49 376.34 L444.63 377.18 L446.77 378.12 L448.91 379.14 L451.05 380.25 L453.2 381.44 L455.34 382.7 L457.48 384.03 L459.62 385.42 L461.76 386.86 L463.9 388.34 L466.04 389.86 L468.18 391.41 L470.32 392.98 L472.46 394.57 L474.6 396.16 L476.75 397.75 L478.89 399.33 L481.03 400.89 L483.17 402.44 L485.31 403.96 L487.45 405.45 L489.59 406.9 L491.73 408.31 L493.87 409.68 L496.01 410.99 L498.15 412.26 L500.3 413.48 L502.44 414.64 L504.58 415.74 L506.72 416.79 L508.86 417.78 L511 418.71 L513.14 419.59 L515.28 420.41 L517.42 421.18 L519.56 421.9 L521.7 422.56 L523.85 423.17 L525.99 423.74 L528.13 424.26 L530.27 424.74 L532.41 425.17 L534.55 425.57 L536.69 425.93 L538.83 426.26 L540.97 426.56 L543.11 426.82 L545.25 427.06 L547.4 427.28 L549.54 427.47 L551.68 427.64 L553.82 427.79 L555.96 427.92 L558.1 428.04 L560.24 428.14 L562.38 428.23 L564.52 428.31 L566.66 428.38 L568.8 428.44 L570.95 428.5 L573.09 428.54 L575.23 428.58 L577.37 428.62 L579.51 428.64 L581.65 428.67 L583.79 428.69 L585.93 428.71 L588.07 428.72 L590.21 428.74 L592.35 428.75 L594.5 428.76 L596.64 428.76 L598.78 428.77 L600.92 428.78 L603.06 428.78 L605.2 428.78" fill="none" stroke="#800000" stroke-width="1.1" stroke-linejoin="round"/>
<rect x="381.44" y="401.84" width="3.6" height="3.6" fill="#800000"/>
<rect x="395.57" y="384.8" width="3.6" height="3.6" fill="#800000"/>
<rect x="409.7" y="374.75" width="3.6" height="3.6" fill="#800000"/>
<rect x="423.83" y="371.49" width="3.6" height="3.6" fill="#800000"/>
<rect x="437.96" y="373.62" width="3.6" height="3.6" fill="#800000"/>
<rect x="452.09" y="380.04" width="3.6" height="3.6" fill="#800000"/>
<rect x="466.22" y="389.49" width="3.6" height="3.6" fill="#800000"/>
<rect x="480.35" y="399.91" width="3.6" height="3.6" fill="#800000"/>
<rect x="494.48" y="409.36" width="3.6" height="3.6" fill="#800000"/>
<rect x="508.61" y="416.66" width="3.6" height="3.6" fill="#800000"/>
<rect x="522.74" y="421.56" width="3.6" height="3.6" fill="#800000"/>
<rect x="536.87" y="424.44" width="3.6" height="3.6" fill="#800000"/>
<rect x="551" y="425.92" width="3.6" height="3.6" fill="#800000"/>
<path d="M369.7 428.8 L371.84 423.98 L373.98 420.13 L376.12 416.62 L378.26 413.33 L380.4 410.22 L382.55 407.28 L384.69 404.47 L386.83 401.81 L388.97 399.28 L391.11 396.88 L393.25 394.61 L395.39 392.47 L397.53 390.45 L399.67 388.56 L401.81 386.8 L403.95 385.16 L406.1 383.65 L408.24 382.27 L410.38 381.01 L412.52 379.88 L414.66 378.87 L416.8 377.98 L418.94 377.22 L421.08 376.58 L423.22 376.07 L425.36 375.67 L427.5 375.4 L429.65 375.24 L431.79 375.19 L433.93 375.24 L436.07 375.39 L438.21 375.63 L440.35 375.97 L442.49 376.41 L444.63 376.95 L446.77 377.59 L448.91 378.33 L451.05 379.17 L453.2 380.09 L455.34 381.1 L457.48 382.19 L459.62 383.36 L461.76 384.6 L463.9 385.89 L466.04 387.25 L468.18 388.65 L470.32 390.09 L472.46 391.57 L474.6 393.07 L476.75 394.59 L478.89 396.12 L481.03 397.66 L483.17 399.19 L485.31 400.72 L487.45 402.22 L489.59 403.71 L491.73 405.17 L493.87 406.6 L496.01 407.99 L498.15 409.35 L500.3 410.65 L502.44 411.91 L504.58 413.13 L506.72 414.29 L508.86 415.39 L511 416.45 L513.14 417.44 L515.28 418.39 L517.42 419.28 L519.56 420.11 L521.7 420.89 L523.85 421.62 L525.99 422.3 L528.13 422.93 L530.27 423.51 L532.41 424.04 L534.55 424.53 L536.69 424.99 L538.83 425.4 L540.97 425.77 L543.11 426.11 L545.25 426.42 L547.4 426.7 L549.54 426.95 L551.68 427.17 L553.82 427.38 L555.96 427.56 L558.1 427.71 L560.24 427.86 L562.38 427.98 L564.52 428.09 L566.66 428.19 L568.8 428.27 L570.95 428.35 L573.09 428.41 L575.23 428.47 L577.37 428.52 L579.51 428.56 L581.65 428.6 L583.79 428.63 L585.93 428.66 L588.07 428.68 L590.21 428.7 L592.35 428.72 L594.5 428.73 L596.64 428.74 L598.78 428.75 L600.92 428.76 L603.06 428.77 L605.2 428.77" fill="none" stroke="#800000" stroke-width="1.1" stroke-linejoin="round"/>
<circle cx="375" cy="418.43" r="2" fill="#800000"/>
<circle cx="389.13" cy="399.1" r="2" fill="#800000"/>
<circle cx="403.26" cy="385.68" r="2" fill="#800000"/>
<circle cx="417.39" cy="377.76" r="2" fill="#800000"/>
<circle cx="431.52" cy="375.19" r="2" fill="#800000"/>
<circle cx="445.65" cy="377.24" r="2" fill="#800000"/>
<circle cx="459.78" cy="383.45" r="2" fill="#800000"/>
<circle cx="473.91" cy="392.58" r="2" fill="#800000"/>
<circle cx="488.04" cy="402.64" r="2" fill="#800000"/>
<circle cx="502.17" cy="411.76" r="2" fill="#800000"/>
<circle cx="516.3" cy="418.82" r="2" fill="#800000"/>
<circle cx="530.43" cy="423.55" r="2" fill="#800000"/>
<circle cx="544.56" cy="426.32" r="2" fill="#800000"/>
<circle cx="558.69" cy="427.76" r="2" fill="#800000"/>
<path d="M369.7 428.8 L371.84 426.48 L373.98 424.33 L376.12 422.24 L378.26 420.21 L380.4 418.21 L382.55 416.26 L384.69 414.35 L386.83 412.49 L388.97 410.67 L391.11 408.89 L393.25 407.17 L395.39 405.49 L397.53 403.87 L399.67 402.3 L401.81 400.78 L403.95 399.33 L406.1 397.93 L408.24 396.6 L410.38 395.33 L412.52 394.13 L414.66 392.99 L416.8 391.92 L418.94 390.92 L421.08 389.99 L423.22 389.14 L425.36 388.35 L427.5 387.64 L429.65 387.01 L431.79 386.45 L433.93 385.97 L436.07 385.57 L438.21 385.24 L440.35 384.99 L442.49 384.81 L444.63 384.72 L446.77 384.7 L448.91 384.73 L451.05 384.83 L453.2 384.98 L455.34 385.19 L457.48 385.47 L459.62 385.8 L461.76 386.2 L463.9 386.66 L466.04 387.17 L468.18 387.75 L470.32 388.38 L472.46 389.06 L474.6 389.8 L476.75 390.58 L478.89 391.41 L481.03 392.28 L483.17 393.19 L485.31 394.13 L487.45 395.11 L489.59 396.11 L491.73 397.13 L493.87 398.18 L496.01 399.24 L498.15 400.32 L500.3 401.4 L502.44 402.48 L504.58 403.57 L506.72 404.66 L508.86 405.73 L511 406.8 L513.14 407.86 L515.28 408.9 L517.42 409.92 L519.56 410.92 L521.7 411.9 L523.85 412.85 L525.99 413.78 L528.13 414.67 L530.27 415.54 L532.41 416.38 L534.55 417.18 L536.69 417.96 L538.83 418.7 L540.97 419.4 L543.11 420.07 L545.25 420.71 L547.4 421.32 L549.54 421.89 L551.68 422.44 L553.82 422.94 L555.96 423.42 L558.1 423.87 L560.24 424.29 L562.38 424.68 L564.52 425.05 L566.66 425.39 L568.8 425.7 L570.95 425.99 L573.09 426.26 L575.23 426.51 L577.37 426.73 L579.51 426.94 L581.65 427.13 L583.79 427.3 L585.93 427.46 L588.07 427.6 L590.21 427.73 L592.35 427.85 L594.5 427.96 L596.64 428.05 L598.78 428.14 L600.92 428.22 L603.06 428.29 L605.2 428.35" fill="none" stroke="#800000" stroke-width="1.1" stroke-linejoin="round"/>
<path d="M375.59 419.89 L373.09 424.64 L378.09 424.64 Z" fill="#800000"/>
<path d="M389.72 407.17 L387.22 411.92 L392.22 411.92 Z" fill="#800000"/>
<path d="M403.85 396.52 L401.35 401.27 L406.35 401.27 Z" fill="#800000"/>
<path d="M417.98 388.49 L415.48 393.24 L420.48 393.24 Z" fill="#800000"/>
<path d="M432.11 383.5 L429.61 388.25 L434.61 388.25 Z" fill="#800000"/>
<path d="M446.24 381.82 L443.74 386.57 L448.74 386.57 Z" fill="#800000"/>
<path d="M460.37 383.06 L457.87 387.81 L462.87 387.81 Z" fill="#800000"/>
<path d="M474.5 386.88 L472 391.63 L477 391.63 Z" fill="#800000"/>
<path d="M488.63 392.78 L486.13 397.53 L491.13 397.53 Z" fill="#800000"/>
<path d="M502.76 399.77 L500.26 404.52 L505.26 404.52 Z" fill="#800000"/>
<path d="M516.89 406.79 L514.39 411.54 L519.39 411.54 Z" fill="#800000"/>
<path d="M531.02 412.96 L528.52 417.71 L533.52 417.71 Z" fill="#800000"/>
<path d="M545.15 417.81 L542.65 422.56 L547.65 422.56 Z" fill="#800000"/>
<path d="M559.28 421.23 L556.78 425.98 L561.78 425.98 Z" fill="#800000"/>
<path d="M573.41 423.42 L570.91 428.17 L575.91 428.17 Z" fill="#800000"/>
<path d="M587.54 424.7 L585.04 429.45 L590.04 429.45 Z" fill="#800000"/>
<path d="M601.67 425.37 L599.17 430.12 L604.17 430.12 Z" fill="#800000"/>
<path d="M369.7 428.8 L371.84 425.77 L373.98 423.35 L376.12 421.16 L378.26 419.12 L380.4 417.2 L382.55 415.4 L384.69 413.7 L386.83 412.1 L388.97 410.61 L391.11 409.22 L393.25 407.92 L395.39 406.72 L397.53 405.62 L399.67 404.62 L401.81 403.72 L403.95 402.91 L406.1 402.2 L408.24 401.59 L410.38 401.08 L412.52 400.66 L414.66 400.33 L416.8 400.1 L418.94 399.96 L421.08 399.9 L423.22 399.93 L425.36 400.01 L427.5 400.16 L429.65 400.38 L431.79 400.67 L433.93 401.02 L436.07 401.44 L438.21 401.93 L440.35 402.47 L442.49 403.08 L444.63 403.73 L446.77 404.44 L448.91 405.2 L451.05 405.99 L453.2 406.82 L455.34 407.68 L457.48 408.56 L459.62 409.47 L461.76 410.38 L463.9 411.3 L466.04 412.23 L468.18 413.15 L470.32 414.07 L472.46 414.97 L474.6 415.85 L476.75 416.72 L478.89 417.56 L481.03 418.37 L483.17 419.15 L485.31 419.91 L487.45 420.62 L489.59 421.31 L491.73 421.95 L493.87 422.56 L496.01 423.14 L498.15 423.67 L500.3 424.17 L502.44 424.64 L504.58 425.07 L506.72 425.46 L508.86 425.82 L511 426.16 L513.14 426.46 L515.28 426.73 L517.42 426.98 L519.56 427.2 L521.7 427.4 L523.85 427.58 L525.99 427.74 L528.13 427.88 L530.27 428.01 L532.41 428.12 L534.55 428.22 L536.69 428.3 L538.83 428.37 L540.97 428.44 L543.11 428.49 L545.25 428.54 L547.4 428.58 L549.54 428.62 L551.68 428.65 L553.82 428.67 L555.96 428.69 L558.1 428.71 L560.24 428.73 L562.38 428.74 L564.52 428.75 L566.66 428.76 L568.8 428.77 L570.95 428.77 L573.09 428.78 L575.23 428.78 L577.37 428.79 L579.51 428.79 L581.65 428.79 L583.79 428.79 L585.93 428.79 L588.07 428.8 L590.21 428.8 L592.35 428.8 L594.5 428.8 L596.64 428.8 L598.78 428.8 L600.92 428.8 L603.06 428.8 L605.2 428.8" fill="none" stroke="#FF82FA" stroke-width="1.1" stroke-linejoin="round"/>
<rect x="377.91" y="416.01" width="3.6" height="3.6" fill="#FF82FA"/>
<rect x="391.74" y="405.95" width="3.6" height="3.6" fill="#FF82FA"/>
<rect x="405.58" y="400.03" width="3.6" height="3.6" fill="#FF82FA"/>
<rect x="419.42" y="398.1" width="3.6" height="3.6" fill="#FF82FA"/>
<rect x="433.25" y="399.43" width="3.6" height="3.6" fill="#FF82FA"/>
<rect x="447.09" y="403.39" width="3.6" height="3.6" fill="#FF82FA"/>
<rect x="460.92" y="409" width="3.6" height="3.6" fill="#FF82FA"/>
<rect x="474.76" y="414.84" width="3.6" height="3.6" fill="#FF82FA"/>
<rect x="488.59" y="419.75" width="3.6" height="3.6" fill="#FF82FA"/>
<rect x="502.43" y="423.2" width="3.6" height="3.6" fill="#FF82FA"/>
<rect x="516.26" y="425.25" width="3.6" height="3.6" fill="#FF82FA"/>
<rect x="530.1" y="426.29" width="3.6" height="3.6" fill="#FF82FA"/>
<path d="M369.7 428.8 L371.84 425.92 L373.98 423.62 L376.12 421.53 L378.26 419.59 L380.4 417.76 L382.55 416.03 L384.69 414.41 L386.83 412.88 L388.97 411.44 L391.11 410.1 L393.25 408.85 L395.39 407.68 L397.53 406.61 L399.67 405.63 L401.81 404.73 L403.95 403.93 L406.1 403.22 L408.24 402.59 L410.38 402.06 L412.52 401.61 L414.66 401.25 L416.8 400.98 L418.94 400.79 L421.08 400.69 L423.22 400.67 L425.36 400.71 L427.5 400.81 L429.65 400.97 L431.79 401.2 L433.93 401.49 L436.07 401.84 L438.21 402.26 L440.35 402.74 L442.49 403.27 L444.63 403.87 L446.77 404.51 L448.91 405.2 L451.05 405.93 L453.2 406.7 L455.34 407.5 L457.48 408.33 L459.62 409.18 L461.76 410.05 L463.9 410.93 L466.04 411.81 L468.18 412.7 L470.32 413.59 L472.46 414.47 L474.6 415.33 L476.75 416.18 L478.89 417.01 L481.03 417.82 L483.17 418.61 L485.31 419.36 L487.45 420.09 L489.59 420.78 L491.73 421.44 L493.87 422.06 L496.01 422.65 L498.15 423.21 L500.3 423.73 L502.44 424.22 L504.58 424.67 L506.72 425.09 L508.86 425.47 L511 425.83 L513.14 426.15 L515.28 426.45 L517.42 426.72 L519.56 426.97 L521.7 427.19 L523.85 427.38 L525.99 427.56 L528.13 427.72 L530.27 427.86 L532.41 427.99 L534.55 428.1 L536.69 428.2 L538.83 428.28 L540.97 428.36 L543.11 428.42 L545.25 428.48 L547.4 428.53 L549.54 428.57 L551.68 428.61 L553.82 428.64 L555.96 428.66 L558.1 428.69 L560.24 428.71 L562.38 428.72 L564.52 428.74 L566.66 428.75 L568.8 428.76 L570.95 428.76 L573.09 428.77 L575.23 428.78 L577.37 428.78 L579.51 428.78 L581.65 428.79 L583.79 428.79 L585.93 428.79 L588.07 428.79 L590.21 428.79 L592.35 428.8 L594.5 428.8 L596.64 428.8 L598.78 428.8 L600.92 428.8 L603.06 428.8 L605.2 428.8" fill="none" stroke="#FF82FA" stroke-width="1.1" stroke-linejoin="round"/>
<circle cx="381.18" cy="417.12" r="2" fill="#FF82FA"/>
<circle cx="395.02" cy="407.88" r="2" fill="#FF82FA"/>
<circle cx="408.85" cy="402.43" r="2" fill="#FF82FA"/>
<circle cx="422.69" cy="400.67" r="2" fill="#FF82FA"/>
<circle cx="436.52" cy="401.93" r="2" fill="#FF82FA"/>
<circle cx="450.36" cy="405.68" r="2" fill="#FF82FA"/>
<circle cx="464.19" cy="411.05" r="2" fill="#FF82FA"/>
<circle cx="478.03" cy="416.68" r="2" fill="#FF82FA"/>
<circle cx="491.87" cy="421.48" r="2" fill="#FF82FA"/>
<circle cx="505.7" cy="424.89" r="2" fill="#FF82FA"/>
<circle cx="519.54" cy="426.96" r="2" fill="#FF82FA"/>
<circle cx="533.37" cy="428.04" r="2" fill="#FF82FA"/>
<path d="M369.7 428.8 L371.84 427.5 L373.98 426.29 L376.12 425.12 L378.26 423.98 L380.4 422.87 L382.55 421.78 L384.69 420.72 L386.83 419.7 L388.97 418.7 L391.11 417.73 L393.25 416.79 L395.39 415.89 L397.53 415.02 L399.67 414.19 L401.81 413.4 L403.95 412.64 L406.1 411.93 L408.24 411.26 L410.38 410.63 L412.52 410.05 L414.66 409.51 L416.8 409.02 L418.94 408.58 L421.08 408.18 L423.22 407.83 L425.36 407.53 L427.5 407.28 L429.65 407.07 L431.79 406.92 L433.93 406.81 L436.07 406.76 L438.21 406.75 L440.35 406.78 L442.49 406.84 L444.63 406.94 L446.77 407.08 L448.91 407.25 L451.05 407.46 L453.2 407.71 L455.34 408 L457.48 408.32 L459.62 408.68 L461.76 409.07 L463.9 409.49 L466.04 409.94 L468.18 410.42 L470.32 410.92 L472.46 411.44 L474.6 411.98 L476.75 412.54 L478.89 413.11 L481.03 413.7 L483.17 414.29 L485.31 414.89 L487.45 415.49 L489.59 416.1 L491.73 416.7 L493.87 417.3 L496.01 417.89 L498.15 418.47 L500.3 419.05 L502.44 419.61 L504.58 420.16 L506.72 420.69 L508.86 421.21 L511 421.71 L513.14 422.19 L515.28 422.66 L517.42 423.1 L519.56 423.52 L521.7 423.93 L523.85 424.31 L525.99 424.67 L528.13 425.01 L530.27 425.33 L532.41 425.63 L534.55 425.91 L536.69 426.18 L538.83 426.42 L540.97 426.65 L543.11 426.85 L545.25 427.05 L547.4 427.23 L549.54 427.39 L551.68 427.54 L553.82 427.67 L555.96 427.8 L558.1 427.91 L560.24 428.01 L562.38 428.1 L564.52 428.18 L566.66 428.26 L568.8 428.32 L570.95 428.38 L573.09 428.43 L575.23 428.48 L577.37 428.52 L579.51 428.56 L581.65 428.59 L583.79 428.62 L585.93 428.65 L588.07 428.67 L590.21 428.69 L592.35 428.7 L594.5 428.72 L596.64 428.73 L598.78 428.74 L600.92 428.75 L603.06 428.76 L605.2 428.76" fill="none" stroke="#FF82FA" stroke-width="1.1" stroke-linejoin="round"/>
<path d="M382.06 419.15 L379.56 423.9 L384.56 423.9 Z" fill="#FF82FA"/>
<path d="M395.9 412.8 L393.4 417.55 L398.4 417.55 Z" fill="#FF82FA"/>
<path d="M409.74 407.94 L407.24 412.69 L412.24 412.69 Z" fill="#FF82FA"/>
<path d="M423.57 404.9 L421.07 409.65 L426.07 409.65 Z" fill="#FF82FA"/>
<path d="M437.41 403.87 L434.91 408.62 L439.91 408.62 Z" fill="#FF82FA"/>
<path d="M451.24 404.61 L448.74 409.36 L453.74 409.36 Z" fill="#FF82FA"/>
<path d="M465.08 406.86 L462.58 411.61 L467.58 411.61 Z" fill="#FF82FA"/>
<path d="M478.91 410.24 L476.41 414.99 L481.41 414.99 Z" fill="#FF82FA"/>
<path d="M492.75 414.11 L490.25 418.86 L495.25 418.86 Z" fill="#FF82FA"/>
<path d="M506.58 417.79 L504.08 422.54 L509.08 422.54 Z" fill="#FF82FA"/>
<path d="M520.42 420.81 L517.92 425.56 L522.92 425.56 Z" fill="#FF82FA"/>
<path d="M534.26 423 L531.76 427.75 L536.76 427.75 Z" fill="#FF82FA"/>
<path d="M548.09 424.4 L545.59 429.15 L550.59 429.15 Z" fill="#FF82FA"/>
<path d="M561.93 425.21 L559.43 429.96 L564.43 429.96 Z" fill="#FF82FA"/>
<path d="M575.76 425.62 L573.26 430.37 L578.26 430.37 Z" fill="#FF82FA"/></g>
<text x="480.4" y="253.2" text-anchor="middle" class="lg2" font-style="italic">a</text>
<text x="509" y="253.2" text-anchor="middle" class="lg2">Fluid A</text>
<text x="547.9" y="253.2" text-anchor="middle" class="lg2">Fluid B</text>
<text x="587.4" y="253.2" text-anchor="middle" class="lg2">Fluid C</text>
<text x="481.3" y="265.5" text-anchor="middle" class="lg2">10</text>
<path d="M495.85 262 H518.85" stroke="#0A8A1E" stroke-width="1.1"/>
<rect x="505.46" y="260.11" width="3.78" height="3.78" fill="#0A8A1E"/>
<path d="M534.3 262 H557.3" stroke="#0A8A1E" stroke-width="1.1"/>
<circle cx="545.8" cy="262" r="2.1" fill="#0A8A1E"/>
<path d="M573.1 262 H596.1" stroke="#0A8A1E" stroke-width="1.1"/>
<path d="M584.6 258.98 L581.98 263.97 L587.23 263.97 Z" fill="#0A8A1E"/>
<text x="481.3" y="277.68" text-anchor="middle" class="lg2">8</text>
<path d="M495.85 274.18 H518.85" stroke="#FF8C14" stroke-width="1.1"/>
<rect x="505.46" y="272.29" width="3.78" height="3.78" fill="#FF8C14"/>
<path d="M534.3 274.18 H557.3" stroke="#FF8C14" stroke-width="1.1"/>
<circle cx="545.8" cy="274.18" r="2.1" fill="#FF8C14"/>
<path d="M573.1 274.18 H596.1" stroke="#FF8C14" stroke-width="1.1"/>
<path d="M584.6 271.16 L581.98 276.15 L587.23 276.15 Z" fill="#FF8C14"/>
<text x="481.3" y="289.86" text-anchor="middle" class="lg2">6</text>
<path d="M495.85 286.36 H518.85" stroke="#6E9BD8" stroke-width="1.1"/>
<rect x="505.46" y="284.47" width="3.78" height="3.78" fill="#6E9BD8"/>
<path d="M534.3 286.36 H557.3" stroke="#6E9BD8" stroke-width="1.1"/>
<circle cx="545.8" cy="286.36" r="2.1" fill="#6E9BD8"/>
<path d="M573.1 286.36 H596.1" stroke="#6E9BD8" stroke-width="1.1"/>
<path d="M584.6 283.34 L581.98 288.33 L587.23 288.33 Z" fill="#6E9BD8"/>
<text x="481.3" y="302.04" text-anchor="middle" class="lg2">4</text>
<path d="M495.85 298.54 H518.85" stroke="#F51414" stroke-width="1.1"/>
<rect x="505.46" y="296.65" width="3.78" height="3.78" fill="#F51414"/>
<path d="M534.3 298.54 H557.3" stroke="#F51414" stroke-width="1.1"/>
<circle cx="545.8" cy="298.54" r="2.1" fill="#F51414"/>
<path d="M573.1 298.54 H596.1" stroke="#F51414" stroke-width="1.1"/>
<path d="M584.6 295.52 L581.98 300.51 L587.23 300.51 Z" fill="#F51414"/>
<text x="481.3" y="314.22" text-anchor="middle" class="lg2">2</text>
<path d="M495.85 310.72 H518.85" stroke="#00008B" stroke-width="1.1"/>
<rect x="505.46" y="308.83" width="3.78" height="3.78" fill="#00008B"/>
<path d="M534.3 310.72 H557.3" stroke="#00008B" stroke-width="1.1"/>
<circle cx="545.8" cy="310.72" r="2.1" fill="#00008B"/>
<path d="M573.1 310.72 H596.1" stroke="#00008B" stroke-width="1.1"/>
<path d="M584.6 307.7 L581.98 312.69 L587.23 312.69 Z" fill="#00008B"/>
<text x="481.3" y="326.4" text-anchor="middle" class="lg2">1.5</text>
<path d="M495.85 322.9 H518.85" stroke="#8C8C8C" stroke-width="1.1"/>
<rect x="505.46" y="321.01" width="3.78" height="3.78" fill="#8C8C8C"/>
<path d="M534.3 322.9 H557.3" stroke="#8C8C8C" stroke-width="1.1"/>
<circle cx="545.8" cy="322.9" r="2.1" fill="#8C8C8C"/>
<path d="M573.1 322.9 H596.1" stroke="#8C8C8C" stroke-width="1.1"/>
<path d="M584.6 319.88 L581.98 324.87 L587.23 324.87 Z" fill="#8C8C8C"/>
<text x="481.3" y="338.58" text-anchor="middle" class="lg2">1</text>
<path d="M495.85 335.08 H518.85" stroke="#8A14FF" stroke-width="1.1"/>
<rect x="505.46" y="333.19" width="3.78" height="3.78" fill="#8A14FF"/>
<path d="M534.3 335.08 H557.3" stroke="#8A14FF" stroke-width="1.1"/>
<circle cx="545.8" cy="335.08" r="2.1" fill="#8A14FF"/>
<path d="M573.1 335.08 H596.1" stroke="#8A14FF" stroke-width="1.1"/>
<path d="M584.6 332.06 L581.98 337.05 L587.23 337.05 Z" fill="#8A14FF"/>
<text x="481.3" y="350.76" text-anchor="middle" class="lg2">0.7</text>
<path d="M495.85 347.26 H518.85" stroke="#800000" stroke-width="1.1"/>
<rect x="505.46" y="345.37" width="3.78" height="3.78" fill="#800000"/>
<path d="M534.3 347.26 H557.3" stroke="#800000" stroke-width="1.1"/>
<circle cx="545.8" cy="347.26" r="2.1" fill="#800000"/>
<path d="M573.1 347.26 H596.1" stroke="#800000" stroke-width="1.1"/>
<path d="M584.6 344.24 L581.98 349.23 L587.23 349.23 Z" fill="#800000"/>
<text x="481.3" y="362.94" text-anchor="middle" class="lg2">0.4</text>
<path d="M495.85 359.44 H518.85" stroke="#FF82FA" stroke-width="1.1"/>
<rect x="505.46" y="357.55" width="3.78" height="3.78" fill="#FF82FA"/>
<path d="M534.3 359.44 H557.3" stroke="#FF82FA" stroke-width="1.1"/>
<circle cx="545.8" cy="359.44" r="2.1" fill="#FF82FA"/>
<path d="M573.1 359.44 H596.1" stroke="#FF82FA" stroke-width="1.1"/>
<path d="M584.6 356.42 L581.98 361.41 L587.23 361.41 Z" fill="#FF82FA"/>
<text x="587" y="414.9" text-anchor="middle" class="pl">(d)</text>
<text x="493.4" y="457.6" text-anchor="middle" class="ax"><tspan font-style="italic">t</tspan>*</text>
<text transform="translate(333.9 338) rotate(-90)" text-anchor="middle" class="ax"><tspan font-style="italic">U</tspan><tspan font-size="5.8px" dy="3" font-style="italic">px</tspan><tspan dy="-5.2" dx="1.2" font-size="9.5px">*</tspan></text>
<path d="M70 661.5 v-3.7 M70 467 v3.7 M100.22 661.5 v-2 M100.22 467 v2 M130.45 661.5 v-3.7 M130.45 467 v3.7 M160.68 661.5 v-2 M160.68 467 v2 M190.9 661.5 v-3.7 M190.9 467 v3.7 M221.12 661.5 v-2 M221.12 467 v2 M251.35 661.5 v-3.7 M251.35 467 v3.7 M281.58 661.5 v-2 M281.58 467 v2 M311.8 661.5 v-3.7 M311.8 467 v3.7 M70 661.5 h3.7 M311.8 661.5 h-3.7 M70 637.19 h2 M311.8 637.19 h-2 M70 612.88 h3.7 M311.8 612.88 h-3.7 M70 588.56 h2 M311.8 588.56 h-2 M70 564.25 h3.7 M311.8 564.25 h-3.7 M70 539.94 h2 M311.8 539.94 h-2 M70 515.62 h3.7 M311.8 515.62 h-3.7 M70 491.31 h2 M311.8 491.31 h-2 M70 467 h3.7 M311.8 467 h-3.7" stroke="#000" stroke-width="1.1" fill="none"/>
<rect x="70" y="467" width="241.8" height="194.5" fill="none" stroke="#000" stroke-width="1.5"/>
<text x="70" y="675.8" text-anchor="middle" class="tk">0</text>
<text x="130.45" y="675.8" text-anchor="middle" class="tk">2</text>
<text x="190.9" y="675.8" text-anchor="middle" class="tk">4</text>
<text x="251.35" y="675.8" text-anchor="middle" class="tk">6</text>
<text x="311.8" y="675.8" text-anchor="middle" class="tk">8</text>
<text x="65.4" y="665.8" text-anchor="end" class="tk">0.0</text>
<text x="65.4" y="617.17" text-anchor="end" class="tk">0.1</text>
<text x="65.4" y="568.55" text-anchor="end" class="tk">0.2</text>
<text x="65.4" y="519.92" text-anchor="end" class="tk">0.3</text>
<text x="65.4" y="471.3" text-anchor="end" class="tk">0.4</text>
<g clip-path="url(#ce)"><path d="M70 661.5 L72.02 637.91 L74.03 614.74 L76.05 592.39 L78.06 571.25 L80.08 551.7 L82.09 534.07 L84.11 518.67 L86.12 505.79 L88.14 495.63 L90.15 488.39 L92.16 484.18 L94.18 483.06 L96.2 484.07 L98.21 487.3 L100.22 493.08 L102.24 501.43 L104.25 512.16 L106.27 524.86 L108.28 538.98 L110.3 553.9 L112.31 568.94 L114.33 583.5 L116.34 597.06 L118.36 609.22 L120.38 619.77 L122.39 628.61 L124.41 635.78 L126.42 641.42 L128.44 645.74 L130.45 648.96 L132.47 651.31 L134.48 653.01 L136.5 654.23 L138.51 655.11 L140.53 655.76 L142.54 656.25 L144.56 656.65 L146.57 656.99 L148.59 657.28 L150.6 657.55 L152.62 657.79 L154.63 658.02 L156.65 658.23 L158.66 658.43 L160.68 658.62 L162.69 658.79 L164.7 658.96 L166.72 659.12 L168.74 659.26 L170.75 659.4 L172.76 659.53 L174.78 659.65 L176.8 659.77 L178.81 659.87 L180.82 659.98 L182.84 660.07 L184.86 660.16 L186.87 660.24 L188.88 660.32 L190.9 660.4 L192.91 660.46 L194.93 660.53 L196.94 660.59 L198.96 660.65 L200.97 660.7 L202.99 660.75 L205.01 660.8 L207.02 660.84 L209.03 660.88 L211.05 660.92 L213.06 660.96 L215.08 660.99 L217.09 661.02 L219.11 661.05 L221.12 661.08 L223.14 661.11 L225.16 661.13 L227.17 661.15 L229.19 661.18 L231.2 661.2 L233.22 661.22 L235.23 661.23 L237.25 661.25 L239.26 661.27 L241.28 661.28 L243.29 661.29 L245.31 661.31 L247.32 661.32 L249.34 661.33 L251.35 661.34 L253.37 661.35 L255.38 661.36 L257.39 661.37 L259.41 661.38 L261.43 661.39 L263.44 661.39 L265.46 661.4 L267.47 661.41 L269.49 661.41 L271.5 661.42 L273.51 661.42 L275.53 661.43 L277.54 661.43 L279.56 661.44 L281.58 661.44 L283.59 661.44 L285.61 661.45 L287.62 661.45 L289.63 661.45 L291.65 661.46 L293.67 661.46 L295.68 661.46 L297.69 661.46 L299.71 661.47 L301.73 661.47 L303.74 661.47 L305.75 661.47 L307.77 661.47 L309.79 661.48 L311.8 661.48" fill="none" stroke="#0A8A1E" stroke-width="1.1" stroke-linejoin="round"/>
<rect x="72.13" y="614.08" width="3.6" height="3.6" fill="#0A8A1E"/>
<rect x="78.78" y="545.29" width="3.6" height="3.6" fill="#0A8A1E"/>
<rect x="85.43" y="498.05" width="3.6" height="3.6" fill="#0A8A1E"/>
<rect x="92.08" y="481.25" width="3.6" height="3.6" fill="#0A8A1E"/>
<rect x="98.73" y="492.37" width="3.6" height="3.6" fill="#0A8A1E"/>
<rect x="105.38" y="529.27" width="3.6" height="3.6" fill="#0A8A1E"/>
<rect x="112.03" y="578.13" width="3.6" height="3.6" fill="#0A8A1E"/>
<rect x="118.68" y="618.45" width="3.6" height="3.6" fill="#0A8A1E"/>
<rect x="125.33" y="641.27" width="3.6" height="3.6" fill="#0A8A1E"/>
<rect x="131.97" y="650.68" width="3.6" height="3.6" fill="#0A8A1E"/>
<rect x="138.62" y="653.93" width="3.6" height="3.6" fill="#0A8A1E"/>
<rect x="145.27" y="655.27" width="3.6" height="3.6" fill="#0A8A1E"/>
<rect x="151.92" y="656.12" width="3.6" height="3.6" fill="#0A8A1E"/>
<rect x="158.57" y="656.79" width="3.6" height="3.6" fill="#0A8A1E"/>
<rect x="165.22" y="657.34" width="3.6" height="3.6" fill="#0A8A1E"/>
<rect x="171.87" y="657.79" width="3.6" height="3.6" fill="#0A8A1E"/>
<rect x="178.52" y="658.15" width="3.6" height="3.6" fill="#0A8A1E"/>
<rect x="185.17" y="658.45" width="3.6" height="3.6" fill="#0A8A1E"/>
<rect x="191.82" y="658.69" width="3.6" height="3.6" fill="#0A8A1E"/>
<rect x="198.47" y="658.88" width="3.6" height="3.6" fill="#0A8A1E"/>
<rect x="205.12" y="659.04" width="3.6" height="3.6" fill="#0A8A1E"/>
<rect x="211.77" y="659.17" width="3.6" height="3.6" fill="#0A8A1E"/>
<rect x="218.42" y="659.27" width="3.6" height="3.6" fill="#0A8A1E"/>
<rect x="225.07" y="659.35" width="3.6" height="3.6" fill="#0A8A1E"/>
<rect x="231.72" y="659.42" width="3.6" height="3.6" fill="#0A8A1E"/>
<rect x="238.37" y="659.47" width="3.6" height="3.6" fill="#0A8A1E"/>
<rect x="245.02" y="659.52" width="3.6" height="3.6" fill="#0A8A1E"/>
<rect x="251.67" y="659.55" width="3.6" height="3.6" fill="#0A8A1E"/>
<rect x="258.32" y="659.58" width="3.6" height="3.6" fill="#0A8A1E"/>
<path d="M70 661.5 L72.02 639.1 L74.03 617.07 L76.05 595.81 L78.06 575.68 L80.08 557.01 L82.09 540.13 L84.11 525.32 L86.12 512.85 L88.14 502.92 L90.15 495.7 L92.16 491.32 L94.18 489.85 L96.2 490.55 L98.21 493.22 L100.22 498.25 L102.24 505.7 L104.25 515.43 L106.27 527.1 L108.28 540.23 L110.3 554.25 L112.31 568.56 L114.33 582.56 L116.34 595.75 L118.36 607.74 L120.38 618.26 L122.39 627.2 L124.41 634.55 L126.42 640.41 L128.44 644.96 L130.45 648.4 L132.47 650.95 L134.48 652.8 L136.5 654.13 L138.51 655.09 L140.53 655.8 L142.54 656.33 L144.56 656.75 L146.57 657.1 L148.59 657.39 L150.6 657.66 L152.62 657.9 L154.63 658.12 L156.65 658.32 L158.66 658.52 L160.68 658.7 L162.69 658.87 L164.7 659.03 L166.72 659.18 L168.74 659.33 L170.75 659.46 L172.76 659.59 L174.78 659.71 L176.8 659.82 L178.81 659.92 L180.82 660.02 L182.84 660.11 L184.86 660.2 L186.87 660.28 L188.88 660.36 L190.9 660.43 L192.91 660.49 L194.93 660.56 L196.94 660.62 L198.96 660.67 L200.97 660.72 L202.99 660.77 L205.01 660.82 L207.02 660.86 L209.03 660.9 L211.05 660.94 L213.06 660.97 L215.08 661.01 L217.09 661.04 L219.11 661.07 L221.12 661.09 L223.14 661.12 L225.16 661.14 L227.17 661.16 L229.19 661.19 L231.2 661.21 L233.22 661.22 L235.23 661.24 L237.25 661.26 L239.26 661.27 L241.28 661.29 L243.29 661.3 L245.31 661.31 L247.32 661.32 L249.34 661.34 L251.35 661.35 L253.37 661.36 L255.38 661.36 L257.39 661.37 L259.41 661.38 L261.43 661.39 L263.44 661.4 L265.46 661.4 L267.47 661.41 L269.49 661.41 L271.5 661.42 L273.51 661.42 L275.53 661.43 L277.54 661.43 L279.56 661.44 L281.58 661.44 L283.59 661.45 L285.61 661.45 L287.62 661.45 L289.63 661.45 L291.65 661.46 L293.67 661.46 L295.68 661.46 L297.69 661.47 L299.71 661.47 L301.73 661.47 L303.74 661.47 L305.75 661.47 L307.77 661.47 L309.79 661.48 L311.8 661.48" fill="none" stroke="#0A8A1E" stroke-width="1.1" stroke-linejoin="round"/>
<circle cx="74.23" cy="614.91" r="2" fill="#0A8A1E"/>
<circle cx="80.88" cy="550.02" r="2" fill="#0A8A1E"/>
<circle cx="87.53" cy="505.62" r="2" fill="#0A8A1E"/>
<circle cx="94.18" cy="489.85" r="2" fill="#0A8A1E"/>
<circle cx="100.83" cy="500.23" r="2" fill="#0A8A1E"/>
<circle cx="107.48" cy="534.84" r="2" fill="#0A8A1E"/>
<circle cx="114.13" cy="581.19" r="2" fill="#0A8A1E"/>
<circle cx="120.78" cy="620.18" r="2" fill="#0A8A1E"/>
<circle cx="127.43" cy="642.84" r="2" fill="#0A8A1E"/>
<circle cx="134.08" cy="652.47" r="2" fill="#0A8A1E"/>
<circle cx="140.73" cy="655.86" r="2" fill="#0A8A1E"/>
<circle cx="147.38" cy="657.22" r="2" fill="#0A8A1E"/>
<circle cx="154.03" cy="658.05" r="2" fill="#0A8A1E"/>
<circle cx="160.68" cy="658.7" r="2" fill="#0A8A1E"/>
<circle cx="167.32" cy="659.23" r="2" fill="#0A8A1E"/>
<circle cx="173.97" cy="659.66" r="2" fill="#0A8A1E"/>
<circle cx="180.62" cy="660.01" r="2" fill="#0A8A1E"/>
<circle cx="187.27" cy="660.29" r="2" fill="#0A8A1E"/>
<circle cx="193.92" cy="660.53" r="2" fill="#0A8A1E"/>
<circle cx="200.57" cy="660.71" r="2" fill="#0A8A1E"/>
<circle cx="207.22" cy="660.86" r="2" fill="#0A8A1E"/>
<circle cx="213.87" cy="660.99" r="2" fill="#0A8A1E"/>
<circle cx="220.52" cy="661.08" r="2" fill="#0A8A1E"/>
<circle cx="227.17" cy="661.16" r="2" fill="#0A8A1E"/>
<circle cx="233.82" cy="661.23" r="2" fill="#0A8A1E"/>
<circle cx="240.47" cy="661.28" r="2" fill="#0A8A1E"/>
<circle cx="247.12" cy="661.32" r="2" fill="#0A8A1E"/>
<circle cx="253.77" cy="661.36" r="2" fill="#0A8A1E"/>
<circle cx="260.42" cy="661.38" r="2" fill="#0A8A1E"/>
<path d="M70 661.5 L72.02 645.29 L74.03 629.28 L76.05 613.66 L78.06 598.62 L80.08 584.35 L82.09 571.01 L84.11 558.76 L86.12 547.77 L88.14 538.16 L90.15 530.04 L92.16 523.52 L94.18 518.67 L96.2 515.56 L98.21 514.22 L100.22 514.39 L102.24 515.72 L104.25 518.49 L106.27 522.82 L108.28 528.7 L110.3 536.03 L112.31 544.62 L114.33 554.2 L116.34 564.46 L118.36 575.06 L120.38 585.67 L122.39 595.97 L124.41 605.7 L126.42 614.64 L128.44 622.64 L130.45 629.64 L132.47 635.6 L134.48 640.58 L136.5 644.63 L138.51 647.87 L140.53 650.42 L142.54 652.38 L144.56 653.88 L146.57 655.02 L148.59 655.88 L150.6 656.54 L152.62 657.05 L154.63 657.45 L156.65 657.78 L158.66 658.05 L160.68 658.29 L162.69 658.5 L164.7 658.7 L166.72 658.87 L168.74 659.04 L170.75 659.19 L172.76 659.33 L174.78 659.47 L176.8 659.59 L178.81 659.71 L180.82 659.82 L182.84 659.93 L184.86 660.02 L186.87 660.12 L188.88 660.2 L190.9 660.28 L192.91 660.36 L194.93 660.43 L196.94 660.5 L198.96 660.56 L200.97 660.62 L202.99 660.67 L205.01 660.73 L207.02 660.77 L209.03 660.82 L211.05 660.86 L213.06 660.9 L215.08 660.94 L217.09 660.97 L219.11 661.01 L221.12 661.04 L223.14 661.07 L225.16 661.09 L227.17 661.12 L229.19 661.14 L231.2 661.17 L233.22 661.19 L235.23 661.21 L237.25 661.22 L239.26 661.24 L241.28 661.26 L243.29 661.27 L245.31 661.29 L247.32 661.3 L249.34 661.31 L251.35 661.32 L253.37 661.34 L255.38 661.35 L257.39 661.36 L259.41 661.36 L261.43 661.37 L263.44 661.38 L265.46 661.39 L267.47 661.4 L269.49 661.4 L271.5 661.41 L273.51 661.41 L275.53 661.42 L277.54 661.42 L279.56 661.43 L281.58 661.43 L283.59 661.44 L285.61 661.44 L287.62 661.45 L289.63 661.45 L291.65 661.45 L293.67 661.46 L295.68 661.46 L297.69 661.46 L299.71 661.46 L301.73 661.47 L303.74 661.47 L305.75 661.47 L307.77 661.47 L309.79 661.47 L311.8 661.47" fill="none" stroke="#0A8A1E" stroke-width="1.1" stroke-linejoin="round"/>
<path d="M72.12 641.61 L69.62 646.36 L74.62 646.36 Z" fill="#0A8A1E"/>
<path d="M78.77 590.65 L76.27 595.4 L81.27 595.4 Z" fill="#0A8A1E"/>
<path d="M85.41 548.59 L82.91 553.34 L87.91 553.34 Z" fill="#0A8A1E"/>
<path d="M92.06 520.93 L89.56 525.68 L94.56 525.68 Z" fill="#0A8A1E"/>
<path d="M98.71 511.29 L96.21 516.04 L101.21 516.04 Z" fill="#0A8A1E"/>
<path d="M105.36 517.8 L102.86 522.55 L107.86 522.55 Z" fill="#0A8A1E"/>
<path d="M112.01 540.39 L109.51 545.14 L114.51 545.14 Z" fill="#0A8A1E"/>
<path d="M118.66 573.79 L116.16 578.54 L121.16 578.54 Z" fill="#0A8A1E"/>
<path d="M125.31 606.95 L122.81 611.7 L127.81 611.7 Z" fill="#0A8A1E"/>
<path d="M131.96 631.33 L129.46 636.08 L134.46 636.08 Z" fill="#0A8A1E"/>
<path d="M138.61 645.14 L136.11 649.89 L141.11 649.89 Z" fill="#0A8A1E"/>
<path d="M145.26 651.44 L142.76 656.19 L147.76 656.19 Z" fill="#0A8A1E"/>
<path d="M151.91 654.01 L149.41 658.76 L154.41 658.76 Z" fill="#0A8A1E"/>
<path d="M158.56 655.17 L156.06 659.92 L161.06 659.92 Z" fill="#0A8A1E"/>
<path d="M165.21 655.87 L162.71 660.62 L167.71 660.62 Z" fill="#0A8A1E"/>
<path d="M171.86 656.39 L169.36 661.14 L174.36 661.14 Z" fill="#0A8A1E"/>
<path d="M178.51 656.82 L176.01 661.57 L181.01 661.57 Z" fill="#0A8A1E"/>
<path d="M185.16 657.16 L182.66 661.91 L187.66 661.91 Z" fill="#0A8A1E"/>
<path d="M191.81 657.44 L189.31 662.19 L194.31 662.19 Z" fill="#0A8A1E"/>
<path d="M198.46 657.67 L195.96 662.42 L200.96 662.42 Z" fill="#0A8A1E"/>
<path d="M205.11 657.85 L202.61 662.6 L207.61 662.6 Z" fill="#0A8A1E"/>
<path d="M211.76 658 L209.26 662.75 L214.26 662.75 Z" fill="#0A8A1E"/>
<path d="M218.4 658.12 L215.9 662.87 L220.9 662.87 Z" fill="#0A8A1E"/>
<path d="M225.05 658.22 L222.55 662.97 L227.55 662.97 Z" fill="#0A8A1E"/>
<path d="M231.7 658.3 L229.2 663.05 L234.2 663.05 Z" fill="#0A8A1E"/>
<path d="M238.35 658.36 L235.85 663.11 L240.85 663.11 Z" fill="#0A8A1E"/>
<path d="M245 658.41 L242.5 663.16 L247.5 663.16 Z" fill="#0A8A1E"/>
<path d="M251.65 658.45 L249.15 663.2 L254.15 663.2 Z" fill="#0A8A1E"/>
<path d="M258.3 658.49 L255.8 663.24 L260.8 663.24 Z" fill="#0A8A1E"/>
<path d="M264.95 658.51 L262.45 663.26 L267.45 663.26 Z" fill="#0A8A1E"/>
<path d="M70 661.5 L72.02 639.48 L74.03 617.83 L76.05 596.93 L78.06 577.14 L80.08 558.78 L82.09 542.19 L84.11 527.64 L86.12 515.38 L88.14 505.61 L90.15 498.52 L92.16 494.21 L94.18 492.77 L96.2 493.41 L98.21 495.85 L100.22 500.44 L102.24 507.27 L104.25 516.2 L106.27 526.97 L108.28 539.15 L110.3 552.26 L112.31 565.75 L114.33 579.1 L116.34 591.83 L118.36 603.56 L120.38 614.02 L122.39 623.05 L124.41 630.64 L126.42 636.81 L128.44 641.72 L130.45 645.52 L132.47 648.41 L134.48 650.57 L136.5 652.17 L138.51 653.35 L140.53 654.24 L142.54 654.93 L144.56 655.47 L146.57 655.92 L148.59 656.3 L150.6 656.64 L152.62 656.94 L154.63 657.22 L156.65 657.48 L158.66 657.73 L160.68 657.96 L162.69 658.18 L164.7 658.38 L166.72 658.57 L168.74 658.75 L170.75 658.92 L172.76 659.08 L174.78 659.23 L176.8 659.37 L178.81 659.5 L180.82 659.63 L182.84 659.75 L184.86 659.85 L186.87 659.96 L188.88 660.05 L190.9 660.14 L192.91 660.23 L194.93 660.31 L196.94 660.38 L198.96 660.45 L200.97 660.52 L202.99 660.58 L205.01 660.64 L207.02 660.69 L209.03 660.74 L211.05 660.79 L213.06 660.83 L215.08 660.88 L217.09 660.91 L219.11 660.95 L221.12 660.99 L223.14 661.02 L225.16 661.05 L227.17 661.08 L229.19 661.1 L231.2 661.13 L233.22 661.15 L235.23 661.17 L237.25 661.19 L239.26 661.21 L241.28 661.23 L243.29 661.25 L245.31 661.26 L247.32 661.28 L249.34 661.29 L251.35 661.31 L253.37 661.32 L255.38 661.33 L257.39 661.34 L259.41 661.35 L261.43 661.36 L263.44 661.37 L265.46 661.38 L267.47 661.38 L269.49 661.39 L271.5 661.4 L273.51 661.4 L275.53 661.41 L277.54 661.42 L279.56 661.42 L281.58 661.43 L283.59 661.43 L285.61 661.44 L287.62 661.44 L289.63 661.44 L291.65 661.45 L293.67 661.45 L295.68 661.45 L297.69 661.46 L299.71 661.46 L301.73 661.46 L303.74 661.46 L305.75 661.47 L307.77 661.47 L309.79 661.47 L311.8 661.47" fill="none" stroke="#FF8C14" stroke-width="1.1" stroke-linejoin="round"/>
<rect x="72.43" y="613.9" width="3.6" height="3.6" fill="#FF8C14"/>
<rect x="79.08" y="550.12" width="3.6" height="3.6" fill="#FF8C14"/>
<rect x="85.73" y="506.47" width="3.6" height="3.6" fill="#FF8C14"/>
<rect x="92.38" y="490.97" width="3.6" height="3.6" fill="#FF8C14"/>
<rect x="99.03" y="500.46" width="3.6" height="3.6" fill="#FF8C14"/>
<rect x="105.68" y="532.34" width="3.6" height="3.6" fill="#FF8C14"/>
<rect x="112.33" y="575.99" width="3.6" height="3.6" fill="#FF8C14"/>
<rect x="118.98" y="614.14" width="3.6" height="3.6" fill="#FF8C14"/>
<rect x="125.63" y="637.62" width="3.6" height="3.6" fill="#FF8C14"/>
<rect x="132.28" y="648.39" width="3.6" height="3.6" fill="#FF8C14"/>
<rect x="138.93" y="652.52" width="3.6" height="3.6" fill="#FF8C14"/>
<rect x="145.58" y="654.27" width="3.6" height="3.6" fill="#FF8C14"/>
<rect x="152.23" y="655.34" width="3.6" height="3.6" fill="#FF8C14"/>
<rect x="158.88" y="656.16" width="3.6" height="3.6" fill="#FF8C14"/>
<rect x="165.52" y="656.83" width="3.6" height="3.6" fill="#FF8C14"/>
<rect x="172.17" y="657.37" width="3.6" height="3.6" fill="#FF8C14"/>
<rect x="178.82" y="657.82" width="3.6" height="3.6" fill="#FF8C14"/>
<rect x="185.47" y="658.18" width="3.6" height="3.6" fill="#FF8C14"/>
<rect x="192.12" y="658.47" width="3.6" height="3.6" fill="#FF8C14"/>
<rect x="198.77" y="658.71" width="3.6" height="3.6" fill="#FF8C14"/>
<rect x="205.42" y="658.9" width="3.6" height="3.6" fill="#FF8C14"/>
<rect x="212.07" y="659.05" width="3.6" height="3.6" fill="#FF8C14"/>
<rect x="218.72" y="659.18" width="3.6" height="3.6" fill="#FF8C14"/>
<rect x="225.37" y="659.28" width="3.6" height="3.6" fill="#FF8C14"/>
<rect x="232.02" y="659.36" width="3.6" height="3.6" fill="#FF8C14"/>
<rect x="238.67" y="659.42" width="3.6" height="3.6" fill="#FF8C14"/>
<rect x="245.32" y="659.48" width="3.6" height="3.6" fill="#FF8C14"/>
<rect x="251.97" y="659.52" width="3.6" height="3.6" fill="#FF8C14"/>
<rect x="258.62" y="659.55" width="3.6" height="3.6" fill="#FF8C14"/>
<path d="M70 661.5 L72.02 640.57 L74.03 619.98 L76.05 600.06 L78.06 581.15 L80.08 563.54 L82.09 547.53 L84.11 533.38 L86.12 521.31 L88.14 511.53 L90.15 504.19 L92.16 499.41 L94.18 497.27 L96.2 497.41 L98.21 499.16 L100.22 502.88 L102.24 508.71 L104.25 516.61 L106.27 526.35 L108.28 537.6 L110.3 549.92 L112.31 562.81 L114.33 575.76 L116.34 588.31 L118.36 600.06 L120.38 610.71 L122.39 620.07 L124.41 628.04 L126.42 634.65 L128.44 639.98 L130.45 644.18 L132.47 647.41 L134.48 649.86 L136.5 651.68 L138.51 653.04 L140.53 654.05 L142.54 654.82 L144.56 655.42 L146.57 655.9 L148.59 656.31 L150.6 656.65 L152.62 656.97 L154.63 657.25 L156.65 657.51 L158.66 657.76 L160.68 657.99 L162.69 658.2 L164.7 658.4 L166.72 658.59 L168.74 658.77 L170.75 658.94 L172.76 659.1 L174.78 659.25 L176.8 659.39 L178.81 659.52 L180.82 659.64 L182.84 659.76 L184.86 659.87 L186.87 659.97 L188.88 660.06 L190.9 660.15 L192.91 660.24 L194.93 660.32 L196.94 660.39 L198.96 660.46 L200.97 660.52 L202.99 660.59 L205.01 660.64 L207.02 660.7 L209.03 660.75 L211.05 660.79 L213.06 660.84 L215.08 660.88 L217.09 660.92 L219.11 660.95 L221.12 660.99 L223.14 661.02 L225.16 661.05 L227.17 661.08 L229.19 661.11 L231.2 661.13 L233.22 661.15 L235.23 661.18 L237.25 661.2 L239.26 661.21 L241.28 661.23 L243.29 661.25 L245.31 661.26 L247.32 661.28 L249.34 661.29 L251.35 661.31 L253.37 661.32 L255.38 661.33 L257.39 661.34 L259.41 661.35 L261.43 661.36 L263.44 661.37 L265.46 661.38 L267.47 661.38 L269.49 661.39 L271.5 661.4 L273.51 661.41 L275.53 661.41 L277.54 661.42 L279.56 661.42 L281.58 661.43 L283.59 661.43 L285.61 661.44 L287.62 661.44 L289.63 661.44 L291.65 661.45 L293.67 661.45 L295.68 661.45 L297.69 661.46 L299.71 661.46 L301.73 661.46 L303.74 661.46 L305.75 661.47 L307.77 661.47 L309.79 661.47 L311.8 661.47" fill="none" stroke="#FF8C14" stroke-width="1.1" stroke-linejoin="round"/>
<circle cx="74.84" cy="611.91" r="2" fill="#FF8C14"/>
<circle cx="81.49" cy="552.15" r="2" fill="#FF8C14"/>
<circle cx="88.14" cy="511.53" r="2" fill="#FF8C14"/>
<circle cx="94.78" cy="497.15" r="2" fill="#FF8C14"/>
<circle cx="101.43" cy="506.13" r="2" fill="#FF8C14"/>
<circle cx="108.08" cy="536.42" r="2" fill="#FF8C14"/>
<circle cx="114.73" cy="578.32" r="2" fill="#FF8C14"/>
<circle cx="121.38" cy="615.56" r="2" fill="#FF8C14"/>
<circle cx="128.03" cy="639.01" r="2" fill="#FF8C14"/>
<circle cx="134.68" cy="650.07" r="2" fill="#FF8C14"/>
<circle cx="141.33" cy="654.39" r="2" fill="#FF8C14"/>
<circle cx="147.98" cy="656.19" r="2" fill="#FF8C14"/>
<circle cx="154.63" cy="657.25" r="2" fill="#FF8C14"/>
<circle cx="161.28" cy="658.05" r="2" fill="#FF8C14"/>
<circle cx="167.93" cy="658.7" r="2" fill="#FF8C14"/>
<circle cx="174.58" cy="659.23" r="2" fill="#FF8C14"/>
<circle cx="181.23" cy="659.67" r="2" fill="#FF8C14"/>
<circle cx="187.88" cy="660.02" r="2" fill="#FF8C14"/>
<circle cx="194.53" cy="660.3" r="2" fill="#FF8C14"/>
<circle cx="201.18" cy="660.53" r="2" fill="#FF8C14"/>
<circle cx="207.83" cy="660.72" r="2" fill="#FF8C14"/>
<circle cx="214.48" cy="660.87" r="2" fill="#FF8C14"/>
<circle cx="221.13" cy="660.99" r="2" fill="#FF8C14"/>
<circle cx="227.77" cy="661.09" r="2" fill="#FF8C14"/>
<circle cx="234.42" cy="661.17" r="2" fill="#FF8C14"/>
<circle cx="241.07" cy="661.23" r="2" fill="#FF8C14"/>
<circle cx="247.72" cy="661.28" r="2" fill="#FF8C14"/>
<circle cx="254.37" cy="661.32" r="2" fill="#FF8C14"/>
<circle cx="261.02" cy="661.36" r="2" fill="#FF8C14"/>
<path d="M70 661.5 L72.02 646.88 L74.03 632.42 L76.05 618.29 L78.06 604.66 L80.08 591.67 L82.09 579.49 L84.11 568.23 L86.12 558.04 L88.14 549.04 L90.15 541.31 L92.16 534.96 L94.18 530.05 L96.2 526.63 L98.21 524.76 L100.22 524.4 L102.24 525.05 L104.25 526.84 L106.27 529.93 L108.28 534.37 L110.3 540.11 L112.31 547.04 L114.33 554.97 L116.34 563.68 L118.36 572.9 L120.38 582.35 L122.39 591.75 L124.41 600.86 L126.42 609.45 L128.44 617.36 L130.45 624.47 L132.47 630.72 L134.48 636.1 L136.5 640.62 L138.51 644.36 L140.53 647.39 L142.54 649.81 L144.56 651.72 L146.57 653.2 L148.59 654.36 L150.6 655.25 L152.62 655.94 L154.63 656.49 L156.65 656.94 L158.66 657.31 L160.68 657.62 L162.69 657.89 L164.7 658.13 L166.72 658.35 L168.74 658.55 L170.75 658.73 L172.76 658.9 L174.78 659.07 L176.8 659.22 L178.81 659.36 L180.82 659.49 L182.84 659.62 L184.86 659.73 L186.87 659.84 L188.88 659.95 L190.9 660.04 L192.91 660.13 L194.93 660.22 L196.94 660.3 L198.96 660.37 L200.97 660.44 L202.99 660.51 L205.01 660.57 L207.02 660.63 L209.03 660.68 L211.05 660.74 L213.06 660.78 L215.08 660.83 L217.09 660.87 L219.11 660.91 L221.12 660.95 L223.14 660.98 L225.16 661.01 L227.17 661.04 L229.19 661.07 L231.2 661.1 L233.22 661.12 L235.23 661.15 L237.25 661.17 L239.26 661.19 L241.28 661.21 L243.29 661.23 L245.31 661.25 L247.32 661.26 L249.34 661.28 L251.35 661.29 L253.37 661.3 L255.38 661.32 L257.39 661.33 L259.41 661.34 L261.43 661.35 L263.44 661.36 L265.46 661.37 L267.47 661.38 L269.49 661.38 L271.5 661.39 L273.51 661.4 L275.53 661.4 L277.54 661.41 L279.56 661.42 L281.58 661.42 L283.59 661.43 L285.61 661.43 L287.62 661.43 L289.63 661.44 L291.65 661.44 L293.67 661.45 L295.68 661.45 L297.69 661.45 L299.71 661.46 L301.73 661.46 L303.74 661.46 L305.75 661.46 L307.77 661.47 L309.79 661.47 L311.8 661.47" fill="none" stroke="#FF8C14" stroke-width="1.1" stroke-linejoin="round"/>
<path d="M73.02 636.74 L70.52 641.49 L75.52 641.49 Z" fill="#FF8C14"/>
<path d="M79.67 591.34 L77.17 596.09 L82.17 596.09 Z" fill="#FF8C14"/>
<path d="M86.32 554.21 L83.82 558.96 L88.82 558.96 Z" fill="#FF8C14"/>
<path d="M92.97 529.94 L90.47 534.69 L95.47 534.69 Z" fill="#FF8C14"/>
<path d="M99.62 521.5 L97.12 526.25 L102.12 526.25 Z" fill="#FF8C14"/>
<path d="M106.27 527.06 L103.77 531.81 L108.77 531.81 Z" fill="#FF8C14"/>
<path d="M112.92 546.45 L110.42 551.2 L115.42 551.2 Z" fill="#FF8C14"/>
<path d="M119.57 575.69 L117.07 580.44 L122.07 580.44 Z" fill="#FF8C14"/>
<path d="M126.22 605.74 L123.72 610.49 L128.72 610.49 Z" fill="#FF8C14"/>
<path d="M132.87 628.99 L130.37 633.74 L135.37 633.74 Z" fill="#FF8C14"/>
<path d="M139.52 643.09 L137.02 647.84 L142.02 647.84 Z" fill="#FF8C14"/>
<path d="M146.17 650.06 L143.67 654.81 L148.67 654.81 Z" fill="#FF8C14"/>
<path d="M152.82 653.13 L150.32 657.88 L155.32 657.88 Z" fill="#FF8C14"/>
<path d="M159.47 654.56 L156.97 659.31 L161.97 659.31 Z" fill="#FF8C14"/>
<path d="M166.12 655.41 L163.62 660.16 L168.62 660.16 Z" fill="#FF8C14"/>
<path d="M172.77 656.03 L170.27 660.78 L175.27 660.78 Z" fill="#FF8C14"/>
<path d="M179.41 656.52 L176.91 661.27 L181.91 661.27 Z" fill="#FF8C14"/>
<path d="M186.06 656.92 L183.56 661.67 L188.56 661.67 Z" fill="#FF8C14"/>
<path d="M192.71 657.25 L190.21 662 L195.21 662 Z" fill="#FF8C14"/>
<path d="M199.36 657.51 L196.86 662.26 L201.86 662.26 Z" fill="#FF8C14"/>
<path d="M206.01 657.73 L203.51 662.48 L208.51 662.48 Z" fill="#FF8C14"/>
<path d="M212.66 657.9 L210.16 662.65 L215.16 662.65 Z" fill="#FF8C14"/>
<path d="M219.31 658.04 L216.81 662.79 L221.81 662.79 Z" fill="#FF8C14"/>
<path d="M225.96 658.15 L223.46 662.9 L228.46 662.9 Z" fill="#FF8C14"/>
<path d="M232.61 658.24 L230.11 662.99 L235.11 662.99 Z" fill="#FF8C14"/>
<path d="M239.26 658.32 L236.76 663.07 L241.76 663.07 Z" fill="#FF8C14"/>
<path d="M245.91 658.38 L243.41 663.13 L248.41 663.13 Z" fill="#FF8C14"/>
<path d="M252.56 658.42 L250.06 663.17 L255.06 663.17 Z" fill="#FF8C14"/>
<path d="M259.21 658.46 L256.71 663.21 L261.71 663.21 Z" fill="#FF8C14"/>
<path d="M265.86 658.49 L263.36 663.24 L268.36 663.24 Z" fill="#FF8C14"/>
<path d="M70 661.5 L72.02 641.81 L74.03 622.43 L76.05 603.7 L78.06 585.9 L80.08 569.34 L82.09 554.28 L84.11 540.96 L86.12 529.61 L88.14 520.4 L90.15 513.49 L92.16 509 L94.18 506.99 L96.2 507.1 L98.21 508.59 L100.22 511.74 L102.24 516.69 L104.25 523.42 L106.27 531.76 L108.28 541.46 L110.3 552.17 L112.31 563.5 L114.33 575.03 L116.34 586.37 L118.36 597.18 L120.38 607.16 L122.39 616.11 L124.41 623.93 L126.42 630.58 L128.44 636.11 L130.45 640.59 L132.47 644.15 L134.48 646.94 L136.5 649.09 L138.51 650.74 L140.53 652.01 L142.54 653 L144.56 653.78 L146.57 654.41 L148.59 654.94 L150.6 655.39 L152.62 655.8 L154.63 656.16 L156.65 656.49 L158.66 656.8 L160.68 657.09 L162.69 657.36 L164.7 657.62 L166.72 657.85 L168.74 658.08 L170.75 658.29 L172.76 658.49 L174.78 658.68 L176.8 658.85 L178.81 659.01 L180.82 659.17 L182.84 659.31 L184.86 659.45 L186.87 659.58 L188.88 659.7 L190.9 659.81 L192.91 659.92 L194.93 660.01 L196.94 660.11 L198.96 660.19 L200.97 660.28 L202.99 660.35 L205.01 660.42 L207.02 660.49 L209.03 660.56 L211.05 660.61 L213.06 660.67 L215.08 660.72 L217.09 660.77 L219.11 660.82 L221.12 660.86 L223.14 660.9 L225.16 660.94 L227.17 660.97 L229.19 661.01 L231.2 661.04 L233.22 661.07 L235.23 661.09 L237.25 661.12 L239.26 661.14 L241.28 661.16 L243.29 661.19 L245.31 661.21 L247.32 661.22 L249.34 661.24 L251.35 661.26 L253.37 661.27 L255.38 661.29 L257.39 661.3 L259.41 661.31 L261.43 661.32 L263.44 661.34 L265.46 661.35 L267.47 661.36 L269.49 661.36 L271.5 661.37 L273.51 661.38 L275.53 661.39 L277.54 661.4 L279.56 661.4 L281.58 661.41 L283.59 661.41 L285.61 661.42 L287.62 661.42 L289.63 661.43 L291.65 661.43 L293.67 661.44 L295.68 661.44 L297.69 661.45 L299.71 661.45 L301.73 661.45 L303.74 661.45 L305.75 661.46 L307.77 661.46 L309.79 661.46 L311.8 661.47" fill="none" stroke="#6E9BD8" stroke-width="1.1" stroke-linejoin="round"/>
<rect x="73.04" y="613.05" width="3.6" height="3.6" fill="#6E9BD8"/>
<rect x="79.69" y="556.82" width="3.6" height="3.6" fill="#6E9BD8"/>
<rect x="86.34" y="518.6" width="3.6" height="3.6" fill="#6E9BD8"/>
<rect x="92.98" y="505.07" width="3.6" height="3.6" fill="#6E9BD8"/>
<rect x="99.63" y="512.69" width="3.6" height="3.6" fill="#6E9BD8"/>
<rect x="106.28" y="538.63" width="3.6" height="3.6" fill="#6E9BD8"/>
<rect x="112.93" y="575.53" width="3.6" height="3.6" fill="#6E9BD8"/>
<rect x="119.58" y="609.97" width="3.6" height="3.6" fill="#6E9BD8"/>
<rect x="126.23" y="633.29" width="3.6" height="3.6" fill="#6E9BD8"/>
<rect x="132.88" y="645.38" width="3.6" height="3.6" fill="#6E9BD8"/>
<rect x="139.53" y="650.64" width="3.6" height="3.6" fill="#6E9BD8"/>
<rect x="146.18" y="652.99" width="3.6" height="3.6" fill="#6E9BD8"/>
<rect x="152.83" y="654.36" width="3.6" height="3.6" fill="#6E9BD8"/>
<rect x="159.48" y="655.37" width="3.6" height="3.6" fill="#6E9BD8"/>
<rect x="166.13" y="656.19" width="3.6" height="3.6" fill="#6E9BD8"/>
<rect x="172.78" y="656.86" width="3.6" height="3.6" fill="#6E9BD8"/>
<rect x="179.43" y="657.4" width="3.6" height="3.6" fill="#6E9BD8"/>
<rect x="186.08" y="657.84" width="3.6" height="3.6" fill="#6E9BD8"/>
<rect x="192.73" y="658.2" width="3.6" height="3.6" fill="#6E9BD8"/>
<rect x="199.38" y="658.48" width="3.6" height="3.6" fill="#6E9BD8"/>
<rect x="206.03" y="658.72" width="3.6" height="3.6" fill="#6E9BD8"/>
<rect x="212.68" y="658.91" width="3.6" height="3.6" fill="#6E9BD8"/>
<rect x="219.33" y="659.06" width="3.6" height="3.6" fill="#6E9BD8"/>
<rect x="225.97" y="659.18" width="3.6" height="3.6" fill="#6E9BD8"/>
<rect x="232.62" y="659.28" width="3.6" height="3.6" fill="#6E9BD8"/>
<rect x="239.27" y="659.36" width="3.6" height="3.6" fill="#6E9BD8"/>
<rect x="245.92" y="659.43" width="3.6" height="3.6" fill="#6E9BD8"/>
<rect x="252.57" y="659.48" width="3.6" height="3.6" fill="#6E9BD8"/>
<rect x="259.22" y="659.52" width="3.6" height="3.6" fill="#6E9BD8"/>
<path d="M70 661.5 L72.02 642.76 L74.03 624.3 L76.05 606.43 L78.06 589.41 L80.08 573.51 L82.09 558.97 L84.11 546.03 L86.12 534.88 L88.14 525.69 L90.15 518.61 L92.16 513.75 L94.18 511.18 L96.2 510.82 L98.21 511.81 L100.22 514.31 L102.24 518.49 L104.25 524.39 L106.27 531.88 L108.28 540.77 L110.3 550.76 L112.31 561.48 L114.33 572.56 L116.34 583.61 L118.36 594.28 L120.38 604.28 L122.39 613.39 L124.41 621.45 L126.42 628.41 L128.44 634.26 L130.45 639.08 L132.47 642.96 L134.48 646.04 L136.5 648.43 L138.51 650.28 L140.53 651.7 L142.54 652.8 L144.56 653.66 L146.57 654.35 L148.59 654.92 L150.6 655.39 L152.62 655.81 L154.63 656.18 L156.65 656.52 L158.66 656.83 L160.68 657.12 L162.69 657.39 L164.7 657.64 L166.72 657.88 L168.74 658.1 L170.75 658.31 L172.76 658.51 L174.78 658.69 L176.8 658.87 L178.81 659.03 L180.82 659.18 L182.84 659.33 L184.86 659.46 L186.87 659.59 L188.88 659.71 L190.9 659.82 L192.91 659.93 L194.93 660.02 L196.94 660.12 L198.96 660.2 L200.97 660.28 L202.99 660.36 L205.01 660.43 L207.02 660.5 L209.03 660.56 L211.05 660.62 L213.06 660.67 L215.08 660.73 L217.09 660.77 L219.11 660.82 L221.12 660.86 L223.14 660.9 L225.16 660.94 L227.17 660.98 L229.19 661.01 L231.2 661.04 L233.22 661.07 L235.23 661.09 L237.25 661.12 L239.26 661.14 L241.28 661.17 L243.29 661.19 L245.31 661.21 L247.32 661.23 L249.34 661.24 L251.35 661.26 L253.37 661.27 L255.38 661.29 L257.39 661.3 L259.41 661.31 L261.43 661.33 L263.44 661.34 L265.46 661.35 L267.47 661.36 L269.49 661.37 L271.5 661.37 L273.51 661.38 L275.53 661.39 L277.54 661.4 L279.56 661.4 L281.58 661.41 L283.59 661.41 L285.61 661.42 L287.62 661.42 L289.63 661.43 L291.65 661.43 L293.67 661.44 L295.68 661.44 L297.69 661.45 L299.71 661.45 L301.73 661.45 L303.74 661.46 L305.75 661.46 L307.77 661.46 L309.79 661.46 L311.8 661.47" fill="none" stroke="#6E9BD8" stroke-width="1.1" stroke-linejoin="round"/>
<circle cx="75.44" cy="611.71" r="2" fill="#6E9BD8"/>
<circle cx="82.09" cy="558.97" r="2" fill="#6E9BD8"/>
<circle cx="88.74" cy="523.34" r="2" fill="#6E9BD8"/>
<circle cx="95.39" cy="510.76" r="2" fill="#6E9BD8"/>
<circle cx="102.04" cy="518" r="2" fill="#6E9BD8"/>
<circle cx="108.69" cy="542.69" r="2" fill="#6E9BD8"/>
<circle cx="115.34" cy="578.11" r="2" fill="#6E9BD8"/>
<circle cx="121.99" cy="611.64" r="2" fill="#6E9BD8"/>
<circle cx="128.64" cy="634.79" r="2" fill="#6E9BD8"/>
<circle cx="135.29" cy="647.07" r="2" fill="#6E9BD8"/>
<circle cx="141.94" cy="652.5" r="2" fill="#6E9BD8"/>
<circle cx="148.59" cy="654.92" r="2" fill="#6E9BD8"/>
<circle cx="155.23" cy="656.29" r="2" fill="#6E9BD8"/>
<circle cx="161.88" cy="657.28" r="2" fill="#6E9BD8"/>
<circle cx="168.53" cy="658.08" r="2" fill="#6E9BD8"/>
<circle cx="175.18" cy="658.73" r="2" fill="#6E9BD8"/>
<circle cx="181.83" cy="659.26" r="2" fill="#6E9BD8"/>
<circle cx="188.48" cy="659.69" r="2" fill="#6E9BD8"/>
<circle cx="195.13" cy="660.03" r="2" fill="#6E9BD8"/>
<circle cx="201.78" cy="660.31" r="2" fill="#6E9BD8"/>
<circle cx="208.43" cy="660.54" r="2" fill="#6E9BD8"/>
<circle cx="215.08" cy="660.73" r="2" fill="#6E9BD8"/>
<circle cx="221.73" cy="660.88" r="2" fill="#6E9BD8"/>
<circle cx="228.38" cy="661" r="2" fill="#6E9BD8"/>
<circle cx="235.03" cy="661.09" r="2" fill="#6E9BD8"/>
<circle cx="241.68" cy="661.17" r="2" fill="#6E9BD8"/>
<circle cx="248.33" cy="661.23" r="2" fill="#6E9BD8"/>
<circle cx="254.98" cy="661.29" r="2" fill="#6E9BD8"/>
<circle cx="261.63" cy="661.33" r="2" fill="#6E9BD8"/>
<path d="M70 661.5 L72.02 648.28 L74.03 635.21 L76.05 622.43 L78.06 610.08 L80.08 598.29 L82.09 587.19 L84.11 576.91 L86.12 567.55 L88.14 559.22 L90.15 552.01 L92.16 546.01 L94.18 541.26 L96.2 537.84 L98.21 535.77 L100.22 535.08 L102.24 535.39 L104.25 536.56 L106.27 538.79 L108.28 542.11 L110.3 546.55 L112.31 552.02 L114.33 558.42 L116.34 565.58 L118.36 573.3 L120.38 581.38 L122.39 589.59 L124.41 597.72 L126.42 605.58 L128.44 613 L130.45 619.85 L132.47 626.05 L134.48 631.54 L136.5 636.32 L138.51 640.39 L140.53 643.81 L142.54 646.64 L144.56 648.94 L146.57 650.79 L148.59 652.27 L150.6 653.45 L152.62 654.39 L154.63 655.14 L156.65 655.75 L158.66 656.25 L160.68 656.67 L162.69 657.03 L164.7 657.35 L166.72 657.63 L168.74 657.88 L170.75 658.11 L172.76 658.32 L174.78 658.52 L176.8 658.71 L178.81 658.88 L180.82 659.04 L182.84 659.2 L184.86 659.34 L186.87 659.47 L188.88 659.6 L190.9 659.72 L192.91 659.83 L194.93 659.93 L196.94 660.03 L198.96 660.12 L200.97 660.21 L202.99 660.29 L205.01 660.37 L207.02 660.44 L209.03 660.5 L211.05 660.57 L213.06 660.62 L215.08 660.68 L217.09 660.73 L219.11 660.78 L221.12 660.82 L223.14 660.87 L225.16 660.91 L227.17 660.94 L229.19 660.98 L231.2 661.01 L233.22 661.04 L235.23 661.07 L237.25 661.1 L239.26 661.12 L241.28 661.15 L243.29 661.17 L245.31 661.19 L247.32 661.21 L249.34 661.23 L251.35 661.24 L253.37 661.26 L255.38 661.27 L257.39 661.29 L259.41 661.3 L261.43 661.31 L263.44 661.33 L265.46 661.34 L267.47 661.35 L269.49 661.36 L271.5 661.37 L273.51 661.37 L275.53 661.38 L277.54 661.39 L279.56 661.4 L281.58 661.4 L283.59 661.41 L285.61 661.41 L287.62 661.42 L289.63 661.43 L291.65 661.43 L293.67 661.43 L295.68 661.44 L297.69 661.44 L299.71 661.45 L301.73 661.45 L303.74 661.45 L305.75 661.46 L307.77 661.46 L309.79 661.46 L311.8 661.46" fill="none" stroke="#6E9BD8" stroke-width="1.1" stroke-linejoin="round"/>
<path d="M73.63 634.94 L71.13 639.69 L76.13 639.69 Z" fill="#6E9BD8"/>
<path d="M80.28 594.27 L77.78 599.02 L82.78 599.02 Z" fill="#6E9BD8"/>
<path d="M86.93 561.21 L84.43 565.96 L89.43 565.96 Z" fill="#6E9BD8"/>
<path d="M93.58 539.67 L91.08 544.42 L96.08 544.42 Z" fill="#6E9BD8"/>
<path d="M100.22 532.2 L97.72 536.95 L102.72 536.95 Z" fill="#6E9BD8"/>
<path d="M106.87 536.79 L104.37 541.54 L109.37 541.54 Z" fill="#6E9BD8"/>
<path d="M113.52 552.88 L111.02 557.63 L116.02 557.63 Z" fill="#6E9BD8"/>
<path d="M120.17 577.69 L117.67 582.44 L122.67 582.44 Z" fill="#6E9BD8"/>
<path d="M126.82 604.23 L124.32 608.98 L129.32 608.98 Z" fill="#6E9BD8"/>
<path d="M133.47 626.01 L130.97 630.76 L135.97 630.76 Z" fill="#6E9BD8"/>
<path d="M140.12 640.3 L137.62 645.05 L142.62 645.05 Z" fill="#6E9BD8"/>
<path d="M146.77 648.08 L144.27 652.83 L149.27 652.83 Z" fill="#6E9BD8"/>
<path d="M153.42 651.84 L150.92 656.59 L155.92 656.59 Z" fill="#6E9BD8"/>
<path d="M160.07 653.68 L157.57 658.43 L162.57 658.43 Z" fill="#6E9BD8"/>
<path d="M166.72 654.75 L164.22 659.5 L169.22 659.5 Z" fill="#6E9BD8"/>
<path d="M173.37 655.51 L170.87 660.26 L175.87 660.26 Z" fill="#6E9BD8"/>
<path d="M180.02 656.11 L177.52 660.86 L182.52 660.86 Z" fill="#6E9BD8"/>
<path d="M186.67 656.59 L184.17 661.34 L189.17 661.34 Z" fill="#6E9BD8"/>
<path d="M193.32 656.98 L190.82 661.73 L195.82 661.73 Z" fill="#6E9BD8"/>
<path d="M199.97 657.29 L197.47 662.04 L202.47 662.04 Z" fill="#6E9BD8"/>
<path d="M206.62 657.55 L204.12 662.3 L209.12 662.3 Z" fill="#6E9BD8"/>
<path d="M213.27 657.75 L210.77 662.5 L215.77 662.5 Z" fill="#6E9BD8"/>
<path d="M219.92 657.92 L217.42 662.67 L222.42 662.67 Z" fill="#6E9BD8"/>
<path d="M226.57 658.06 L224.07 662.81 L229.07 662.81 Z" fill="#6E9BD8"/>
<path d="M233.22 658.17 L230.72 662.92 L235.72 662.92 Z" fill="#6E9BD8"/>
<path d="M239.86 658.25 L237.36 663 L242.36 663 Z" fill="#6E9BD8"/>
<path d="M246.51 658.33 L244.01 663.08 L249.01 663.08 Z" fill="#6E9BD8"/>
<path d="M253.16 658.38 L250.66 663.13 L255.66 663.13 Z" fill="#6E9BD8"/>
<path d="M259.81 658.43 L257.31 663.18 L262.31 663.18 Z" fill="#6E9BD8"/>
<path d="M266.46 658.47 L263.96 663.22 L268.96 663.22 Z" fill="#6E9BD8"/>
<path d="M70 661.5 L72.02 643.33 L74.03 626.7 L76.05 611.07 L78.06 596.5 L80.08 583.1 L82.09 571.01 L84.11 560.35 L86.12 551.23 L88.14 543.74 L90.15 537.95 L92.16 533.93 L94.18 531.69 L96.2 531.2 L98.21 531.75 L100.22 533.32 L102.24 536.04 L104.25 539.94 L106.27 545.01 L108.28 551.12 L110.3 558.14 L112.31 565.85 L114.33 574.04 L116.34 582.45 L118.36 590.85 L120.38 599.02 L122.39 606.77 L124.41 613.95 L126.42 620.46 L128.44 626.24 L130.45 631.27 L132.47 635.57 L134.48 639.19 L136.5 642.19 L138.51 644.66 L140.53 646.67 L142.54 648.31 L144.56 649.64 L146.57 650.74 L148.59 651.66 L150.6 652.43 L152.62 653.09 L154.63 653.68 L156.65 654.2 L158.66 654.67 L160.68 655.11 L162.69 655.51 L164.7 655.88 L166.72 656.23 L168.74 656.55 L170.75 656.86 L172.76 657.15 L174.78 657.42 L176.8 657.67 L178.81 657.91 L180.82 658.13 L182.84 658.34 L184.86 658.54 L186.87 658.72 L188.88 658.89 L190.9 659.06 L192.91 659.21 L194.93 659.35 L196.94 659.49 L198.96 659.61 L200.97 659.73 L202.99 659.84 L205.01 659.95 L207.02 660.04 L209.03 660.13 L211.05 660.22 L213.06 660.3 L215.08 660.37 L217.09 660.44 L219.11 660.51 L221.12 660.57 L223.14 660.63 L225.16 660.69 L227.17 660.74 L229.19 660.78 L231.2 660.83 L233.22 660.87 L235.23 660.91 L237.25 660.95 L239.26 660.98 L241.28 661.01 L243.29 661.05 L245.31 661.07 L247.32 661.1 L249.34 661.13 L251.35 661.15 L253.37 661.17 L255.38 661.19 L257.39 661.21 L259.41 661.23 L261.43 661.25 L263.44 661.26 L265.46 661.28 L267.47 661.29 L269.49 661.3 L271.5 661.32 L273.51 661.33 L275.53 661.34 L277.54 661.35 L279.56 661.36 L281.58 661.37 L283.59 661.38 L285.61 661.38 L287.62 661.39 L289.63 661.4 L291.65 661.4 L293.67 661.41 L295.68 661.42 L297.69 661.42 L299.71 661.43 L301.73 661.43 L303.74 661.43 L305.75 661.44 L307.77 661.44 L309.79 661.45 L311.8 661.45" fill="none" stroke="#F51414" stroke-width="1.1" stroke-linejoin="round"/>
<rect x="73.94" y="611.55" width="3.6" height="3.6" fill="#F51414"/>
<rect x="80.59" y="567.52" width="3.6" height="3.6" fill="#F51414"/>
<rect x="87.24" y="539.12" width="3.6" height="3.6" fill="#F51414"/>
<rect x="93.89" y="529.38" width="3.6" height="3.6" fill="#F51414"/>
<rect x="100.54" y="534.4" width="3.6" height="3.6" fill="#F51414"/>
<rect x="107.19" y="551.69" width="3.6" height="3.6" fill="#F51414"/>
<rect x="113.84" y="577.69" width="3.6" height="3.6" fill="#F51414"/>
<rect x="120.49" y="604.59" width="3.6" height="3.6" fill="#F51414"/>
<rect x="127.14" y="625.77" width="3.6" height="3.6" fill="#F51414"/>
<rect x="133.79" y="639.11" width="3.6" height="3.6" fill="#F51414"/>
<rect x="140.44" y="646.28" width="3.6" height="3.6" fill="#F51414"/>
<rect x="147.09" y="649.98" width="3.6" height="3.6" fill="#F51414"/>
<rect x="153.74" y="652.12" width="3.6" height="3.6" fill="#F51414"/>
<rect x="160.39" y="653.61" width="3.6" height="3.6" fill="#F51414"/>
<rect x="167.04" y="654.77" width="3.6" height="3.6" fill="#F51414"/>
<rect x="173.69" y="655.71" width="3.6" height="3.6" fill="#F51414"/>
<rect x="180.33" y="656.47" width="3.6" height="3.6" fill="#F51414"/>
<rect x="186.98" y="657.09" width="3.6" height="3.6" fill="#F51414"/>
<rect x="193.63" y="657.59" width="3.6" height="3.6" fill="#F51414"/>
<rect x="200.28" y="657.99" width="3.6" height="3.6" fill="#F51414"/>
<rect x="206.93" y="658.32" width="3.6" height="3.6" fill="#F51414"/>
<rect x="213.58" y="658.59" width="3.6" height="3.6" fill="#F51414"/>
<rect x="220.23" y="658.8" width="3.6" height="3.6" fill="#F51414"/>
<rect x="226.88" y="658.97" width="3.6" height="3.6" fill="#F51414"/>
<rect x="233.53" y="659.11" width="3.6" height="3.6" fill="#F51414"/>
<rect x="240.18" y="659.23" width="3.6" height="3.6" fill="#F51414"/>
<rect x="246.83" y="659.32" width="3.6" height="3.6" fill="#F51414"/>
<rect x="253.48" y="659.39" width="3.6" height="3.6" fill="#F51414"/>
<rect x="260.13" y="659.45" width="3.6" height="3.6" fill="#F51414"/>
<path d="M70 661.5 L72.02 644.44 L74.03 628.81 L76.05 614.08 L78.06 600.3 L80.08 587.57 L82.09 576 L84.11 565.7 L86.12 556.78 L88.14 549.31 L90.15 543.37 L92.16 539 L94.18 536.24 L96.2 535.11 L98.21 535.27 L100.22 536.3 L102.24 538.38 L104.25 541.57 L106.27 545.89 L108.28 551.27 L110.3 557.58 L112.31 564.66 L114.33 572.3 L116.34 580.29 L118.36 588.39 L120.38 596.39 L122.39 604.09 L124.41 611.33 L126.42 617.99 L128.44 623.98 L130.45 629.27 L132.47 633.85 L134.48 637.75 L136.5 641.02 L138.51 643.73 L140.53 645.96 L142.54 647.77 L144.56 649.26 L146.57 650.47 L148.59 651.47 L150.6 652.31 L152.62 653.02 L154.63 653.63 L156.65 654.18 L158.66 654.66 L160.68 655.1 L162.69 655.51 L164.7 655.88 L166.72 656.23 L168.74 656.56 L170.75 656.87 L172.76 657.15 L174.78 657.42 L176.8 657.67 L178.81 657.91 L180.82 658.14 L182.84 658.34 L184.86 658.54 L186.87 658.72 L188.88 658.9 L190.9 659.06 L192.91 659.21 L194.93 659.36 L196.94 659.49 L198.96 659.61 L200.97 659.73 L202.99 659.84 L205.01 659.95 L207.02 660.04 L209.03 660.14 L211.05 660.22 L213.06 660.3 L215.08 660.38 L217.09 660.45 L219.11 660.51 L221.12 660.57 L223.14 660.63 L225.16 660.69 L227.17 660.74 L229.19 660.79 L231.2 660.83 L233.22 660.87 L235.23 660.91 L237.25 660.95 L239.26 660.98 L241.28 661.02 L243.29 661.05 L245.31 661.07 L247.32 661.1 L249.34 661.13 L251.35 661.15 L253.37 661.17 L255.38 661.19 L257.39 661.21 L259.41 661.23 L261.43 661.25 L263.44 661.26 L265.46 661.28 L267.47 661.29 L269.49 661.3 L271.5 661.32 L273.51 661.33 L275.53 661.34 L277.54 661.35 L279.56 661.36 L281.58 661.37 L283.59 661.38 L285.61 661.38 L287.62 661.39 L289.63 661.4 L291.65 661.4 L293.67 661.41 L295.68 661.42 L297.69 661.42 L299.71 661.43 L301.73 661.43 L303.74 661.43 L305.75 661.44 L307.77 661.44 L309.79 661.45 L311.8 661.45" fill="none" stroke="#F51414" stroke-width="1.1" stroke-linejoin="round"/>
<circle cx="76.65" cy="609.85" r="2" fill="#F51414"/>
<circle cx="83.3" cy="569.66" r="2" fill="#F51414"/>
<circle cx="89.95" cy="543.89" r="2" fill="#F51414"/>
<circle cx="96.6" cy="535.08" r="2" fill="#F51414"/>
<circle cx="103.25" cy="539.83" r="2" fill="#F51414"/>
<circle cx="109.9" cy="556.25" r="2" fill="#F51414"/>
<circle cx="116.55" cy="581.1" r="2" fill="#F51414"/>
<circle cx="123.2" cy="607.05" r="2" fill="#F51414"/>
<circle cx="129.85" cy="627.76" r="2" fill="#F51414"/>
<circle cx="136.5" cy="641.02" r="2" fill="#F51414"/>
<circle cx="143.14" cy="648.25" r="2" fill="#F51414"/>
<circle cx="149.79" cy="651.99" r="2" fill="#F51414"/>
<circle cx="156.44" cy="654.12" r="2" fill="#F51414"/>
<circle cx="163.09" cy="655.59" r="2" fill="#F51414"/>
<circle cx="169.74" cy="656.72" r="2" fill="#F51414"/>
<circle cx="176.39" cy="657.63" r="2" fill="#F51414"/>
<circle cx="183.04" cy="658.36" r="2" fill="#F51414"/>
<circle cx="189.69" cy="658.96" r="2" fill="#F51414"/>
<circle cx="196.34" cy="659.45" r="2" fill="#F51414"/>
<circle cx="202.99" cy="659.84" r="2" fill="#F51414"/>
<circle cx="209.64" cy="660.16" r="2" fill="#F51414"/>
<circle cx="216.29" cy="660.42" r="2" fill="#F51414"/>
<circle cx="222.94" cy="660.63" r="2" fill="#F51414"/>
<circle cx="229.59" cy="660.79" r="2" fill="#F51414"/>
<circle cx="236.24" cy="660.93" r="2" fill="#F51414"/>
<circle cx="242.89" cy="661.04" r="2" fill="#F51414"/>
<circle cx="249.54" cy="661.13" r="2" fill="#F51414"/>
<circle cx="256.19" cy="661.2" r="2" fill="#F51414"/>
<circle cx="262.84" cy="661.26" r="2" fill="#F51414"/>
<path d="M70 661.5 L72.02 649.05 L74.03 637.61 L76.05 626.75 L78.06 616.47 L80.08 606.83 L82.09 597.88 L84.11 589.7 L86.12 582.34 L88.14 575.85 L90.15 570.29 L92.16 565.69 L94.18 562.09 L96.2 559.51 L98.21 557.96 L100.22 557.44 L102.24 557.66 L104.25 558.46 L106.27 559.95 L108.28 562.17 L110.3 565.14 L112.31 568.82 L114.33 573.15 L116.34 578.05 L118.36 583.41 L120.38 589.11 L122.39 595.02 L124.41 601 L126.42 606.93 L128.44 612.69 L130.45 618.19 L132.47 623.33 L134.48 628.07 L136.5 632.37 L138.51 636.2 L140.53 639.57 L142.54 642.49 L144.56 644.99 L146.57 647.12 L148.59 648.9 L150.6 650.4 L152.62 651.64 L154.63 652.68 L156.65 653.54 L158.66 654.27 L160.68 654.88 L162.69 655.41 L164.7 655.87 L166.72 656.27 L168.74 656.63 L170.75 656.96 L172.76 657.26 L174.78 657.53 L176.8 657.78 L178.81 658.01 L180.82 658.23 L182.84 658.44 L184.86 658.63 L186.87 658.81 L188.88 658.97 L190.9 659.13 L192.91 659.28 L194.93 659.42 L196.94 659.55 L198.96 659.67 L200.97 659.78 L202.99 659.89 L205.01 659.99 L207.02 660.09 L209.03 660.18 L211.05 660.26 L213.06 660.34 L215.08 660.41 L217.09 660.48 L219.11 660.54 L221.12 660.6 L223.14 660.66 L225.16 660.71 L227.17 660.76 L229.19 660.81 L231.2 660.85 L233.22 660.89 L235.23 660.93 L237.25 660.96 L239.26 661 L241.28 661.03 L243.29 661.06 L245.31 661.09 L247.32 661.11 L249.34 661.14 L251.35 661.16 L253.37 661.18 L255.38 661.2 L257.39 661.22 L259.41 661.24 L261.43 661.25 L263.44 661.27 L265.46 661.28 L267.47 661.3 L269.49 661.31 L271.5 661.32 L273.51 661.33 L275.53 661.34 L277.54 661.35 L279.56 661.36 L281.58 661.37 L283.59 661.38 L285.61 661.39 L287.62 661.39 L289.63 661.4 L291.65 661.41 L293.67 661.41 L295.68 661.42 L297.69 661.42 L299.71 661.43 L301.73 661.43 L303.74 661.44 L305.75 661.44 L307.77 661.44 L309.79 661.45 L311.8 661.45" fill="none" stroke="#F51414" stroke-width="1.1" stroke-linejoin="round"/>
<path d="M73.63 636.98 L71.13 641.73 L76.13 641.73 Z" fill="#F51414"/>
<path d="M80.28 603.03 L77.78 607.78 L82.78 607.78 Z" fill="#F51414"/>
<path d="M86.93 576.76 L84.43 581.51 L89.43 581.51 Z" fill="#F51414"/>
<path d="M93.58 560.19 L91.08 564.94 L96.08 564.94 Z" fill="#F51414"/>
<path d="M100.22 554.57 L97.72 559.32 L102.72 559.32 Z" fill="#F51414"/>
<path d="M106.87 557.66 L104.37 562.41 L109.37 562.41 Z" fill="#F51414"/>
<path d="M113.52 568.47 L111.02 573.22 L116.02 573.22 Z" fill="#F51414"/>
<path d="M120.17 585.65 L117.67 590.4 L122.67 590.4 Z" fill="#F51414"/>
<path d="M126.82 605.22 L124.32 609.97 L129.32 609.97 Z" fill="#F51414"/>
<path d="M133.47 622.88 L130.97 627.63 L135.97 627.63 Z" fill="#F51414"/>
<path d="M140.12 636.05 L137.62 640.8 L142.62 640.8 Z" fill="#F51414"/>
<path d="M146.77 644.43 L144.27 649.18 L149.27 649.18 Z" fill="#F51414"/>
<path d="M153.42 649.2 L150.92 653.95 L155.92 653.95 Z" fill="#F51414"/>
<path d="M160.07 651.83 L157.57 656.58 L162.57 656.58 Z" fill="#F51414"/>
<path d="M166.72 653.4 L164.22 658.15 L169.22 658.15 Z" fill="#F51414"/>
<path d="M173.37 654.46 L170.87 659.21 L175.87 659.21 Z" fill="#F51414"/>
<path d="M180.02 655.27 L177.52 660.02 L182.52 660.02 Z" fill="#F51414"/>
<path d="M186.67 655.91 L184.17 660.66 L189.17 660.66 Z" fill="#F51414"/>
<path d="M193.32 656.43 L190.82 661.18 L195.82 661.18 Z" fill="#F51414"/>
<path d="M199.97 656.85 L197.47 661.6 L202.47 661.6 Z" fill="#F51414"/>
<path d="M206.62 657.19 L204.12 661.94 L209.12 661.94 Z" fill="#F51414"/>
<path d="M213.27 657.47 L210.77 662.22 L215.77 662.22 Z" fill="#F51414"/>
<path d="M219.92 657.69 L217.42 662.44 L222.42 662.44 Z" fill="#F51414"/>
<path d="M226.57 657.87 L224.07 662.62 L229.07 662.62 Z" fill="#F51414"/>
<path d="M233.22 658.02 L230.72 662.77 L235.72 662.77 Z" fill="#F51414"/>
<path d="M239.86 658.13 L237.36 662.88 L242.36 662.88 Z" fill="#F51414"/>
<path d="M246.51 658.23 L244.01 662.98 L249.01 662.98 Z" fill="#F51414"/>
<path d="M253.16 658.3 L250.66 663.05 L255.66 663.05 Z" fill="#F51414"/>
<path d="M259.81 658.37 L257.31 663.12 L262.31 663.12 Z" fill="#F51414"/>
<path d="M266.46 658.42 L263.96 663.17 L268.96 663.17 Z" fill="#F51414"/>
<path d="M70 661.5 L72.02 645.23 L74.03 633.53 L76.05 623.51 L78.06 614.72 L80.08 607.01 L82.09 600.29 L84.11 594.52 L86.12 589.65 L88.14 585.66 L90.15 582.52 L92.16 580.21 L94.18 578.7 L96.2 577.96 L98.21 577.93 L100.22 578.48 L102.24 579.56 L104.25 581.14 L106.27 583.17 L108.28 585.58 L110.3 588.32 L112.31 591.32 L114.33 594.51 L116.34 597.82 L118.36 601.2 L120.38 604.6 L122.39 607.97 L124.41 611.28 L126.42 614.49 L128.44 617.59 L130.45 620.56 L132.47 623.39 L134.48 626.08 L136.5 628.61 L138.51 631 L140.53 633.23 L142.54 635.32 L144.56 637.28 L146.57 639.09 L148.59 640.79 L150.6 642.36 L152.62 643.82 L154.63 645.17 L156.65 646.43 L158.66 647.59 L160.68 648.66 L162.69 649.65 L164.7 650.57 L166.72 651.41 L168.74 652.2 L170.75 652.92 L172.76 653.59 L174.78 654.2 L176.8 654.77 L178.81 655.29 L180.82 655.78 L182.84 656.22 L184.86 656.63 L186.87 657.01 L188.88 657.36 L190.9 657.69 L192.91 657.98 L194.93 658.26 L196.94 658.51 L198.96 658.74 L200.97 658.96 L202.99 659.16 L205.01 659.34 L207.02 659.51 L209.03 659.66 L211.05 659.81 L213.06 659.94 L215.08 660.06 L217.09 660.17 L219.11 660.28 L221.12 660.37 L223.14 660.46 L225.16 660.54 L227.17 660.62 L229.19 660.69 L231.2 660.75 L233.22 660.81 L235.23 660.86 L237.25 660.91 L239.26 660.96 L241.28 661 L243.29 661.04 L245.31 661.08 L247.32 661.11 L249.34 661.14 L251.35 661.17 L253.37 661.19 L255.38 661.22 L257.39 661.24 L259.41 661.26 L261.43 661.28 L263.44 661.3 L265.46 661.31 L267.47 661.33 L269.49 661.34 L271.5 661.35 L273.51 661.36 L275.53 661.37 L277.54 661.38 L279.56 661.39 L281.58 661.4 L283.59 661.41 L285.61 661.42 L287.62 661.42 L289.63 661.43 L291.65 661.43 L293.67 661.44 L295.68 661.44 L297.69 661.45 L299.71 661.45 L301.73 661.46 L303.74 661.46 L305.75 661.46 L307.77 661.47 L309.79 661.47 L311.8 661.47" fill="none" stroke="#00008B" stroke-width="1.1" stroke-linejoin="round"/>
<rect x="77.27" y="608.93" width="3.6" height="3.6" fill="#00008B"/>
<rect x="86.34" y="583.86" width="3.6" height="3.6" fill="#00008B"/>
<rect x="95.4" y="576.07" width="3.6" height="3.6" fill="#00008B"/>
<rect x="104.47" y="581.37" width="3.6" height="3.6" fill="#00008B"/>
<rect x="113.54" y="594.35" width="3.6" height="3.6" fill="#00008B"/>
<rect x="122.61" y="609.48" width="3.6" height="3.6" fill="#00008B"/>
<rect x="131.67" y="622.95" width="3.6" height="3.6" fill="#00008B"/>
<rect x="140.74" y="633.52" width="3.6" height="3.6" fill="#00008B"/>
<rect x="149.81" y="641.3" width="3.6" height="3.6" fill="#00008B"/>
<rect x="158.88" y="646.86" width="3.6" height="3.6" fill="#00008B"/>
<rect x="167.94" y="650.77" width="3.6" height="3.6" fill="#00008B"/>
<rect x="177.01" y="653.49" width="3.6" height="3.6" fill="#00008B"/>
<rect x="186.08" y="655.39" width="3.6" height="3.6" fill="#00008B"/>
<rect x="195.14" y="656.71" width="3.6" height="3.6" fill="#00008B"/>
<rect x="204.21" y="657.63" width="3.6" height="3.6" fill="#00008B"/>
<rect x="213.28" y="658.26" width="3.6" height="3.6" fill="#00008B"/>
<rect x="222.35" y="658.7" width="3.6" height="3.6" fill="#00008B"/>
<rect x="231.41" y="659.01" width="3.6" height="3.6" fill="#00008B"/>
<rect x="240.48" y="659.22" width="3.6" height="3.6" fill="#00008B"/>
<rect x="249.55" y="659.37" width="3.6" height="3.6" fill="#00008B"/>
<path d="M70 661.5 L72.02 646.63 L74.03 635.92 L76.05 626.7 L78.06 618.57 L80.08 611.38 L82.09 605.06 L84.11 599.56 L86.12 594.84 L88.14 590.89 L90.15 587.67 L92.16 585.17 L94.18 583.37 L96.2 582.25 L98.21 581.77 L100.22 581.9 L102.24 582.52 L104.25 583.62 L106.27 585.16 L108.28 587.1 L110.3 589.39 L112.31 591.97 L114.33 594.78 L116.34 597.75 L118.36 600.84 L120.38 603.99 L122.39 607.15 L124.41 610.29 L126.42 613.37 L128.44 616.37 L130.45 619.27 L132.47 622.05 L134.48 624.71 L136.5 627.23 L138.51 629.62 L140.53 631.87 L142.54 633.99 L144.56 635.97 L146.57 637.83 L148.59 639.56 L150.6 641.18 L152.62 642.68 L154.63 644.08 L156.65 645.38 L158.66 646.59 L160.68 647.71 L162.69 648.75 L164.7 649.71 L166.72 650.6 L168.74 651.43 L170.75 652.19 L172.76 652.89 L174.78 653.55 L176.8 654.15 L178.81 654.71 L180.82 655.23 L182.84 655.7 L184.86 656.15 L186.87 656.55 L188.88 656.93 L190.9 657.28 L192.91 657.6 L194.93 657.9 L196.94 658.17 L198.96 658.43 L200.97 658.66 L202.99 658.88 L205.01 659.08 L207.02 659.26 L209.03 659.43 L211.05 659.59 L213.06 659.74 L215.08 659.87 L217.09 659.99 L219.11 660.11 L221.12 660.22 L223.14 660.31 L225.16 660.4 L227.17 660.49 L229.19 660.56 L231.2 660.64 L233.22 660.7 L235.23 660.76 L237.25 660.82 L239.26 660.87 L241.28 660.92 L243.29 660.96 L245.31 661 L247.32 661.04 L249.34 661.08 L251.35 661.11 L253.37 661.14 L255.38 661.17 L257.39 661.19 L259.41 661.22 L261.43 661.24 L263.44 661.26 L265.46 661.28 L267.47 661.29 L269.49 661.31 L271.5 661.32 L273.51 661.34 L275.53 661.35 L277.54 661.36 L279.56 661.37 L281.58 661.38 L283.59 661.39 L285.61 661.4 L287.62 661.41 L289.63 661.41 L291.65 661.42 L293.67 661.43 L295.68 661.43 L297.69 661.44 L299.71 661.44 L301.73 661.45 L303.74 661.45 L305.75 661.45 L307.77 661.46 L309.79 661.46 L311.8 661.46" fill="none" stroke="#00008B" stroke-width="1.1" stroke-linejoin="round"/>
<circle cx="80.58" cy="609.72" r="2" fill="#00008B"/>
<circle cx="89.65" cy="588.41" r="2" fill="#00008B"/>
<circle cx="98.71" cy="581.75" r="2" fill="#00008B"/>
<circle cx="107.78" cy="586.58" r="2" fill="#00008B"/>
<circle cx="116.85" cy="598.52" r="2" fill="#00008B"/>
<circle cx="125.92" cy="612.61" r="2" fill="#00008B"/>
<circle cx="134.98" cy="625.35" r="2" fill="#00008B"/>
<circle cx="144.05" cy="635.49" r="2" fill="#00008B"/>
<circle cx="153.12" cy="643.04" r="2" fill="#00008B"/>
<circle cx="162.19" cy="648.5" r="2" fill="#00008B"/>
<circle cx="171.25" cy="652.37" r="2" fill="#00008B"/>
<circle cx="180.32" cy="655.1" r="2" fill="#00008B"/>
<circle cx="189.39" cy="657.02" r="2" fill="#00008B"/>
<circle cx="198.46" cy="658.36" r="2" fill="#00008B"/>
<circle cx="207.52" cy="659.31" r="2" fill="#00008B"/>
<circle cx="216.59" cy="659.96" r="2" fill="#00008B"/>
<circle cx="225.66" cy="660.43" r="2" fill="#00008B"/>
<circle cx="234.73" cy="660.75" r="2" fill="#00008B"/>
<circle cx="243.79" cy="660.97" r="2" fill="#00008B"/>
<circle cx="252.86" cy="661.13" r="2" fill="#00008B"/>
<circle cx="261.93" cy="661.24" r="2" fill="#00008B"/>
<path d="M70 661.5 L72.02 651.52 L74.03 644.26 L76.05 637.92 L78.06 632.23 L80.08 627.07 L82.09 622.39 L84.11 618.16 L86.12 614.35 L88.14 610.94 L90.15 607.94 L92.16 605.32 L94.18 603.08 L96.2 601.2 L98.21 599.69 L100.22 598.53 L102.24 597.71 L104.25 597.23 L106.27 597.07 L108.28 597.24 L110.3 597.74 L112.31 598.56 L114.33 599.69 L116.34 601.08 L118.36 602.72 L120.38 604.56 L122.39 606.56 L124.41 608.7 L126.42 610.94 L128.44 613.23 L130.45 615.56 L132.47 617.89 L134.48 620.21 L136.5 622.48 L138.51 624.7 L140.53 626.86 L142.54 628.93 L144.56 630.93 L146.57 632.83 L148.59 634.65 L150.6 636.37 L152.62 638 L154.63 639.54 L156.65 640.99 L158.66 642.36 L160.68 643.64 L162.69 644.85 L164.7 645.98 L166.72 647.03 L168.74 648.02 L170.75 648.94 L172.76 649.81 L174.78 650.61 L176.8 651.36 L178.81 652.06 L180.82 652.72 L182.84 653.33 L184.86 653.89 L186.87 654.42 L188.88 654.91 L190.9 655.37 L192.91 655.8 L194.93 656.2 L196.94 656.56 L198.96 656.91 L200.97 657.23 L202.99 657.53 L205.01 657.8 L207.02 658.06 L209.03 658.3 L211.05 658.53 L213.06 658.73 L215.08 658.93 L217.09 659.11 L219.11 659.27 L221.12 659.43 L223.14 659.57 L225.16 659.71 L227.17 659.83 L229.19 659.95 L231.2 660.06 L233.22 660.16 L235.23 660.25 L237.25 660.34 L239.26 660.42 L241.28 660.5 L243.29 660.57 L245.31 660.63 L247.32 660.69 L249.34 660.75 L251.35 660.8 L253.37 660.85 L255.38 660.9 L257.39 660.94 L259.41 660.98 L261.43 661.01 L263.44 661.05 L265.46 661.08 L267.47 661.11 L269.49 661.14 L271.5 661.16 L273.51 661.19 L275.53 661.21 L277.54 661.23 L279.56 661.25 L281.58 661.26 L283.59 661.28 L285.61 661.3 L287.62 661.31 L289.63 661.32 L291.65 661.34 L293.67 661.35 L295.68 661.36 L297.69 661.37 L299.71 661.38 L301.73 661.39 L303.74 661.39 L305.75 661.4 L307.77 661.41 L309.79 661.41 L311.8 661.42" fill="none" stroke="#00008B" stroke-width="1.1" stroke-linejoin="round"/>
<path d="M79.07 626.71 L76.57 631.46 L81.57 631.46 Z" fill="#00008B"/>
<path d="M88.14 608.07 L85.64 612.82 L90.64 612.82 Z" fill="#00008B"/>
<path d="M97.2 597.53 L94.7 602.28 L99.7 602.28 Z" fill="#00008B"/>
<path d="M106.27 594.2 L103.77 598.95 L108.77 598.95 Z" fill="#00008B"/>
<path d="M115.34 597.48 L112.84 602.23 L117.84 602.23 Z" fill="#00008B"/>
<path d="M124.41 605.83 L121.91 610.58 L126.91 610.58 Z" fill="#00008B"/>
<path d="M133.47 616.18 L130.97 620.93 L135.97 620.93 Z" fill="#00008B"/>
<path d="M142.54 626.06 L140.04 630.81 L145.04 630.81 Z" fill="#00008B"/>
<path d="M151.61 634.32 L149.11 639.07 L154.11 639.07 Z" fill="#00008B"/>
<path d="M160.68 640.77 L158.18 645.52 L163.18 645.52 Z" fill="#00008B"/>
<path d="M169.74 645.61 L167.24 650.36 L172.24 650.36 Z" fill="#00008B"/>
<path d="M178.81 649.19 L176.31 653.94 L181.31 653.94 Z" fill="#00008B"/>
<path d="M187.88 651.8 L185.38 656.55 L190.38 656.55 Z" fill="#00008B"/>
<path d="M196.94 653.69 L194.44 658.44 L199.44 658.44 Z" fill="#00008B"/>
<path d="M206.01 655.06 L203.51 659.81 L208.51 659.81 Z" fill="#00008B"/>
<path d="M215.08 656.05 L212.58 660.8 L217.58 660.8 Z" fill="#00008B"/>
<path d="M224.15 656.77 L221.65 661.52 L226.65 661.52 Z" fill="#00008B"/>
<path d="M233.21 657.28 L230.71 662.03 L235.71 662.03 Z" fill="#00008B"/>
<path d="M242.28 657.66 L239.78 662.41 L244.78 662.41 Z" fill="#00008B"/>
<path d="M251.35 657.93 L248.85 662.68 L253.85 662.68 Z" fill="#00008B"/>
<path d="M260.42 658.12 L257.92 662.87 L262.92 662.87 Z" fill="#00008B"/>
<path d="M269.48 658.26 L266.98 663.01 L271.98 663.01 Z" fill="#00008B"/>
<path d="M278.55 658.36 L276.05 663.11 L281.05 663.11 Z" fill="#00008B"/>
<path d="M70 661.5 L72.02 651.15 L74.03 644.26 L76.05 638.41 L78.06 633.26 L80.08 628.67 L82.09 624.55 L84.11 620.86 L86.12 617.55 L88.14 614.62 L90.15 612.03 L92.16 609.77 L94.18 607.83 L96.2 606.19 L98.21 604.85 L100.22 603.79 L102.24 603.01 L104.25 602.49 L106.27 602.22 L108.28 602.2 L110.3 602.43 L112.31 602.93 L114.33 603.67 L116.34 604.64 L118.36 605.82 L120.38 607.2 L122.39 608.73 L124.41 610.4 L126.42 612.18 L128.44 614.05 L130.45 615.97 L132.47 617.93 L134.48 619.91 L136.5 621.88 L138.51 623.83 L140.53 625.76 L142.54 627.63 L144.56 629.46 L146.57 631.23 L148.59 632.93 L150.6 634.57 L152.62 636.13 L154.63 637.62 L156.65 639.04 L158.66 640.39 L160.68 641.67 L162.69 642.89 L164.7 644.03 L166.72 645.11 L168.74 646.13 L170.75 647.09 L172.76 648 L174.78 648.85 L176.8 649.65 L178.81 650.4 L180.82 651.1 L182.84 651.76 L184.86 652.38 L186.87 652.96 L188.88 653.51 L190.9 654.02 L192.91 654.5 L194.93 654.95 L196.94 655.37 L198.96 655.76 L200.97 656.13 L202.99 656.48 L205.01 656.8 L207.02 657.1 L209.03 657.38 L211.05 657.65 L213.06 657.9 L215.08 658.13 L217.09 658.35 L219.11 658.55 L221.12 658.74 L223.14 658.92 L225.16 659.08 L227.17 659.24 L229.19 659.38 L231.2 659.52 L233.22 659.65 L235.23 659.77 L237.25 659.88 L239.26 659.98 L241.28 660.08 L243.29 660.17 L245.31 660.26 L247.32 660.34 L249.34 660.41 L251.35 660.48 L253.37 660.55 L255.38 660.61 L257.39 660.67 L259.41 660.72 L261.43 660.77 L263.44 660.82 L265.46 660.86 L267.47 660.9 L269.49 660.94 L271.5 660.98 L273.51 661.01 L275.53 661.04 L277.54 661.07 L279.56 661.1 L281.58 661.13 L283.59 661.15 L285.61 661.17 L287.62 661.19 L289.63 661.21 L291.65 661.23 L293.67 661.25 L295.68 661.27 L297.69 661.28 L299.71 661.29 L301.73 661.31 L303.74 661.32 L305.75 661.33 L307.77 661.34 L309.79 661.35 L311.8 661.36" fill="none" stroke="#8C8C8C" stroke-width="1.1" stroke-linejoin="round"/>
<rect x="73.94" y="637.44" width="3.6" height="3.6" fill="#8C8C8C"/>
<rect x="84.52" y="615.44" width="3.6" height="3.6" fill="#8C8C8C"/>
<rect x="95.1" y="603.89" width="3.6" height="3.6" fill="#8C8C8C"/>
<rect x="105.68" y="600.38" width="3.6" height="3.6" fill="#8C8C8C"/>
<rect x="116.26" y="603.83" width="3.6" height="3.6" fill="#8C8C8C"/>
<rect x="126.84" y="612.44" width="3.6" height="3.6" fill="#8C8C8C"/>
<rect x="137.42" y="622.71" width="3.6" height="3.6" fill="#8C8C8C"/>
<rect x="147.99" y="632.12" width="3.6" height="3.6" fill="#8C8C8C"/>
<rect x="158.57" y="639.69" width="3.6" height="3.6" fill="#8C8C8C"/>
<rect x="169.15" y="645.39" width="3.6" height="3.6" fill="#8C8C8C"/>
<rect x="179.73" y="649.54" width="3.6" height="3.6" fill="#8C8C8C"/>
<rect x="190.31" y="652.51" width="3.6" height="3.6" fill="#8C8C8C"/>
<rect x="200.89" y="654.63" width="3.6" height="3.6" fill="#8C8C8C"/>
<rect x="211.47" y="656.12" width="3.6" height="3.6" fill="#8C8C8C"/>
<rect x="222.05" y="657.18" width="3.6" height="3.6" fill="#8C8C8C"/>
<rect x="232.62" y="657.92" width="3.6" height="3.6" fill="#8C8C8C"/>
<rect x="243.2" y="658.45" width="3.6" height="3.6" fill="#8C8C8C"/>
<rect x="253.78" y="658.82" width="3.6" height="3.6" fill="#8C8C8C"/>
<rect x="264.36" y="659.08" width="3.6" height="3.6" fill="#8C8C8C"/>
<rect x="274.94" y="659.26" width="3.6" height="3.6" fill="#8C8C8C"/>
<rect x="285.52" y="659.39" width="3.6" height="3.6" fill="#8C8C8C"/>
<rect x="296.1" y="659.48" width="3.6" height="3.6" fill="#8C8C8C"/>
<path d="M70 661.5 L72.02 651.61 L74.03 645.01 L76.05 639.42 L78.06 634.49 L80.08 630.08 L82.09 626.12 L84.11 622.57 L86.12 619.38 L88.14 616.54 L90.15 614.03 L92.16 611.82 L94.18 609.92 L96.2 608.31 L98.21 606.97 L100.22 605.91 L102.24 605.1 L104.25 604.54 L106.27 604.21 L108.28 604.12 L110.3 604.27 L112.31 604.66 L114.33 605.28 L116.34 606.12 L118.36 607.17 L120.38 608.4 L122.39 609.79 L124.41 611.32 L126.42 612.96 L128.44 614.7 L130.45 616.5 L132.47 618.34 L134.48 620.21 L136.5 622.08 L138.51 623.95 L140.53 625.79 L142.54 627.6 L144.56 629.36 L146.57 631.07 L148.59 632.73 L150.6 634.33 L152.62 635.86 L154.63 637.32 L156.65 638.72 L158.66 640.06 L160.68 641.32 L162.69 642.53 L164.7 643.67 L166.72 644.74 L168.74 645.76 L170.75 646.72 L172.76 647.63 L174.78 648.48 L176.8 649.29 L178.81 650.04 L180.82 650.76 L182.84 651.42 L184.86 652.05 L186.87 652.64 L188.88 653.2 L190.9 653.72 L192.91 654.21 L194.93 654.66 L196.94 655.09 L198.96 655.5 L200.97 655.87 L202.99 656.23 L205.01 656.56 L207.02 656.87 L209.03 657.16 L211.05 657.44 L213.06 657.69 L215.08 657.93 L217.09 658.16 L219.11 658.37 L221.12 658.57 L223.14 658.75 L225.16 658.93 L227.17 659.09 L229.19 659.24 L231.2 659.39 L233.22 659.52 L235.23 659.64 L237.25 659.76 L239.26 659.87 L241.28 659.97 L243.29 660.07 L245.31 660.16 L247.32 660.25 L249.34 660.33 L251.35 660.4 L253.37 660.47 L255.38 660.53 L257.39 660.6 L259.41 660.65 L261.43 660.71 L263.44 660.76 L265.46 660.8 L267.47 660.85 L269.49 660.89 L271.5 660.93 L273.51 660.96 L275.53 661 L277.54 661.03 L279.56 661.06 L281.58 661.09 L283.59 661.11 L285.61 661.14 L287.62 661.16 L289.63 661.18 L291.65 661.2 L293.67 661.22 L295.68 661.24 L297.69 661.26 L299.71 661.27 L301.73 661.29 L303.74 661.3 L305.75 661.31 L307.77 661.32 L309.79 661.33 L311.8 661.35" fill="none" stroke="#8C8C8C" stroke-width="1.1" stroke-linejoin="round"/>
<circle cx="76.35" cy="638.64" r="2" fill="#8C8C8C"/>
<circle cx="86.93" cy="618.2" r="2" fill="#8C8C8C"/>
<circle cx="97.5" cy="607.41" r="2" fill="#8C8C8C"/>
<circle cx="108.08" cy="604.12" r="2" fill="#8C8C8C"/>
<circle cx="118.66" cy="607.34" r="2" fill="#8C8C8C"/>
<circle cx="129.24" cy="615.41" r="2" fill="#8C8C8C"/>
<circle cx="139.82" cy="625.15" r="2" fill="#8C8C8C"/>
<circle cx="150.4" cy="634.17" r="2" fill="#8C8C8C"/>
<circle cx="160.98" cy="641.51" r="2" fill="#8C8C8C"/>
<circle cx="171.56" cy="647.09" r="2" fill="#8C8C8C"/>
<circle cx="182.13" cy="651.19" r="2" fill="#8C8C8C"/>
<circle cx="192.71" cy="654.16" r="2" fill="#8C8C8C"/>
<circle cx="203.29" cy="656.28" r="2" fill="#8C8C8C"/>
<circle cx="213.87" cy="657.79" r="2" fill="#8C8C8C"/>
<circle cx="224.45" cy="658.87" r="2" fill="#8C8C8C"/>
<circle cx="235.03" cy="659.63" r="2" fill="#8C8C8C"/>
<circle cx="245.61" cy="660.17" r="2" fill="#8C8C8C"/>
<circle cx="256.19" cy="660.56" r="2" fill="#8C8C8C"/>
<circle cx="266.76" cy="660.83" r="2" fill="#8C8C8C"/>
<circle cx="277.34" cy="661.03" r="2" fill="#8C8C8C"/>
<circle cx="287.92" cy="661.16" r="2" fill="#8C8C8C"/>
<circle cx="298.5" cy="661.26" r="2" fill="#8C8C8C"/>
<path d="M70 661.5 L72.02 654.78 L74.03 650.28 L76.05 646.43 L78.06 642.99 L80.08 639.88 L82.09 637.04 L84.11 634.44 L86.12 632.05 L88.14 629.87 L90.15 627.88 L92.16 626.06 L94.18 624.43 L96.2 622.95 L98.21 621.64 L100.22 620.48 L102.24 619.47 L104.25 618.61 L106.27 617.89 L108.28 617.31 L110.3 616.86 L112.31 616.54 L114.33 616.35 L116.34 616.28 L118.36 616.34 L120.38 616.55 L122.39 616.91 L124.41 617.41 L126.42 618.04 L128.44 618.8 L130.45 619.67 L132.47 620.64 L134.48 621.7 L136.5 622.82 L138.51 624.01 L140.53 625.25 L142.54 626.52 L144.56 627.82 L146.57 629.13 L148.59 630.44 L150.6 631.74 L152.62 633.03 L154.63 634.3 L156.65 635.55 L158.66 636.77 L160.68 637.95 L162.69 639.1 L164.7 640.2 L166.72 641.27 L168.74 642.3 L170.75 643.29 L172.76 644.23 L174.78 645.14 L176.8 646 L178.81 646.83 L180.82 647.61 L182.84 648.36 L184.86 649.07 L186.87 649.75 L188.88 650.39 L190.9 651 L192.91 651.57 L194.93 652.12 L196.94 652.64 L198.96 653.13 L200.97 653.59 L202.99 654.03 L205.01 654.45 L207.02 654.84 L209.03 655.21 L211.05 655.56 L213.06 655.89 L215.08 656.21 L217.09 656.5 L219.11 656.78 L221.12 657.05 L223.14 657.3 L225.16 657.53 L227.17 657.76 L229.19 657.97 L231.2 658.16 L233.22 658.35 L235.23 658.53 L237.25 658.7 L239.26 658.85 L241.28 659 L243.29 659.14 L245.31 659.27 L247.32 659.4 L249.34 659.52 L251.35 659.63 L253.37 659.74 L255.38 659.83 L257.39 659.93 L259.41 660.02 L261.43 660.1 L263.44 660.18 L265.46 660.25 L267.47 660.32 L269.49 660.39 L271.5 660.45 L273.51 660.51 L275.53 660.57 L277.54 660.62 L279.56 660.67 L281.58 660.72 L283.59 660.76 L285.61 660.8 L287.62 660.84 L289.63 660.88 L291.65 660.91 L293.67 660.95 L295.68 660.98 L297.69 661.01 L299.71 661.03 L301.73 661.06 L303.74 661.09 L305.75 661.11 L307.77 661.13 L309.79 661.15 L311.8 661.17" fill="none" stroke="#8C8C8C" stroke-width="1.1" stroke-linejoin="round"/>
<path d="M74.23 647 L71.73 651.75 L76.73 651.75 Z" fill="#8C8C8C"/>
<path d="M84.81 630.7 L82.31 635.45 L87.31 635.45 Z" fill="#8C8C8C"/>
<path d="M95.39 620.65 L92.89 625.4 L97.89 625.4 Z" fill="#8C8C8C"/>
<path d="M105.97 615.12 L103.47 619.87 L108.47 619.87 Z" fill="#8C8C8C"/>
<path d="M116.55 613.4 L114.05 618.15 L119.05 618.15 Z" fill="#8C8C8C"/>
<path d="M127.13 615.42 L124.63 620.17 L129.63 620.17 Z" fill="#8C8C8C"/>
<path d="M137.7 620.66 L135.2 625.41 L140.2 625.41 Z" fill="#8C8C8C"/>
<path d="M148.28 627.36 L145.78 632.11 L150.78 632.11 Z" fill="#8C8C8C"/>
<path d="M158.86 634.01 L156.36 638.76 L161.36 638.76 Z" fill="#8C8C8C"/>
<path d="M169.44 639.78 L166.94 644.53 L171.94 644.53 Z" fill="#8C8C8C"/>
<path d="M180.02 644.43 L177.52 649.18 L182.52 649.18 Z" fill="#8C8C8C"/>
<path d="M190.6 648.03 L188.1 652.78 L193.1 652.78 Z" fill="#8C8C8C"/>
<path d="M201.18 650.76 L198.68 655.51 L203.68 655.51 Z" fill="#8C8C8C"/>
<path d="M211.76 652.8 L209.26 657.55 L214.26 657.55 Z" fill="#8C8C8C"/>
<path d="M222.33 654.32 L219.83 659.07 L224.83 659.07 Z" fill="#8C8C8C"/>
<path d="M232.91 655.45 L230.41 660.2 L235.41 660.2 Z" fill="#8C8C8C"/>
<path d="M243.49 656.28 L240.99 661.03 L245.99 661.03 Z" fill="#8C8C8C"/>
<path d="M254.07 656.9 L251.57 661.65 L256.57 661.65 Z" fill="#8C8C8C"/>
<path d="M264.65 657.35 L262.15 662.1 L267.15 662.1 Z" fill="#8C8C8C"/>
<path d="M275.23 657.68 L272.73 662.43 L277.73 662.43 Z" fill="#8C8C8C"/>
<path d="M285.81 657.93 L283.31 662.68 L288.31 662.68 Z" fill="#8C8C8C"/>
<path d="M296.39 658.11 L293.89 662.86 L298.89 662.86 Z" fill="#8C8C8C"/>
<path d="M306.96 658.25 L304.46 663 L309.46 663 Z" fill="#8C8C8C"/>
<path d="M70 661.5 L72.02 655.17 L74.03 650.95 L76.05 647.35 L78.06 644.17 L80.08 641.31 L82.09 638.73 L84.11 636.4 L86.12 634.29 L88.14 632.39 L90.15 630.69 L92.16 629.19 L94.18 627.86 L96.2 626.71 L98.21 625.73 L100.22 624.91 L102.24 624.25 L104.25 623.74 L106.27 623.38 L108.28 623.17 L110.3 623.09 L112.31 623.13 L114.33 623.28 L116.34 623.54 L118.36 623.9 L120.38 624.36 L122.39 624.91 L124.41 625.55 L126.42 626.26 L128.44 627.04 L130.45 627.88 L132.47 628.77 L134.48 629.71 L136.5 630.67 L138.51 631.67 L140.53 632.68 L142.54 633.7 L144.56 634.72 L146.57 635.74 L148.59 636.76 L150.6 637.76 L152.62 638.75 L154.63 639.71 L156.65 640.66 L158.66 641.58 L160.68 642.48 L162.69 643.34 L164.7 644.18 L166.72 644.99 L168.74 645.77 L170.75 646.52 L172.76 647.24 L174.78 647.94 L176.8 648.6 L178.81 649.23 L180.82 649.84 L182.84 650.42 L184.86 650.97 L186.87 651.5 L188.88 652 L190.9 652.48 L192.91 652.94 L194.93 653.37 L196.94 653.78 L198.96 654.18 L200.97 654.55 L202.99 654.91 L205.01 655.24 L207.02 655.56 L209.03 655.87 L211.05 656.16 L213.06 656.43 L215.08 656.7 L217.09 656.94 L219.11 657.18 L221.12 657.4 L223.14 657.61 L225.16 657.81 L227.17 658 L229.19 658.19 L231.2 658.36 L233.22 658.52 L235.23 658.67 L237.25 658.82 L239.26 658.96 L241.28 659.09 L243.29 659.22 L245.31 659.33 L247.32 659.45 L249.34 659.55 L251.35 659.65 L253.37 659.75 L255.38 659.84 L257.39 659.93 L259.41 660.01 L261.43 660.09 L263.44 660.16 L265.46 660.23 L267.47 660.29 L269.49 660.36 L271.5 660.42 L273.51 660.47 L275.53 660.53 L277.54 660.58 L279.56 660.62 L281.58 660.67 L283.59 660.71 L285.61 660.75 L287.62 660.79 L289.63 660.83 L291.65 660.86 L293.67 660.9 L295.68 660.93 L297.69 660.96 L299.71 660.99 L301.73 661.01 L303.74 661.04 L305.75 661.06 L307.77 661.09 L309.79 661.11 L311.8 661.13" fill="none" stroke="#8A14FF" stroke-width="1.1" stroke-linejoin="round"/>
<rect x="81.5" y="635.5" width="3.6" height="3.6" fill="#8A14FF"/>
<rect x="95.1" y="624.55" width="3.6" height="3.6" fill="#8A14FF"/>
<rect x="108.7" y="621.29" width="3.6" height="3.6" fill="#8A14FF"/>
<rect x="122.3" y="623.65" width="3.6" height="3.6" fill="#8A14FF"/>
<rect x="135.9" y="629.47" width="3.6" height="3.6" fill="#8A14FF"/>
<rect x="149.51" y="636.31" width="3.6" height="3.6" fill="#8A14FF"/>
<rect x="163.11" y="642.46" width="3.6" height="3.6" fill="#8A14FF"/>
<rect x="176.71" y="647.34" width="3.6" height="3.6" fill="#8A14FF"/>
<rect x="190.31" y="650.96" width="3.6" height="3.6" fill="#8A14FF"/>
<rect x="203.91" y="653.56" width="3.6" height="3.6" fill="#8A14FF"/>
<rect x="217.51" y="655.4" width="3.6" height="3.6" fill="#8A14FF"/>
<rect x="231.11" y="656.7" width="3.6" height="3.6" fill="#8A14FF"/>
<rect x="244.71" y="657.6" width="3.6" height="3.6" fill="#8A14FF"/>
<rect x="258.32" y="658.24" width="3.6" height="3.6" fill="#8A14FF"/>
<rect x="271.92" y="658.68" width="3.6" height="3.6" fill="#8A14FF"/>
<rect x="285.52" y="658.99" width="3.6" height="3.6" fill="#8A14FF"/>
<rect x="299.12" y="659.2" width="3.6" height="3.6" fill="#8A14FF"/>
<path d="M70 661.5 L72.02 655.48 L74.03 651.46 L76.05 648.03 L78.06 645 L80.08 642.27 L82.09 639.81 L84.11 637.57 L86.12 635.55 L88.14 633.73 L90.15 632.09 L92.16 630.64 L94.18 629.35 L96.2 628.23 L98.21 627.27 L100.22 626.46 L102.24 625.8 L104.25 625.29 L106.27 624.91 L108.28 624.67 L110.3 624.55 L112.31 624.56 L114.33 624.67 L116.34 624.89 L118.36 625.2 L120.38 625.6 L122.39 626.09 L124.41 626.66 L126.42 627.3 L128.44 628.02 L130.45 628.79 L132.47 629.61 L134.48 630.48 L136.5 631.38 L138.51 632.31 L140.53 633.25 L142.54 634.22 L144.56 635.18 L146.57 636.15 L148.59 637.12 L150.6 638.08 L152.62 639.02 L154.63 639.95 L156.65 640.86 L158.66 641.75 L160.68 642.61 L162.69 643.45 L164.7 644.26 L166.72 645.05 L168.74 645.81 L170.75 646.54 L172.76 647.25 L174.78 647.92 L176.8 648.57 L178.81 649.19 L180.82 649.79 L182.84 650.36 L184.86 650.91 L186.87 651.43 L188.88 651.92 L190.9 652.4 L192.91 652.85 L194.93 653.28 L196.94 653.69 L198.96 654.08 L200.97 654.45 L202.99 654.81 L205.01 655.15 L207.02 655.47 L209.03 655.77 L211.05 656.06 L213.06 656.34 L215.08 656.6 L217.09 656.85 L219.11 657.08 L221.12 657.31 L223.14 657.52 L225.16 657.72 L227.17 657.91 L229.19 658.1 L231.2 658.27 L233.22 658.44 L235.23 658.59 L237.25 658.74 L239.26 658.88 L241.28 659.01 L243.29 659.14 L245.31 659.26 L247.32 659.38 L249.34 659.48 L251.35 659.59 L253.37 659.68 L255.38 659.78 L257.39 659.87 L259.41 659.95 L261.43 660.03 L263.44 660.1 L265.46 660.17 L267.47 660.24 L269.49 660.31 L271.5 660.37 L273.51 660.43 L275.53 660.48 L277.54 660.53 L279.56 660.58 L281.58 660.63 L283.59 660.67 L285.61 660.72 L287.62 660.76 L289.63 660.79 L291.65 660.83 L293.67 660.86 L295.68 660.9 L297.69 660.93 L299.71 660.96 L301.73 660.98 L303.74 661.01 L305.75 661.04 L307.77 661.06 L309.79 661.08 L311.8 661.1" fill="none" stroke="#8A14FF" stroke-width="1.1" stroke-linejoin="round"/>
<circle cx="83.9" cy="637.79" r="2" fill="#8A14FF"/>
<circle cx="97.5" cy="627.59" r="2" fill="#8A14FF"/>
<circle cx="111.11" cy="624.54" r="2" fill="#8A14FF"/>
<circle cx="124.71" cy="626.75" r="2" fill="#8A14FF"/>
<circle cx="138.31" cy="632.21" r="2" fill="#8A14FF"/>
<circle cx="151.91" cy="638.69" r="2" fill="#8A14FF"/>
<circle cx="165.51" cy="644.58" r="2" fill="#8A14FF"/>
<circle cx="179.11" cy="649.28" r="2" fill="#8A14FF"/>
<circle cx="192.71" cy="652.81" r="2" fill="#8A14FF"/>
<circle cx="206.31" cy="655.36" r="2" fill="#8A14FF"/>
<circle cx="219.92" cy="657.17" r="2" fill="#8A14FF"/>
<circle cx="233.52" cy="658.46" r="2" fill="#8A14FF"/>
<circle cx="247.12" cy="659.36" r="2" fill="#8A14FF"/>
<circle cx="260.72" cy="660" r="2" fill="#8A14FF"/>
<circle cx="274.32" cy="660.45" r="2" fill="#8A14FF"/>
<circle cx="287.92" cy="660.76" r="2" fill="#8A14FF"/>
<circle cx="301.52" cy="660.98" r="2" fill="#8A14FF"/>
<path d="M70 661.5 L72.02 657.47 L74.03 654.77 L76.05 652.45 L78.06 650.37 L80.08 648.47 L82.09 646.73 L84.11 645.13 L86.12 643.65 L88.14 642.28 L90.15 641.01 L92.16 639.85 L94.18 638.78 L96.2 637.81 L98.21 636.92 L100.22 636.12 L102.24 635.4 L104.25 634.76 L106.27 634.21 L108.28 633.73 L110.3 633.32 L112.31 632.98 L114.33 632.72 L116.34 632.52 L118.36 632.4 L120.38 632.33 L122.39 632.33 L124.41 632.4 L126.42 632.53 L128.44 632.73 L130.45 632.98 L132.47 633.3 L134.48 633.67 L136.5 634.09 L138.51 634.56 L140.53 635.08 L142.54 635.63 L144.56 636.21 L146.57 636.83 L148.59 637.46 L150.6 638.12 L152.62 638.8 L154.63 639.48 L156.65 640.17 L158.66 640.86 L160.68 641.56 L162.69 642.25 L164.7 642.93 L166.72 643.61 L168.74 644.28 L170.75 644.94 L172.76 645.58 L174.78 646.21 L176.8 646.82 L178.81 647.41 L180.82 647.99 L182.84 648.55 L184.86 649.1 L186.87 649.62 L188.88 650.13 L190.9 650.62 L192.91 651.09 L194.93 651.55 L196.94 651.98 L198.96 652.4 L200.97 652.81 L202.99 653.19 L205.01 653.57 L207.02 653.92 L209.03 654.26 L211.05 654.59 L213.06 654.9 L215.08 655.2 L217.09 655.49 L219.11 655.76 L221.12 656.02 L223.14 656.27 L225.16 656.51 L227.17 656.74 L229.19 656.96 L231.2 657.17 L233.22 657.37 L235.23 657.56 L237.25 657.74 L239.26 657.91 L241.28 658.08 L243.29 658.24 L245.31 658.39 L247.32 658.53 L249.34 658.67 L251.35 658.8 L253.37 658.93 L255.38 659.05 L257.39 659.16 L259.41 659.27 L261.43 659.37 L263.44 659.47 L265.46 659.56 L267.47 659.65 L269.49 659.74 L271.5 659.82 L273.51 659.9 L275.53 659.97 L277.54 660.04 L279.56 660.11 L281.58 660.18 L283.59 660.24 L285.61 660.3 L287.62 660.35 L289.63 660.41 L291.65 660.46 L293.67 660.51 L295.68 660.55 L297.69 660.6 L299.71 660.64 L301.73 660.68 L303.74 660.72 L305.75 660.75 L307.77 660.79 L309.79 660.82 L311.8 660.85" fill="none" stroke="#8A14FF" stroke-width="1.1" stroke-linejoin="round"/>
<path d="M80.58 645.15 L78.08 649.9 L83.08 649.9 Z" fill="#8A14FF"/>
<path d="M94.18 635.91 L91.68 640.66 L96.68 640.66 Z" fill="#8A14FF"/>
<path d="M107.78 630.96 L105.28 635.71 L110.28 635.71 Z" fill="#8A14FF"/>
<path d="M121.38 629.45 L118.88 634.2 L123.88 634.2 Z" fill="#8A14FF"/>
<path d="M134.98 630.89 L132.48 635.64 L137.48 635.64 Z" fill="#8A14FF"/>
<path d="M148.59 634.59 L146.09 639.34 L151.09 639.34 Z" fill="#8A14FF"/>
<path d="M162.19 639.2 L159.69 643.95 L164.69 643.95 Z" fill="#8A14FF"/>
<path d="M175.79 643.64 L173.29 648.39 L178.29 648.39 Z" fill="#8A14FF"/>
<path d="M189.39 647.38 L186.89 652.13 L191.89 652.13 Z" fill="#8A14FF"/>
<path d="M202.99 650.32 L200.49 655.07 L205.49 655.07 Z" fill="#8A14FF"/>
<path d="M216.59 652.54 L214.09 657.29 L219.09 657.29 Z" fill="#8A14FF"/>
<path d="M230.19 654.19 L227.69 658.94 L232.69 658.94 Z" fill="#8A14FF"/>
<path d="M243.79 655.4 L241.29 660.15 L246.29 660.15 Z" fill="#8A14FF"/>
<path d="M257.4 656.28 L254.9 661.03 L259.9 661.03 Z" fill="#8A14FF"/>
<path d="M271 656.93 L268.5 661.68 L273.5 661.68 Z" fill="#8A14FF"/>
<path d="M284.6 657.39 L282.1 662.14 L287.1 662.14 Z" fill="#8A14FF"/>
<path d="M298.2 657.73 L295.7 662.48 L300.7 662.48 Z" fill="#8A14FF"/>
<path d="M70 661.5 L72.02 655.07 L74.03 650.82 L76.05 647.24 L78.06 644.14 L80.08 641.41 L82.09 639.02 L84.11 636.92 L86.12 635.09 L88.14 633.53 L90.15 632.21 L92.16 631.13 L94.18 630.28 L96.2 629.64 L98.21 629.21 L100.22 628.97 L102.24 628.92 L104.25 628.99 L106.27 629.14 L108.28 629.37 L110.3 629.68 L112.31 630.07 L114.33 630.53 L116.34 631.05 L118.36 631.63 L120.38 632.27 L122.39 632.96 L124.41 633.68 L126.42 634.44 L128.44 635.22 L130.45 636.03 L132.47 636.85 L134.48 637.68 L136.5 638.52 L138.51 639.35 L140.53 640.18 L142.54 641 L144.56 641.81 L146.57 642.61 L148.59 643.39 L150.6 644.15 L152.62 644.9 L154.63 645.62 L156.65 646.32 L158.66 647 L160.68 647.65 L162.69 648.28 L164.7 648.89 L166.72 649.47 L168.74 650.04 L170.75 650.58 L172.76 651.09 L174.78 651.59 L176.8 652.06 L178.81 652.51 L180.82 652.95 L182.84 653.36 L184.86 653.76 L186.87 654.13 L188.88 654.49 L190.9 654.83 L192.91 655.16 L194.93 655.47 L196.94 655.77 L198.96 656.05 L200.97 656.32 L202.99 656.58 L205.01 656.82 L207.02 657.05 L209.03 657.27 L211.05 657.48 L213.06 657.68 L215.08 657.87 L217.09 658.05 L219.11 658.22 L221.12 658.39 L223.14 658.54 L225.16 658.69 L227.17 658.83 L229.19 658.96 L231.2 659.09 L233.22 659.21 L235.23 659.32 L237.25 659.43 L239.26 659.53 L241.28 659.63 L243.29 659.73 L245.31 659.81 L247.32 659.9 L249.34 659.98 L251.35 660.05 L253.37 660.13 L255.38 660.2 L257.39 660.26 L259.41 660.32 L261.43 660.38 L263.44 660.44 L265.46 660.49 L267.47 660.54 L269.49 660.59 L271.5 660.63 L273.51 660.68 L275.53 660.72 L277.54 660.76 L279.56 660.79 L281.58 660.83 L283.59 660.86 L285.61 660.9 L287.62 660.93 L289.63 660.95 L291.65 660.98 L293.67 661.01 L295.68 661.03 L297.69 661.06 L299.71 661.08 L301.73 661.1 L303.74 661.12 L305.75 661.14 L307.77 661.16 L309.79 661.17 L311.8 661.19" fill="none" stroke="#800000" stroke-width="1.1" stroke-linejoin="round"/>
<rect x="75.76" y="643.08" width="3.6" height="3.6" fill="#800000"/>
<rect x="87.85" y="630.72" width="3.6" height="3.6" fill="#800000"/>
<rect x="99.94" y="627.12" width="3.6" height="3.6" fill="#800000"/>
<rect x="112.03" y="628.6" width="3.6" height="3.6" fill="#800000"/>
<rect x="124.12" y="632.45" width="3.6" height="3.6" fill="#800000"/>
<rect x="136.21" y="637.34" width="3.6" height="3.6" fill="#800000"/>
<rect x="148.3" y="642.17" width="3.6" height="3.6" fill="#800000"/>
<rect x="160.39" y="646.33" width="3.6" height="3.6" fill="#800000"/>
<rect x="172.48" y="649.67" width="3.6" height="3.6" fill="#800000"/>
<rect x="184.57" y="652.24" width="3.6" height="3.6" fill="#800000"/>
<rect x="196.66" y="654.18" width="3.6" height="3.6" fill="#800000"/>
<rect x="208.75" y="655.63" width="3.6" height="3.6" fill="#800000"/>
<rect x="220.84" y="656.7" width="3.6" height="3.6" fill="#800000"/>
<rect x="232.93" y="657.49" width="3.6" height="3.6" fill="#800000"/>
<rect x="245.02" y="658.08" width="3.6" height="3.6" fill="#800000"/>
<rect x="257.11" y="658.51" width="3.6" height="3.6" fill="#800000"/>
<rect x="269.2" y="658.82" width="3.6" height="3.6" fill="#800000"/>
<rect x="281.29" y="659.06" width="3.6" height="3.6" fill="#800000"/>
<rect x="293.38" y="659.23" width="3.6" height="3.6" fill="#800000"/>
<rect x="305.47" y="659.35" width="3.6" height="3.6" fill="#800000"/>
<path d="M70 661.5 L72.02 655.94 L74.03 652.24 L76.05 649.1 L78.06 646.35 L80.08 643.9 L82.09 641.71 L84.11 639.76 L86.12 638.02 L88.14 636.48 L90.15 635.13 L92.16 633.97 L94.18 632.98 L96.2 632.16 L98.21 631.51 L100.22 631 L102.24 630.65 L104.25 630.45 L106.27 630.38 L108.28 630.42 L110.3 630.54 L112.31 630.73 L114.33 631 L116.34 631.35 L118.36 631.76 L120.38 632.23 L122.39 632.76 L124.41 633.34 L126.42 633.97 L128.44 634.63 L130.45 635.33 L132.47 636.06 L134.48 636.81 L136.5 637.58 L138.51 638.36 L140.53 639.14 L142.54 639.93 L144.56 640.71 L146.57 641.49 L148.59 642.26 L150.6 643.01 L152.62 643.76 L154.63 644.49 L156.65 645.2 L158.66 645.89 L160.68 646.56 L162.69 647.21 L164.7 647.84 L166.72 648.45 L168.74 649.04 L170.75 649.6 L172.76 650.15 L174.78 650.67 L176.8 651.17 L178.81 651.66 L180.82 652.12 L182.84 652.56 L184.86 652.98 L186.87 653.39 L188.88 653.77 L190.9 654.14 L192.91 654.5 L194.93 654.83 L196.94 655.15 L198.96 655.46 L200.97 655.75 L202.99 656.03 L205.01 656.3 L207.02 656.55 L209.03 656.79 L211.05 657.02 L213.06 657.24 L215.08 657.45 L217.09 657.65 L219.11 657.83 L221.12 658.01 L223.14 658.18 L225.16 658.35 L227.17 658.5 L229.19 658.65 L231.2 658.79 L233.22 658.92 L235.23 659.05 L237.25 659.17 L239.26 659.28 L241.28 659.39 L243.29 659.5 L245.31 659.59 L247.32 659.69 L249.34 659.78 L251.35 659.86 L253.37 659.94 L255.38 660.02 L257.39 660.09 L259.41 660.16 L261.43 660.23 L263.44 660.29 L265.46 660.35 L267.47 660.41 L269.49 660.46 L271.5 660.51 L273.51 660.56 L275.53 660.61 L277.54 660.65 L279.56 660.69 L281.58 660.73 L283.59 660.77 L285.61 660.81 L287.62 660.84 L289.63 660.87 L291.65 660.9 L293.67 660.93 L295.68 660.96 L297.69 660.99 L299.71 661.01 L301.73 661.04 L303.74 661.06 L305.75 661.08 L307.77 661.1 L309.79 661.12 L311.8 661.14" fill="none" stroke="#800000" stroke-width="1.1" stroke-linejoin="round"/>
<circle cx="82.09" cy="641.71" r="2" fill="#800000"/>
<circle cx="94.18" cy="632.98" r="2" fill="#800000"/>
<circle cx="106.27" cy="630.38" r="2" fill="#800000"/>
<circle cx="118.36" cy="631.76" r="2" fill="#800000"/>
<circle cx="130.45" cy="635.33" r="2" fill="#800000"/>
<circle cx="142.54" cy="639.93" r="2" fill="#800000"/>
<circle cx="154.63" cy="644.49" r="2" fill="#800000"/>
<circle cx="166.72" cy="648.45" r="2" fill="#800000"/>
<circle cx="178.81" cy="651.66" r="2" fill="#800000"/>
<circle cx="190.9" cy="654.14" r="2" fill="#800000"/>
<circle cx="202.99" cy="656.03" r="2" fill="#800000"/>
<circle cx="215.08" cy="657.45" r="2" fill="#800000"/>
<circle cx="227.17" cy="658.5" r="2" fill="#800000"/>
<circle cx="239.26" cy="659.28" r="2" fill="#800000"/>
<circle cx="251.35" cy="659.86" r="2" fill="#800000"/>
<circle cx="263.44" cy="660.29" r="2" fill="#800000"/>
<circle cx="275.53" cy="660.61" r="2" fill="#800000"/>
<circle cx="287.62" cy="660.84" r="2" fill="#800000"/>
<circle cx="299.71" cy="661.01" r="2" fill="#800000"/>
<path d="M70 661.5 L72.02 657.5 L74.03 654.83 L76.05 652.54 L78.06 650.5 L80.08 648.66 L82.09 646.98 L84.11 645.45 L86.12 644.05 L88.14 642.77 L90.15 641.61 L92.16 640.56 L94.18 639.62 L96.2 638.77 L98.21 638.03 L100.22 637.38 L102.24 636.82 L104.25 636.35 L106.27 635.97 L108.28 635.67 L110.3 635.45 L112.31 635.31 L114.33 635.25 L116.34 635.25 L118.36 635.32 L120.38 635.44 L122.39 635.61 L124.41 635.83 L126.42 636.1 L128.44 636.42 L130.45 636.79 L132.47 637.19 L134.48 637.63 L136.5 638.1 L138.51 638.61 L140.53 639.13 L142.54 639.68 L144.56 640.25 L146.57 640.83 L148.59 641.42 L150.6 642.02 L152.62 642.62 L154.63 643.22 L156.65 643.83 L158.66 644.42 L160.68 645.02 L162.69 645.6 L164.7 646.18 L166.72 646.75 L168.74 647.3 L170.75 647.84 L172.76 648.37 L174.78 648.89 L176.8 649.39 L178.81 649.88 L180.82 650.35 L182.84 650.81 L184.86 651.25 L186.87 651.67 L188.88 652.09 L190.9 652.48 L192.91 652.86 L194.93 653.23 L196.94 653.59 L198.96 653.93 L200.97 654.25 L202.99 654.57 L205.01 654.87 L207.02 655.16 L209.03 655.43 L211.05 655.7 L213.06 655.95 L215.08 656.2 L217.09 656.43 L219.11 656.66 L221.12 656.87 L223.14 657.08 L225.16 657.27 L227.17 657.46 L229.19 657.64 L231.2 657.81 L233.22 657.97 L235.23 658.13 L237.25 658.28 L239.26 658.43 L241.28 658.56 L243.29 658.69 L245.31 658.82 L247.32 658.94 L249.34 659.05 L251.35 659.16 L253.37 659.27 L255.38 659.37 L257.39 659.46 L259.41 659.55 L261.43 659.64 L263.44 659.73 L265.46 659.8 L267.47 659.88 L269.49 659.95 L271.5 660.02 L273.51 660.09 L275.53 660.15 L277.54 660.21 L279.56 660.27 L281.58 660.33 L283.59 660.38 L285.61 660.43 L287.62 660.48 L289.63 660.52 L291.65 660.57 L293.67 660.61 L295.68 660.65 L297.69 660.69 L299.71 660.72 L301.73 660.76 L303.74 660.79 L305.75 660.82 L307.77 660.85 L309.79 660.88 L311.8 660.91" fill="none" stroke="#800000" stroke-width="1.1" stroke-linejoin="round"/>
<path d="M78.77 646.96 L76.27 651.71 L81.27 651.71 Z" fill="#800000"/>
<path d="M90.86 638.36 L88.36 643.11 L93.36 643.11 Z" fill="#800000"/>
<path d="M102.95 633.77 L100.45 638.52 L105.45 638.52 Z" fill="#800000"/>
<path d="M115.04 632.37 L112.54 637.12 L117.54 637.12 Z" fill="#800000"/>
<path d="M127.13 633.34 L124.63 638.09 L129.63 638.09 Z" fill="#800000"/>
<path d="M139.22 635.91 L136.72 640.66 L141.72 640.66 Z" fill="#800000"/>
<path d="M151.31 639.35 L148.81 644.1 L153.81 644.1 Z" fill="#800000"/>
<path d="M163.4 642.93 L160.9 647.68 L165.9 647.68 Z" fill="#800000"/>
<path d="M175.49 646.19 L172.99 650.94 L177.99 650.94 Z" fill="#800000"/>
<path d="M187.58 648.94 L185.08 653.69 L190.08 653.69 Z" fill="#800000"/>
<path d="M199.67 651.17 L197.17 655.92 L202.17 655.92 Z" fill="#800000"/>
<path d="M211.76 652.92 L209.26 657.67 L214.26 657.67 Z" fill="#800000"/>
<path d="M223.85 654.27 L221.35 659.02 L226.35 659.02 Z" fill="#800000"/>
<path d="M235.94 655.31 L233.44 660.06 L238.44 660.06 Z" fill="#800000"/>
<path d="M248.03 656.1 L245.53 660.85 L250.53 660.85 Z" fill="#800000"/>
<path d="M260.12 656.71 L257.62 661.46 L262.62 661.46 Z" fill="#800000"/>
<path d="M272.21 657.17 L269.71 661.92 L274.71 661.92 Z" fill="#800000"/>
<path d="M284.3 657.52 L281.8 662.27 L286.8 662.27 Z" fill="#800000"/>
<path d="M296.39 657.79 L293.89 662.54 L298.89 662.54 Z" fill="#800000"/>
<path d="M308.48 657.99 L305.98 662.74 L310.98 662.74 Z" fill="#800000"/>
<path d="M70 661.5 L72.02 658.28 L74.03 656.15 L76.05 654.35 L78.06 652.79 L80.08 651.4 L82.09 650.18 L84.11 649.1 L86.12 648.15 L88.14 647.33 L90.15 646.63 L92.16 646.04 L94.18 645.56 L96.2 645.18 L98.21 644.91 L100.22 644.73 L102.24 644.64 L104.25 644.63 L106.27 644.68 L108.28 644.76 L110.3 644.9 L112.31 645.07 L114.33 645.28 L116.34 645.52 L118.36 645.8 L120.38 646.11 L122.39 646.45 L124.41 646.81 L126.42 647.19 L128.44 647.59 L130.45 647.99 L132.47 648.41 L134.48 648.84 L136.5 649.27 L138.51 649.7 L140.53 650.14 L142.54 650.57 L144.56 650.99 L146.57 651.41 L148.59 651.82 L150.6 652.22 L152.62 652.61 L154.63 653 L156.65 653.37 L158.66 653.73 L160.68 654.07 L162.69 654.41 L164.7 654.73 L166.72 655.05 L168.74 655.35 L170.75 655.63 L172.76 655.91 L174.78 656.17 L176.8 656.43 L178.81 656.67 L180.82 656.9 L182.84 657.12 L184.86 657.34 L186.87 657.54 L188.88 657.73 L190.9 657.92 L192.91 658.09 L194.93 658.26 L196.94 658.42 L198.96 658.57 L200.97 658.71 L202.99 658.85 L205.01 658.98 L207.02 659.11 L209.03 659.23 L211.05 659.34 L213.06 659.45 L215.08 659.55 L217.09 659.64 L219.11 659.74 L221.12 659.82 L223.14 659.91 L225.16 659.99 L227.17 660.06 L229.19 660.13 L231.2 660.2 L233.22 660.27 L235.23 660.33 L237.25 660.39 L239.26 660.44 L241.28 660.49 L243.29 660.55 L245.31 660.59 L247.32 660.64 L249.34 660.68 L251.35 660.72 L253.37 660.76 L255.38 660.8 L257.39 660.83 L259.41 660.87 L261.43 660.9 L263.44 660.93 L265.46 660.96 L267.47 660.98 L269.49 661.01 L271.5 661.03 L273.51 661.06 L275.53 661.08 L277.54 661.1 L279.56 661.12 L281.58 661.14 L283.59 661.16 L285.61 661.17 L287.62 661.19 L289.63 661.21 L291.65 661.22 L293.67 661.23 L295.68 661.25 L297.69 661.26 L299.71 661.27 L301.73 661.28 L303.74 661.29 L305.75 661.31 L307.77 661.31 L309.79 661.32 L311.8 661.33" fill="none" stroke="#FF82FA" stroke-width="1.1" stroke-linejoin="round"/>
<rect x="74.25" y="652.55" width="3.6" height="3.6" fill="#FF82FA"/>
<rect x="87.85" y="644.99" width="3.6" height="3.6" fill="#FF82FA"/>
<rect x="101.45" y="642.83" width="3.6" height="3.6" fill="#FF82FA"/>
<rect x="115.05" y="643.79" width="3.6" height="3.6" fill="#FF82FA"/>
<rect x="128.65" y="646.19" width="3.6" height="3.6" fill="#FF82FA"/>
<rect x="142.25" y="649.08" width="3.6" height="3.6" fill="#FF82FA"/>
<rect x="155.85" y="651.75" width="3.6" height="3.6" fill="#FF82FA"/>
<rect x="169.45" y="653.9" width="3.6" height="3.6" fill="#FF82FA"/>
<rect x="183.06" y="655.54" width="3.6" height="3.6" fill="#FF82FA"/>
<rect x="196.66" y="656.73" width="3.6" height="3.6" fill="#FF82FA"/>
<rect x="210.26" y="657.59" width="3.6" height="3.6" fill="#FF82FA"/>
<rect x="223.86" y="658.21" width="3.6" height="3.6" fill="#FF82FA"/>
<rect x="237.46" y="658.64" width="3.6" height="3.6" fill="#FF82FA"/>
<rect x="251.06" y="658.95" width="3.6" height="3.6" fill="#FF82FA"/>
<rect x="264.66" y="659.17" width="3.6" height="3.6" fill="#FF82FA"/>
<rect x="278.26" y="659.33" width="3.6" height="3.6" fill="#FF82FA"/>
<rect x="291.87" y="659.43" width="3.6" height="3.6" fill="#FF82FA"/>
<rect x="305.47" y="659.51" width="3.6" height="3.6" fill="#FF82FA"/>
<path d="M70 661.5 L72.02 658.63 L74.03 656.72 L76.05 655.11 L78.06 653.69 L80.08 652.43 L82.09 651.3 L84.11 650.29 L86.12 649.39 L88.14 648.6 L90.15 647.9 L92.16 647.31 L94.18 646.8 L96.2 646.37 L98.21 646.03 L100.22 645.78 L102.24 645.6 L104.25 645.49 L106.27 645.45 L108.28 645.47 L110.3 645.54 L112.31 645.64 L114.33 645.78 L116.34 645.95 L118.36 646.16 L120.38 646.41 L122.39 646.68 L124.41 646.98 L126.42 647.3 L128.44 647.65 L130.45 648.01 L132.47 648.38 L134.48 648.77 L136.5 649.17 L138.51 649.57 L140.53 649.97 L142.54 650.38 L144.56 650.78 L146.57 651.18 L148.59 651.58 L150.6 651.97 L152.62 652.35 L154.63 652.73 L156.65 653.09 L158.66 653.45 L160.68 653.8 L162.69 654.13 L164.7 654.46 L166.72 654.77 L168.74 655.07 L170.75 655.37 L172.76 655.65 L174.78 655.92 L176.8 656.18 L178.81 656.42 L180.82 656.66 L182.84 656.89 L184.86 657.11 L186.87 657.32 L188.88 657.52 L190.9 657.71 L192.91 657.89 L194.93 658.06 L196.94 658.23 L198.96 658.39 L200.97 658.54 L202.99 658.68 L205.01 658.82 L207.02 658.95 L209.03 659.07 L211.05 659.19 L213.06 659.3 L215.08 659.41 L217.09 659.51 L219.11 659.61 L221.12 659.7 L223.14 659.79 L225.16 659.87 L227.17 659.95 L229.19 660.03 L231.2 660.1 L233.22 660.17 L235.23 660.24 L237.25 660.3 L239.26 660.36 L241.28 660.41 L243.29 660.47 L245.31 660.52 L247.32 660.57 L249.34 660.61 L251.35 660.66 L253.37 660.7 L255.38 660.74 L257.39 660.77 L259.41 660.81 L261.43 660.84 L263.44 660.88 L265.46 660.91 L267.47 660.94 L269.49 660.96 L271.5 660.99 L273.51 661.01 L275.53 661.04 L277.54 661.06 L279.56 661.08 L281.58 661.1 L283.59 661.12 L285.61 661.14 L287.62 661.16 L289.63 661.18 L291.65 661.19 L293.67 661.21 L295.68 661.22 L297.69 661.24 L299.71 661.25 L301.73 661.26 L303.74 661.27 L305.75 661.28 L307.77 661.29 L309.79 661.3 L311.8 661.31" fill="none" stroke="#FF82FA" stroke-width="1.1" stroke-linejoin="round"/>
<circle cx="79.07" cy="653.04" r="2" fill="#FF82FA"/>
<circle cx="92.67" cy="647.17" r="2" fill="#FF82FA"/>
<circle cx="106.27" cy="645.45" r="2" fill="#FF82FA"/>
<circle cx="119.87" cy="646.34" r="2" fill="#FF82FA"/>
<circle cx="133.47" cy="648.58" r="2" fill="#FF82FA"/>
<circle cx="147.07" cy="651.28" r="2" fill="#FF82FA"/>
<circle cx="160.68" cy="653.8" r="2" fill="#FF82FA"/>
<circle cx="174.28" cy="655.85" r="2" fill="#FF82FA"/>
<circle cx="187.88" cy="657.42" r="2" fill="#FF82FA"/>
<circle cx="201.48" cy="658.57" r="2" fill="#FF82FA"/>
<circle cx="215.08" cy="659.41" r="2" fill="#FF82FA"/>
<circle cx="228.68" cy="660.01" r="2" fill="#FF82FA"/>
<circle cx="242.28" cy="660.44" r="2" fill="#FF82FA"/>
<circle cx="255.88" cy="660.75" r="2" fill="#FF82FA"/>
<circle cx="269.49" cy="660.96" r="2" fill="#FF82FA"/>
<circle cx="283.09" cy="661.12" r="2" fill="#FF82FA"/>
<circle cx="296.69" cy="661.23" r="2" fill="#FF82FA"/>
<circle cx="310.29" cy="661.31" r="2" fill="#FF82FA"/>
<path d="M70 661.5 L72.02 659.51 L74.03 658.18 L76.05 657.04 L78.06 656.03 L80.08 655.11 L82.09 654.27 L84.11 653.51 L86.12 652.81 L88.14 652.17 L90.15 651.59 L92.16 651.07 L94.18 650.59 L96.2 650.17 L98.21 649.8 L100.22 649.47 L102.24 649.19 L104.25 648.95 L106.27 648.75 L108.28 648.6 L110.3 648.49 L112.31 648.41 L114.33 648.38 L116.34 648.37 L118.36 648.4 L120.38 648.46 L122.39 648.54 L124.41 648.65 L126.42 648.78 L128.44 648.94 L130.45 649.11 L132.47 649.31 L134.48 649.53 L136.5 649.77 L138.51 650.01 L140.53 650.28 L142.54 650.55 L144.56 650.83 L146.57 651.12 L148.59 651.42 L150.6 651.71 L152.62 652.01 L154.63 652.32 L156.65 652.62 L158.66 652.92 L160.68 653.21 L162.69 653.51 L164.7 653.8 L166.72 654.08 L168.74 654.36 L170.75 654.63 L172.76 654.9 L174.78 655.16 L176.8 655.41 L178.81 655.65 L180.82 655.89 L182.84 656.12 L184.86 656.34 L186.87 656.56 L188.88 656.76 L190.9 656.96 L192.91 657.15 L194.93 657.34 L196.94 657.52 L198.96 657.69 L200.97 657.85 L202.99 658.01 L205.01 658.16 L207.02 658.31 L209.03 658.45 L211.05 658.58 L213.06 658.71 L215.08 658.83 L217.09 658.95 L219.11 659.06 L221.12 659.17 L223.14 659.27 L225.16 659.37 L227.17 659.47 L229.19 659.56 L231.2 659.64 L233.22 659.73 L235.23 659.8 L237.25 659.88 L239.26 659.95 L241.28 660.02 L243.29 660.09 L245.31 660.15 L247.32 660.21 L249.34 660.27 L251.35 660.32 L253.37 660.38 L255.38 660.43 L257.39 660.47 L259.41 660.52 L261.43 660.56 L263.44 660.61 L265.46 660.65 L267.47 660.68 L269.49 660.72 L271.5 660.76 L273.51 660.79 L275.53 660.82 L277.54 660.85 L279.56 660.88 L281.58 660.91 L283.59 660.94 L285.61 660.96 L287.62 660.98 L289.63 661.01 L291.65 661.03 L293.67 661.05 L295.68 661.07 L297.69 661.09 L299.71 661.11 L301.73 661.13 L303.74 661.14 L305.75 661.16 L307.77 661.17 L309.79 661.19 L311.8 661.2" fill="none" stroke="#FF82FA" stroke-width="1.1" stroke-linejoin="round"/>
<path d="M74.53 655.01 L72.03 659.76 L77.03 659.76 Z" fill="#FF82FA"/>
<path d="M88.14 649.3 L85.64 654.05 L90.64 654.05 Z" fill="#FF82FA"/>
<path d="M101.74 646.38 L99.24 651.13 L104.24 651.13 Z" fill="#FF82FA"/>
<path d="M115.34 645.5 L112.84 650.25 L117.84 650.25 Z" fill="#FF82FA"/>
<path d="M128.94 646.1 L126.44 650.85 L131.44 650.85 Z" fill="#FF82FA"/>
<path d="M142.54 647.67 L140.04 652.42 L145.04 652.42 Z" fill="#FF82FA"/>
<path d="M156.14 649.67 L153.64 654.42 L158.64 654.42 Z" fill="#FF82FA"/>
<path d="M169.74 651.62 L167.24 656.37 L172.24 656.37 Z" fill="#FF82FA"/>
<path d="M183.34 653.3 L180.84 658.05 L185.84 658.05 Z" fill="#FF82FA"/>
<path d="M196.94 654.64 L194.44 659.39 L199.44 659.39 Z" fill="#FF82FA"/>
<path d="M210.55 655.67 L208.05 660.42 L213.05 660.42 Z" fill="#FF82FA"/>
<path d="M224.15 656.45 L221.65 661.2 L226.65 661.2 Z" fill="#FF82FA"/>
<path d="M237.75 657.02 L235.25 661.77 L240.25 661.77 Z" fill="#FF82FA"/>
<path d="M251.35 657.45 L248.85 662.2 L253.85 662.2 Z" fill="#FF82FA"/>
<path d="M264.95 657.76 L262.45 662.51 L267.45 662.51 Z" fill="#FF82FA"/>
<path d="M278.55 657.99 L276.05 662.74 L281.05 662.74 Z" fill="#FF82FA"/>
<path d="M292.15 658.16 L289.65 662.91 L294.65 662.91 Z" fill="#FF82FA"/>
<path d="M305.76 658.28 L303.26 663.03 L308.26 663.03 Z" fill="#FF82FA"/></g>
<text x="178.6" y="483.4" text-anchor="middle" class="lg2" font-style="italic">a</text>
<text x="207.8" y="483.4" text-anchor="middle" class="lg2">Fluid A</text>
<text x="247.6" y="483.4" text-anchor="middle" class="lg2">Fluid B</text>
<text x="288.1" y="483.4" text-anchor="middle" class="lg2">Fluid C</text>
<text x="179.5" y="495.8" text-anchor="middle" class="lg2">10</text>
<path d="M194.2 492.3 H217.8" stroke="#0A8A1E" stroke-width="1.1"/>
<rect x="204.11" y="490.41" width="3.78" height="3.78" fill="#0A8A1E"/>
<path d="M233.8 492.3 H257.4" stroke="#0A8A1E" stroke-width="1.1"/>
<circle cx="245.6" cy="492.3" r="2.1" fill="#0A8A1E"/>
<path d="M273.4 492.3 H297" stroke="#0A8A1E" stroke-width="1.1"/>
<path d="M285.2 489.28 L282.57 494.27 L287.82 494.27 Z" fill="#0A8A1E"/>
<text x="179.5" y="508.29" text-anchor="middle" class="lg2">8</text>
<path d="M194.2 504.79 H217.8" stroke="#FF8C14" stroke-width="1.1"/>
<rect x="204.11" y="502.9" width="3.78" height="3.78" fill="#FF8C14"/>
<path d="M233.8 504.79 H257.4" stroke="#FF8C14" stroke-width="1.1"/>
<circle cx="245.6" cy="504.79" r="2.1" fill="#FF8C14"/>
<path d="M273.4 504.79 H297" stroke="#FF8C14" stroke-width="1.1"/>
<path d="M285.2 501.77 L282.57 506.76 L287.82 506.76 Z" fill="#FF8C14"/>
<text x="179.5" y="520.78" text-anchor="middle" class="lg2">6</text>
<path d="M194.2 517.28 H217.8" stroke="#6E9BD8" stroke-width="1.1"/>
<rect x="204.11" y="515.39" width="3.78" height="3.78" fill="#6E9BD8"/>
<path d="M233.8 517.28 H257.4" stroke="#6E9BD8" stroke-width="1.1"/>
<circle cx="245.6" cy="517.28" r="2.1" fill="#6E9BD8"/>
<path d="M273.4 517.28 H297" stroke="#6E9BD8" stroke-width="1.1"/>
<path d="M285.2 514.26 L282.57 519.25 L287.82 519.25 Z" fill="#6E9BD8"/>
<text x="179.5" y="533.27" text-anchor="middle" class="lg2">4</text>
<path d="M194.2 529.77 H217.8" stroke="#F51414" stroke-width="1.1"/>
<rect x="204.11" y="527.88" width="3.78" height="3.78" fill="#F51414"/>
<path d="M233.8 529.77 H257.4" stroke="#F51414" stroke-width="1.1"/>
<circle cx="245.6" cy="529.77" r="2.1" fill="#F51414"/>
<path d="M273.4 529.77 H297" stroke="#F51414" stroke-width="1.1"/>
<path d="M285.2 526.75 L282.57 531.74 L287.82 531.74 Z" fill="#F51414"/>
<text x="179.5" y="545.76" text-anchor="middle" class="lg2">2</text>
<path d="M194.2 542.26 H217.8" stroke="#00008B" stroke-width="1.1"/>
<rect x="204.11" y="540.37" width="3.78" height="3.78" fill="#00008B"/>
<path d="M233.8 542.26 H257.4" stroke="#00008B" stroke-width="1.1"/>
<circle cx="245.6" cy="542.26" r="2.1" fill="#00008B"/>
<path d="M273.4 542.26 H297" stroke="#00008B" stroke-width="1.1"/>
<path d="M285.2 539.24 L282.57 544.23 L287.82 544.23 Z" fill="#00008B"/>
<text x="179.5" y="558.25" text-anchor="middle" class="lg2">1.5</text>
<path d="M194.2 554.75 H217.8" stroke="#8C8C8C" stroke-width="1.1"/>
<rect x="204.11" y="552.86" width="3.78" height="3.78" fill="#8C8C8C"/>
<path d="M233.8 554.75 H257.4" stroke="#8C8C8C" stroke-width="1.1"/>
<circle cx="245.6" cy="554.75" r="2.1" fill="#8C8C8C"/>
<path d="M273.4 554.75 H297" stroke="#8C8C8C" stroke-width="1.1"/>
<path d="M285.2 551.73 L282.57 556.72 L287.82 556.72 Z" fill="#8C8C8C"/>
<text x="179.5" y="570.74" text-anchor="middle" class="lg2">1</text>
<path d="M194.2 567.24 H217.8" stroke="#8A14FF" stroke-width="1.1"/>
<rect x="204.11" y="565.35" width="3.78" height="3.78" fill="#8A14FF"/>
<path d="M233.8 567.24 H257.4" stroke="#8A14FF" stroke-width="1.1"/>
<circle cx="245.6" cy="567.24" r="2.1" fill="#8A14FF"/>
<path d="M273.4 567.24 H297" stroke="#8A14FF" stroke-width="1.1"/>
<path d="M285.2 564.22 L282.57 569.21 L287.82 569.21 Z" fill="#8A14FF"/>
<text x="179.5" y="583.23" text-anchor="middle" class="lg2">0.7</text>
<path d="M194.2 579.73 H217.8" stroke="#800000" stroke-width="1.1"/>
<rect x="204.11" y="577.84" width="3.78" height="3.78" fill="#800000"/>
<path d="M233.8 579.73 H257.4" stroke="#800000" stroke-width="1.1"/>
<circle cx="245.6" cy="579.73" r="2.1" fill="#800000"/>
<path d="M273.4 579.73 H297" stroke="#800000" stroke-width="1.1"/>
<path d="M285.2 576.71 L282.57 581.7 L287.82 581.7 Z" fill="#800000"/>
<text x="179.5" y="595.72" text-anchor="middle" class="lg2">0.4</text>
<path d="M194.2 592.22 H217.8" stroke="#FF82FA" stroke-width="1.1"/>
<rect x="204.11" y="590.33" width="3.78" height="3.78" fill="#FF82FA"/>
<path d="M233.8 592.22 H257.4" stroke="#FF82FA" stroke-width="1.1"/>
<circle cx="245.6" cy="592.22" r="2.1" fill="#FF82FA"/>
<path d="M273.4 592.22 H297" stroke="#FF82FA" stroke-width="1.1"/>
<path d="M285.2 589.2 L282.57 594.19 L287.82 594.19 Z" fill="#FF82FA"/>
<text x="291.1" y="647.6" text-anchor="middle" class="pl">(e)</text>
<text x="191.8" y="688.6" text-anchor="middle" class="ax"><tspan font-style="italic">t</tspan>*</text>
<text transform="translate(35.1 568) rotate(-90)" text-anchor="middle" class="ax"><tspan font-style="italic">U</tspan><tspan font-size="5.8px" dy="3" font-style="italic">pz</tspan><tspan dy="-5.2" dx="1.2" font-size="9.5px">*</tspan></text>
</svg></body></html>
